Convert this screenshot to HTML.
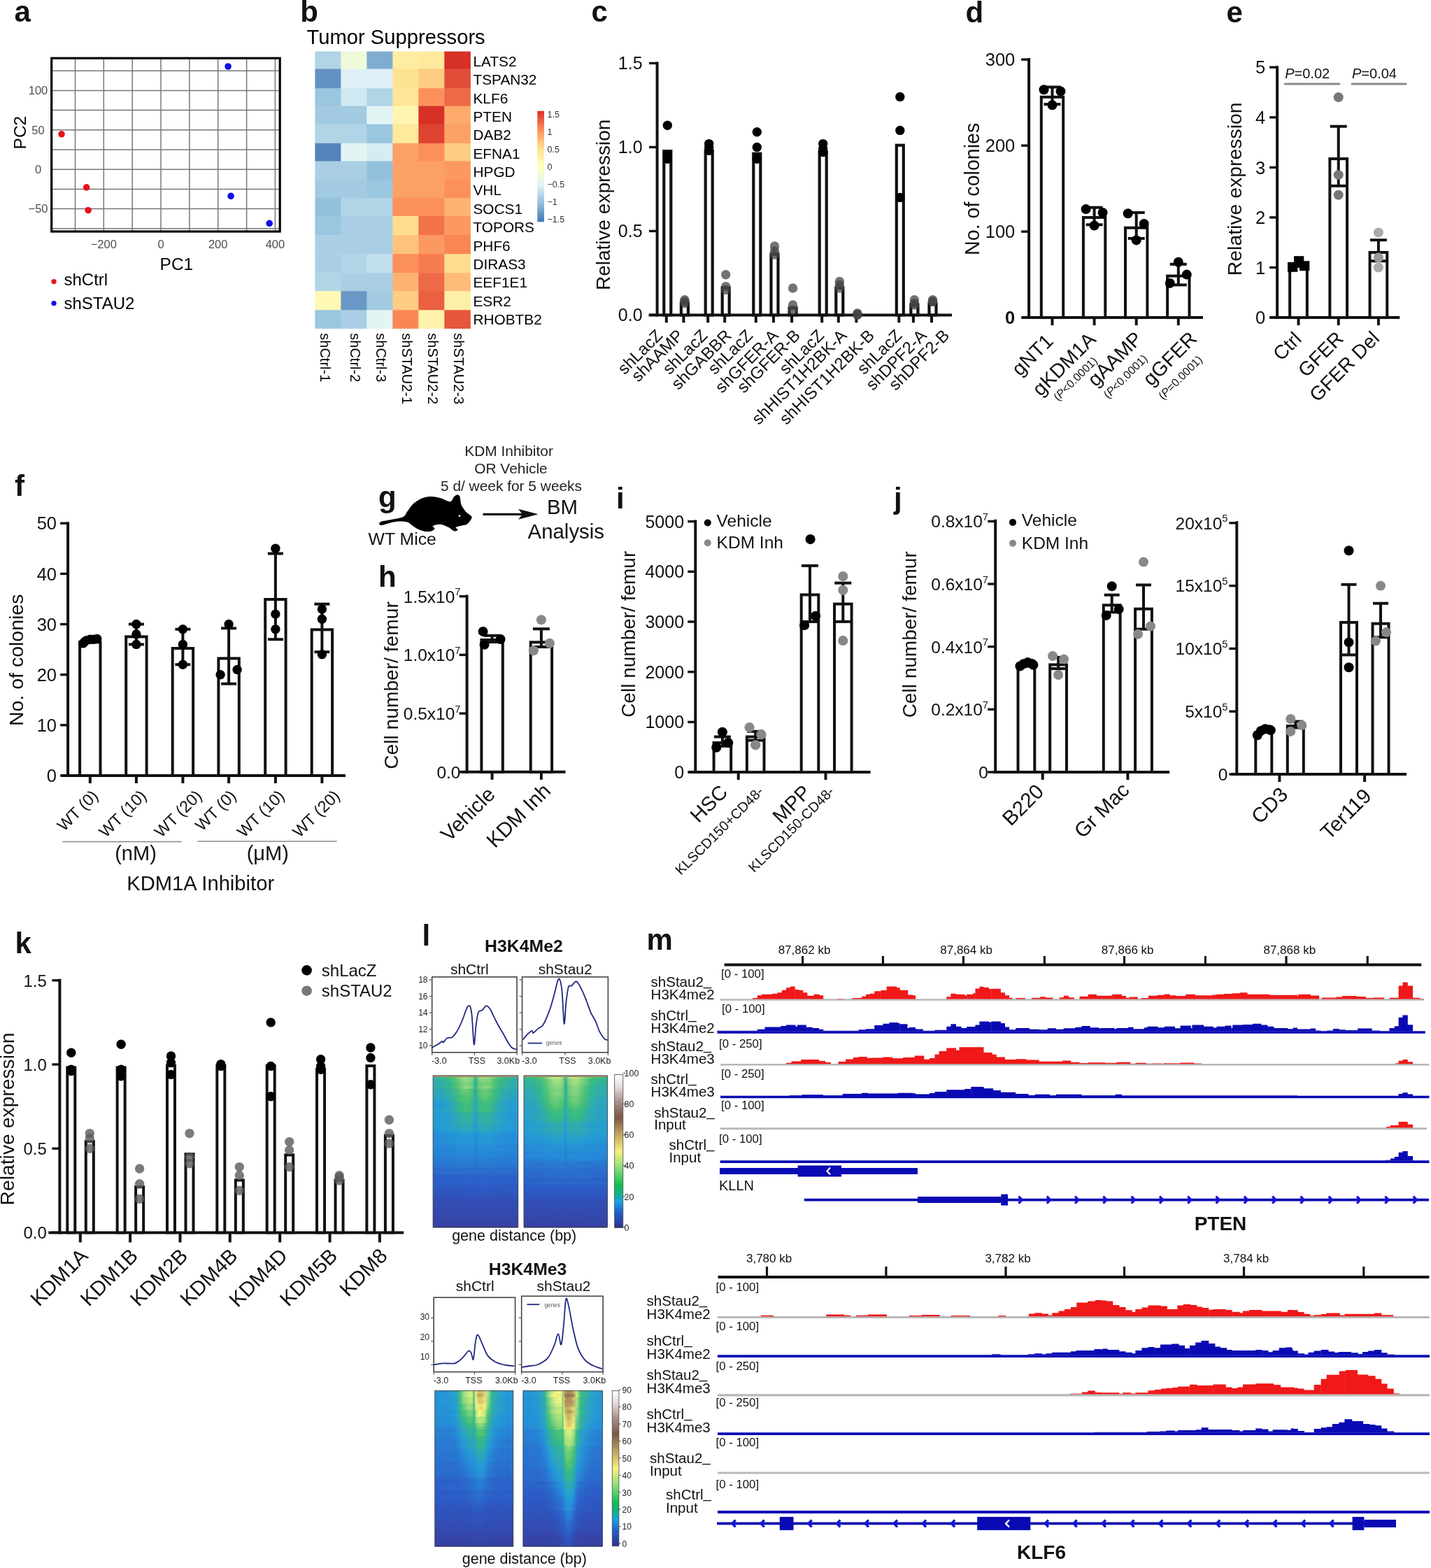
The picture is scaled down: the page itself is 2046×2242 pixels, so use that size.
<!DOCTYPE html>
<html><head><meta charset="utf-8"><title>Figure</title>
<style>html,body{margin:0;padding:0;background:#fff;}svg{display:block;}</style></head>
<body><svg width="2046" height="2242" viewBox="0 0 2046 2242" font-family='"Liberation Sans", Arial, Helvetica, sans-serif' fill="#111">
<rect width="2046" height="2242" fill="#fff"/>
<text x="20.5" y="30.8" font-size="42" font-weight="bold">a</text>
<line x1="107.5" y1="83.5" x2="107.5" y2="330.0" stroke="#777" stroke-width="1.5" stroke-linecap="butt"/>
<line x1="148.3" y1="83.5" x2="148.3" y2="330.0" stroke="#777" stroke-width="1.5" stroke-linecap="butt"/>
<line x1="189.2" y1="83.5" x2="189.2" y2="330.0" stroke="#777" stroke-width="1.5" stroke-linecap="butt"/>
<line x1="230.0" y1="83.5" x2="230.0" y2="330.0" stroke="#777" stroke-width="1.5" stroke-linecap="butt"/>
<line x1="270.9" y1="83.5" x2="270.9" y2="330.0" stroke="#777" stroke-width="1.5" stroke-linecap="butt"/>
<line x1="311.7" y1="83.5" x2="311.7" y2="330.0" stroke="#777" stroke-width="1.5" stroke-linecap="butt"/>
<line x1="352.6" y1="83.5" x2="352.6" y2="330.0" stroke="#777" stroke-width="1.5" stroke-linecap="butt"/>
<line x1="393.4" y1="83.5" x2="393.4" y2="330.0" stroke="#777" stroke-width="1.5" stroke-linecap="butt"/>
<line x1="74.0" y1="101.2" x2="399.5" y2="101.2" stroke="#777" stroke-width="1.5" stroke-linecap="butt"/>
<line x1="74.0" y1="129.4" x2="399.5" y2="129.4" stroke="#777" stroke-width="1.5" stroke-linecap="butt"/>
<line x1="74.0" y1="157.6" x2="399.5" y2="157.6" stroke="#777" stroke-width="1.5" stroke-linecap="butt"/>
<line x1="74.0" y1="185.8" x2="399.5" y2="185.8" stroke="#777" stroke-width="1.5" stroke-linecap="butt"/>
<line x1="74.0" y1="214.0" x2="399.5" y2="214.0" stroke="#777" stroke-width="1.5" stroke-linecap="butt"/>
<line x1="74.0" y1="242.2" x2="399.5" y2="242.2" stroke="#777" stroke-width="1.5" stroke-linecap="butt"/>
<line x1="74.0" y1="270.4" x2="399.5" y2="270.4" stroke="#777" stroke-width="1.5" stroke-linecap="butt"/>
<line x1="74.0" y1="298.6" x2="399.5" y2="298.6" stroke="#777" stroke-width="1.5" stroke-linecap="butt"/>
<line x1="74.0" y1="326.8" x2="399.5" y2="326.8" stroke="#777" stroke-width="1.5" stroke-linecap="butt"/>
<rect x="73.70" y="83.20" width="326.50" height="247.80" fill="none" stroke="#000" stroke-width="3.2"/>
<text x="54.5" y="135.2" font-size="16.5" text-anchor="middle" fill="#4d4d4d">100</text>
<text x="54.5" y="191.6" font-size="16.5" text-anchor="middle" fill="#4d4d4d">50</text>
<text x="54.5" y="248.0" font-size="16.5" text-anchor="middle" fill="#4d4d4d">0</text>
<text x="54.5" y="304.4" font-size="16.5" text-anchor="middle" fill="#4d4d4d">−50</text>
<text x="148.3" y="354.5" font-size="16.5" text-anchor="middle" fill="#4d4d4d">−200</text>
<text x="230.0" y="354.5" font-size="16.5" text-anchor="middle" fill="#4d4d4d">0</text>
<text x="311.7" y="354.5" font-size="16.5" text-anchor="middle" fill="#4d4d4d">200</text>
<text x="393.4" y="354.5" font-size="16.5" text-anchor="middle" fill="#4d4d4d">400</text>
<text x="252.4" y="385.5" font-size="24.5" text-anchor="middle" fill="#000">PC1</text>
<text x="37.5" y="189.6" font-size="24.5" text-anchor="middle" fill="#000" transform="rotate(-90 37.5 189.6)">PC2</text>
<circle cx="88.0" cy="191.8" r="4.8" fill="#e8121a"/>
<circle cx="123.7" cy="267.9" r="4.8" fill="#e8121a"/>
<circle cx="126.1" cy="300.7" r="4.8" fill="#e8121a"/>
<circle cx="326.1" cy="95.0" r="4.8" fill="#1010e6"/>
<circle cx="330.1" cy="280.4" r="4.8" fill="#1010e6"/>
<circle cx="385.2" cy="319.4" r="4.8" fill="#1010e6"/>
<circle cx="77.0" cy="402.6" r="3.6" fill="#e8121a"/>
<text x="91.5" y="407.5" font-size="24" fill="#000">shCtrl</text>
<circle cx="77.0" cy="433.7" r="3.6" fill="#1010e6"/>
<text x="91.5" y="442.0" font-size="24" fill="#000">shSTAU2</text>
<text x="429.3" y="31.0" font-size="42" font-weight="bold">b</text>
<text x="438.5" y="63.2" font-size="29.2" fill="#000">Tumor Suppressors</text>
<rect x="450.40" y="73.54" width="37.58" height="25.60" fill="#b1d4e7"/>
<rect x="487.38" y="73.54" width="37.58" height="25.60" fill="#f0f9da"/>
<rect x="524.37" y="73.54" width="37.58" height="25.60" fill="#7eadd1"/>
<rect x="561.35" y="73.54" width="37.58" height="25.60" fill="#feeca2"/>
<rect x="598.33" y="73.54" width="37.58" height="25.60" fill="#fee99d"/>
<rect x="635.32" y="73.54" width="37.58" height="25.60" fill="#d73027"/>
<text x="676.5" y="94.8" font-size="20.8" fill="#000">LATS2</text>
<rect x="450.40" y="98.54" width="37.58" height="28.31" fill="#6291c3"/>
<rect x="487.38" y="98.54" width="37.58" height="28.31" fill="#def1f7"/>
<rect x="524.37" y="98.54" width="37.58" height="28.31" fill="#def1f7"/>
<rect x="561.35" y="98.54" width="37.58" height="28.31" fill="#fee293"/>
<rect x="598.33" y="98.54" width="37.58" height="28.31" fill="#fecc83"/>
<rect x="635.32" y="98.54" width="37.58" height="28.31" fill="#e24d37"/>
<text x="676.5" y="121.2" font-size="20.8" fill="#000">TSPAN32</text>
<rect x="450.40" y="126.25" width="37.58" height="26.02" fill="#9bc6df"/>
<rect x="487.38" y="126.25" width="37.58" height="26.02" fill="#cfe8f2"/>
<rect x="524.37" y="126.25" width="37.58" height="26.02" fill="#b1d4e7"/>
<rect x="561.35" y="126.25" width="37.58" height="26.02" fill="#fee598"/>
<rect x="598.33" y="126.25" width="37.58" height="26.02" fill="#fc905b"/>
<rect x="635.32" y="126.25" width="37.58" height="26.02" fill="#ee6a46"/>
<text x="676.5" y="147.6" font-size="20.8" fill="#000">KLF6</text>
<rect x="450.40" y="151.67" width="37.58" height="26.64" fill="#a2cae1"/>
<rect x="487.38" y="151.67" width="37.58" height="26.64" fill="#a2cae1"/>
<rect x="524.37" y="151.67" width="37.58" height="26.64" fill="#e2f4f4"/>
<rect x="561.35" y="151.67" width="37.58" height="26.64" fill="#fff5b0"/>
<rect x="598.33" y="151.67" width="37.58" height="26.64" fill="#d73027"/>
<rect x="635.32" y="151.67" width="37.58" height="26.64" fill="#fdaa6c"/>
<text x="676.5" y="173.9" font-size="20.8" fill="#000">PTEN</text>
<rect x="450.40" y="177.71" width="37.58" height="27.68" fill="#b1d4e7"/>
<rect x="487.38" y="177.71" width="37.58" height="27.68" fill="#b1d4e7"/>
<rect x="524.37" y="177.71" width="37.58" height="27.68" fill="#9bc6df"/>
<rect x="561.35" y="177.71" width="37.58" height="27.68" fill="#fee99d"/>
<rect x="598.33" y="177.71" width="37.58" height="27.68" fill="#df4331"/>
<rect x="635.32" y="177.71" width="37.58" height="27.68" fill="#fca166"/>
<text x="676.5" y="200.3" font-size="20.8" fill="#000">DAB2</text>
<rect x="450.40" y="204.79" width="37.58" height="26.23" fill="#5383bb"/>
<rect x="487.38" y="204.79" width="37.58" height="26.23" fill="#e2f4f4"/>
<rect x="524.37" y="204.79" width="37.58" height="26.23" fill="#d6ecf4"/>
<rect x="561.35" y="204.79" width="37.58" height="26.23" fill="#fca166"/>
<rect x="598.33" y="204.79" width="37.58" height="26.23" fill="#fc905b"/>
<rect x="635.32" y="204.79" width="37.58" height="26.23" fill="#fecc83"/>
<text x="676.5" y="226.7" font-size="20.8" fill="#000">EFNA1</text>
<rect x="450.40" y="230.42" width="37.58" height="27.06" fill="#aacfe4"/>
<rect x="487.38" y="230.42" width="37.58" height="27.06" fill="#aacfe4"/>
<rect x="524.37" y="230.42" width="37.58" height="27.06" fill="#93c1dc"/>
<rect x="561.35" y="230.42" width="37.58" height="27.06" fill="#fca166"/>
<rect x="598.33" y="230.42" width="37.58" height="27.06" fill="#fca166"/>
<rect x="635.32" y="230.42" width="37.58" height="27.06" fill="#fc9861"/>
<text x="676.5" y="253.1" font-size="20.8" fill="#000">HPGD</text>
<rect x="450.40" y="256.88" width="37.58" height="26.64" fill="#a2cae1"/>
<rect x="487.38" y="256.88" width="37.58" height="26.64" fill="#a2cae1"/>
<rect x="524.37" y="256.88" width="37.58" height="26.64" fill="#9bc6df"/>
<rect x="561.35" y="256.88" width="37.58" height="26.64" fill="#fca166"/>
<rect x="598.33" y="256.88" width="37.58" height="26.64" fill="#fca166"/>
<rect x="635.32" y="256.88" width="37.58" height="26.64" fill="#fc905b"/>
<text x="676.5" y="279.4" font-size="20.8" fill="#000">VHL</text>
<rect x="450.40" y="282.92" width="37.58" height="26.64" fill="#93c1dc"/>
<rect x="487.38" y="282.92" width="37.58" height="26.64" fill="#b1d4e7"/>
<rect x="524.37" y="282.92" width="37.58" height="26.64" fill="#b1d4e7"/>
<rect x="561.35" y="282.92" width="37.58" height="26.64" fill="#fc905b"/>
<rect x="598.33" y="282.92" width="37.58" height="26.64" fill="#fc905b"/>
<rect x="635.32" y="282.92" width="37.58" height="26.64" fill="#fdb272"/>
<text x="676.5" y="305.8" font-size="20.8" fill="#000">SOCS1</text>
<rect x="450.40" y="308.96" width="37.58" height="27.68" fill="#9bc6df"/>
<rect x="487.38" y="308.96" width="37.58" height="27.68" fill="#aacfe4"/>
<rect x="524.37" y="308.96" width="37.58" height="27.68" fill="#aacfe4"/>
<rect x="561.35" y="308.96" width="37.58" height="27.68" fill="#fedd8e"/>
<rect x="598.33" y="308.96" width="37.58" height="27.68" fill="#f2734b"/>
<rect x="635.32" y="308.96" width="37.58" height="27.68" fill="#fc9861"/>
<text x="676.5" y="332.2" font-size="20.8" fill="#000">TOPORS</text>
<rect x="450.40" y="336.04" width="37.58" height="27.68" fill="#aacfe4"/>
<rect x="487.38" y="336.04" width="37.58" height="27.68" fill="#aacfe4"/>
<rect x="524.37" y="336.04" width="37.58" height="27.68" fill="#aacfe4"/>
<rect x="561.35" y="336.04" width="37.58" height="27.68" fill="#fdc37d"/>
<rect x="598.33" y="336.04" width="37.58" height="27.68" fill="#fc9861"/>
<rect x="635.32" y="336.04" width="37.58" height="27.68" fill="#f98756"/>
<text x="676.5" y="358.6" font-size="20.8" fill="#000">PHF6</text>
<rect x="450.40" y="363.12" width="37.58" height="27.68" fill="#aacfe4"/>
<rect x="487.38" y="363.12" width="37.58" height="27.68" fill="#b1d4e7"/>
<rect x="524.37" y="363.12" width="37.58" height="27.68" fill="#c0deec"/>
<rect x="561.35" y="363.12" width="37.58" height="27.68" fill="#fc905b"/>
<rect x="598.33" y="363.12" width="37.58" height="27.68" fill="#f67d50"/>
<rect x="635.32" y="363.12" width="37.58" height="27.68" fill="#fedd8e"/>
<text x="676.5" y="385.0" font-size="20.8" fill="#000">DIRAS3</text>
<rect x="450.40" y="390.21" width="37.58" height="26.64" fill="#b1d4e7"/>
<rect x="487.38" y="390.21" width="37.58" height="26.64" fill="#aacfe4"/>
<rect x="524.37" y="390.21" width="37.58" height="26.64" fill="#aacfe4"/>
<rect x="561.35" y="390.21" width="37.58" height="26.64" fill="#fdb272"/>
<rect x="598.33" y="390.21" width="37.58" height="26.64" fill="#ee6a46"/>
<rect x="635.32" y="390.21" width="37.58" height="26.64" fill="#fdbb77"/>
<text x="676.5" y="411.4" font-size="20.8" fill="#000">EEF1E1</text>
<rect x="450.40" y="416.25" width="37.58" height="27.68" fill="#fff9b5"/>
<rect x="487.38" y="416.25" width="37.58" height="27.68" fill="#6998c6"/>
<rect x="524.37" y="416.25" width="37.58" height="27.68" fill="#a2cae1"/>
<rect x="561.35" y="416.25" width="37.58" height="27.68" fill="#fecc83"/>
<rect x="598.33" y="416.25" width="37.58" height="27.68" fill="#ea6041"/>
<rect x="635.32" y="416.25" width="37.58" height="27.68" fill="#feefa7"/>
<text x="676.5" y="437.7" font-size="20.8" fill="#000">ESR2</text>
<rect x="450.40" y="443.33" width="37.58" height="26.64" fill="#9bc6df"/>
<rect x="487.38" y="443.33" width="37.58" height="26.64" fill="#aacfe4"/>
<rect x="524.37" y="443.33" width="37.58" height="26.64" fill="#e2f4f4"/>
<rect x="561.35" y="443.33" width="37.58" height="26.64" fill="#f98756"/>
<rect x="598.33" y="443.33" width="37.58" height="26.64" fill="#fff2ac"/>
<rect x="635.32" y="443.33" width="37.58" height="26.64" fill="#e6563c"/>
<text x="676.5" y="464.1" font-size="20.8" fill="#000">RHOBTB2</text>
<text x="457.9" y="476.3" font-size="20" fill="#000" transform="rotate(90 457.9 476.3)">shCtrl-1</text>
<text x="500.7" y="476.3" font-size="20" fill="#000" transform="rotate(90 500.7 476.3)">shCtrl-2</text>
<text x="537.7" y="476.3" font-size="20" fill="#000" transform="rotate(90 537.7 476.3)">shCtrl-3</text>
<text x="574.6" y="476.3" font-size="20" fill="#000" transform="rotate(90 574.6 476.3)">shSTAU2-1</text>
<text x="611.6" y="476.3" font-size="20" fill="#000" transform="rotate(90 611.6 476.3)">shSTAU2-2</text>
<text x="648.6" y="476.3" font-size="20" fill="#000" transform="rotate(90 648.6 476.3)">shSTAU2-3</text>
<defs><linearGradient id="hmcb" x1="0" y1="1" x2="0" y2="0"><stop offset="0.000" stop-color="#4575b4"/><stop offset="0.167" stop-color="#91bfdb"/><stop offset="0.333" stop-color="#e0f3f8"/><stop offset="0.500" stop-color="#ffffbf"/><stop offset="0.667" stop-color="#fee090"/><stop offset="0.833" stop-color="#fc8d59"/><stop offset="1.000" stop-color="#d73027"/></linearGradient></defs>
<rect x="768.30" y="158.70" width="9.70" height="158.60" fill="url(#hmcb)"/>
<text x="782.5" y="168.1" font-size="12.5" fill="#333">1.5</text>
<text x="782.5" y="193.1" font-size="12.5" fill="#333">1</text>
<text x="782.5" y="218.1" font-size="12.5" fill="#333">0.5</text>
<text x="782.5" y="243.1" font-size="12.5" fill="#333">0</text>
<text x="782.5" y="268.1" font-size="12.5" fill="#333">−0.5</text>
<text x="782.5" y="293.1" font-size="12.5" fill="#333">−1</text>
<text x="782.5" y="318.1" font-size="12.5" fill="#333">−1.5</text>
<text x="845.5" y="30.7" font-size="42" font-weight="bold">c</text>
<line x1="939.6" y1="88.4" x2="939.6" y2="452.4" stroke="#111" stroke-width="4" stroke-linecap="butt"/>
<line x1="927.6" y1="450.4" x2="1361.0" y2="450.4" stroke="#111" stroke-width="4" stroke-linecap="butt"/>
<line x1="928.0" y1="450.4" x2="939.6" y2="450.4" stroke="#111" stroke-width="3.4" stroke-linecap="butt"/>
<text x="918.6" y="459.4" font-size="25" text-anchor="end">0.0</text>
<line x1="928.0" y1="330.4" x2="939.6" y2="330.4" stroke="#111" stroke-width="3.4" stroke-linecap="butt"/>
<text x="918.6" y="339.4" font-size="25" text-anchor="end">0.5</text>
<line x1="928.0" y1="210.4" x2="939.6" y2="210.4" stroke="#111" stroke-width="3.4" stroke-linecap="butt"/>
<text x="918.6" y="219.4" font-size="25" text-anchor="end">1.0</text>
<line x1="928.0" y1="90.4" x2="939.6" y2="90.4" stroke="#111" stroke-width="3.4" stroke-linecap="butt"/>
<text x="918.6" y="99.4" font-size="25" text-anchor="end">1.5</text>
<line x1="952.8" y1="450.4" x2="952.8" y2="461.4" stroke="#111" stroke-width="4" stroke-linecap="butt"/>
<line x1="977.4" y1="450.4" x2="977.4" y2="461.4" stroke="#111" stroke-width="4" stroke-linecap="butt"/>
<line x1="1012.2" y1="450.4" x2="1012.2" y2="461.4" stroke="#111" stroke-width="4" stroke-linecap="butt"/>
<line x1="1036.2" y1="450.4" x2="1036.2" y2="461.4" stroke="#111" stroke-width="4" stroke-linecap="butt"/>
<line x1="1080.8" y1="450.4" x2="1080.8" y2="461.4" stroke="#111" stroke-width="4" stroke-linecap="butt"/>
<line x1="1106.0" y1="450.4" x2="1106.0" y2="461.4" stroke="#111" stroke-width="4" stroke-linecap="butt"/>
<line x1="1132.1" y1="450.4" x2="1132.1" y2="461.4" stroke="#111" stroke-width="4" stroke-linecap="butt"/>
<line x1="1175.2" y1="450.4" x2="1175.2" y2="461.4" stroke="#111" stroke-width="4" stroke-linecap="butt"/>
<line x1="1198.8" y1="450.4" x2="1198.8" y2="461.4" stroke="#111" stroke-width="4" stroke-linecap="butt"/>
<line x1="1224.4" y1="450.4" x2="1224.4" y2="461.4" stroke="#111" stroke-width="4" stroke-linecap="butt"/>
<line x1="1285.3" y1="450.4" x2="1285.3" y2="461.4" stroke="#111" stroke-width="4" stroke-linecap="butt"/>
<line x1="1305.9" y1="450.4" x2="1305.9" y2="461.4" stroke="#111" stroke-width="4" stroke-linecap="butt"/>
<line x1="1332.0" y1="450.4" x2="1332.0" y2="461.4" stroke="#111" stroke-width="4" stroke-linecap="butt"/>
<rect x="949.30" y="216.10" width="10.00" height="234.30" fill="#fff" stroke="#111" stroke-width="4.2"/>
<circle cx="954.3" cy="179.2" r="6.7" fill="#000"/>
<circle cx="954.3" cy="222.4" r="6.7" fill="#000"/>
<circle cx="954.3" cy="227.2" r="6.7" fill="#000"/>
<rect x="973.90" y="433.30" width="10.00" height="17.10" fill="#fff" stroke="#111" stroke-width="4.2"/>
<circle cx="978.9" cy="428.8" r="6.7" fill="#444" fill-opacity="0.75"/>
<circle cx="978.9" cy="431.2" r="6.7" fill="#444" fill-opacity="0.75"/>
<circle cx="978.9" cy="433.6" r="6.7" fill="#444" fill-opacity="0.75"/>
<rect x="1008.70" y="216.10" width="10.00" height="234.30" fill="#fff" stroke="#111" stroke-width="4.2"/>
<circle cx="1013.7" cy="205.6" r="6.7" fill="#000"/>
<circle cx="1013.7" cy="210.4" r="6.7" fill="#000"/>
<circle cx="1013.7" cy="215.2" r="6.7" fill="#000"/>
<rect x="1032.70" y="411.70" width="10.00" height="38.70" fill="#fff" stroke="#111" stroke-width="4.2"/>
<circle cx="1037.7" cy="392.8" r="6.7" fill="#444" fill-opacity="0.75"/>
<circle cx="1037.7" cy="409.6" r="6.7" fill="#444" fill-opacity="0.75"/>
<circle cx="1037.7" cy="414.4" r="6.7" fill="#444" fill-opacity="0.75"/>
<rect x="1077.30" y="219.70" width="10.00" height="230.70" fill="#fff" stroke="#111" stroke-width="4.2"/>
<circle cx="1082.3" cy="188.8" r="6.7" fill="#000"/>
<circle cx="1082.3" cy="210.4" r="6.7" fill="#000"/>
<circle cx="1082.3" cy="227.2" r="6.7" fill="#000"/>
<rect x="1102.50" y="363.70" width="10.00" height="86.70" fill="#fff" stroke="#111" stroke-width="4.2"/>
<circle cx="1107.5" cy="352.0" r="6.7" fill="#444" fill-opacity="0.75"/>
<circle cx="1107.5" cy="359.2" r="6.7" fill="#444" fill-opacity="0.75"/>
<circle cx="1107.5" cy="364.0" r="6.7" fill="#444" fill-opacity="0.75"/>
<rect x="1128.60" y="440.50" width="10.00" height="9.90" fill="#fff" stroke="#111" stroke-width="4.2"/>
<circle cx="1133.6" cy="412.0" r="6.7" fill="#444" fill-opacity="0.75"/>
<circle cx="1133.6" cy="436.0" r="6.7" fill="#444" fill-opacity="0.75"/>
<circle cx="1133.6" cy="443.2" r="6.7" fill="#444" fill-opacity="0.75"/>
<rect x="1171.70" y="217.30" width="10.00" height="233.10" fill="#fff" stroke="#111" stroke-width="4.2"/>
<circle cx="1176.7" cy="205.6" r="6.7" fill="#000"/>
<circle cx="1176.7" cy="212.8" r="6.7" fill="#000"/>
<circle cx="1176.7" cy="217.6" r="6.7" fill="#000"/>
<rect x="1195.30" y="411.70" width="10.00" height="38.70" fill="#fff" stroke="#111" stroke-width="4.2"/>
<circle cx="1200.3" cy="402.4" r="6.7" fill="#444" fill-opacity="0.75"/>
<circle cx="1200.3" cy="407.2" r="6.7" fill="#444" fill-opacity="0.75"/>
<circle cx="1200.3" cy="412.0" r="6.7" fill="#444" fill-opacity="0.75"/>
<rect x="1220.90" y="452.50" width="10.00" height="-2.10" fill="#fff" stroke="#111" stroke-width="4.2"/>
<circle cx="1225.9" cy="448.0" r="6.7" fill="#444" fill-opacity="0.75"/>
<circle cx="1225.9" cy="449.2" r="6.7" fill="#444" fill-opacity="0.75"/>
<circle cx="1225.9" cy="450.4" r="6.7" fill="#444" fill-opacity="0.75"/>
<rect x="1281.80" y="207.70" width="10.00" height="242.70" fill="#fff" stroke="#111" stroke-width="4.2"/>
<circle cx="1286.8" cy="138.4" r="6.7" fill="#000"/>
<circle cx="1286.8" cy="186.4" r="6.7" fill="#000"/>
<circle cx="1286.8" cy="282.4" r="6.7" fill="#000"/>
<rect x="1302.40" y="435.70" width="10.00" height="14.70" fill="#fff" stroke="#111" stroke-width="4.2"/>
<circle cx="1307.4" cy="428.8" r="6.7" fill="#444" fill-opacity="0.75"/>
<circle cx="1307.4" cy="433.6" r="6.7" fill="#444" fill-opacity="0.75"/>
<circle cx="1307.4" cy="436.0" r="6.7" fill="#444" fill-opacity="0.75"/>
<rect x="1328.50" y="434.50" width="10.00" height="15.90" fill="#fff" stroke="#111" stroke-width="4.2"/>
<circle cx="1333.5" cy="428.8" r="6.7" fill="#444" fill-opacity="0.75"/>
<circle cx="1333.5" cy="431.2" r="6.7" fill="#444" fill-opacity="0.75"/>
<circle cx="1333.5" cy="431.2" r="6.7" fill="#444" fill-opacity="0.75"/>
<text x="863.5" y="292.9" font-size="28" text-anchor="middle" transform="rotate(-90 863.5 292.9)" dy="9">Relative expression</text>
<text x="948.6" y="481.2" font-size="24" text-anchor="end" transform="rotate(-45 948.6 481.2)">shLacZ</text>
<text x="978.5" y="481.2" font-size="24" text-anchor="end" transform="rotate(-45 978.5 481.2)">shAAMP</text>
<text x="1013.0" y="481.2" font-size="24" text-anchor="end" transform="rotate(-45 1013.0 481.2)">shLacZ</text>
<text x="1047.2" y="481.2" font-size="24" text-anchor="end" transform="rotate(-45 1047.2 481.2)">shGABBR</text>
<text x="1077.7" y="481.2" font-size="24" text-anchor="end" transform="rotate(-45 1077.7 481.2)">shLacZ</text>
<text x="1114.3" y="481.2" font-size="24" text-anchor="end" transform="rotate(-45 1114.3 481.2)">shGFER-A</text>
<text x="1145.6" y="481.2" font-size="24" text-anchor="end" transform="rotate(-45 1145.6 481.2)">shGFER-B</text>
<text x="1179.6" y="481.2" font-size="24" text-anchor="end" transform="rotate(-45 1179.6 481.2)">shLacZ</text>
<text x="1212.2" y="481.2" font-size="24" text-anchor="end" transform="rotate(-45 1212.2 481.2)">shHIST1H2BK-A</text>
<text x="1251.6" y="481.2" font-size="24" text-anchor="end" transform="rotate(-45 1251.6 481.2)">shHIST1H2BK-B</text>
<text x="1291.0" y="481.2" font-size="24" text-anchor="end" transform="rotate(-45 1291.0 481.2)">shLacZ</text>
<text x="1326.3" y="481.2" font-size="24" text-anchor="end" transform="rotate(-45 1326.3 481.2)">shDPF2-A</text>
<text x="1358.9" y="481.2" font-size="24" text-anchor="end" transform="rotate(-45 1358.9 481.2)">shDPF2-B</text>
<text x="1380.5" y="31.5" font-size="42" font-weight="bold">d</text>
<line x1="1471.1" y1="83.0" x2="1471.1" y2="456.1" stroke="#111" stroke-width="4" stroke-linecap="butt"/>
<line x1="1461.4" y1="454.1" x2="1720.0" y2="454.1" stroke="#111" stroke-width="4" stroke-linecap="butt"/>
<line x1="1460.1" y1="454.1" x2="1471.1" y2="454.1" stroke="#111" stroke-width="3.4" stroke-linecap="butt"/>
<line x1="1460.1" y1="331.1" x2="1471.1" y2="331.1" stroke="#111" stroke-width="3.4" stroke-linecap="butt"/>
<text x="1451.3" y="340.3" font-size="25.5" text-anchor="end">100</text>
<line x1="1460.1" y1="208.1" x2="1471.1" y2="208.1" stroke="#111" stroke-width="3.4" stroke-linecap="butt"/>
<text x="1451.3" y="217.3" font-size="25.5" text-anchor="end">200</text>
<line x1="1460.1" y1="85.1" x2="1471.1" y2="85.1" stroke="#111" stroke-width="3.4" stroke-linecap="butt"/>
<text x="1451.3" y="94.3" font-size="25.5" text-anchor="end">300</text>
<text x="1451.3" y="463.3" font-size="25.5" text-anchor="end" font-weight="bold">0</text>
<line x1="1504.5" y1="454.1" x2="1504.5" y2="465.1" stroke="#111" stroke-width="4" stroke-linecap="butt"/>
<line x1="1564.6" y1="454.1" x2="1564.6" y2="465.1" stroke="#111" stroke-width="4" stroke-linecap="butt"/>
<line x1="1624.7" y1="454.1" x2="1624.7" y2="465.1" stroke="#111" stroke-width="4" stroke-linecap="butt"/>
<line x1="1684.8" y1="454.1" x2="1684.8" y2="465.1" stroke="#111" stroke-width="4" stroke-linecap="butt"/>
<rect x="1488.80" y="138.76" width="31.40" height="315.34" fill="#fff" stroke="#111" stroke-width="4"/>
<line x1="1504.5" y1="124.5" x2="1504.5" y2="149.1" stroke="#111" stroke-width="4" stroke-linecap="butt"/>
<line x1="1492.5" y1="124.5" x2="1516.5" y2="124.5" stroke="#111" stroke-width="4" stroke-linecap="butt"/>
<line x1="1492.5" y1="149.1" x2="1516.5" y2="149.1" stroke="#111" stroke-width="4" stroke-linecap="butt"/>
<circle cx="1492.5" cy="128.2" r="7" fill="#000"/>
<circle cx="1516.5" cy="130.6" r="7" fill="#000"/>
<circle cx="1504.5" cy="150.3" r="7" fill="#000"/>
<rect x="1548.90" y="310.96" width="31.40" height="143.14" fill="#fff" stroke="#111" stroke-width="4"/>
<line x1="1564.6" y1="296.7" x2="1564.6" y2="321.3" stroke="#111" stroke-width="4" stroke-linecap="butt"/>
<line x1="1552.6" y1="296.7" x2="1576.6" y2="296.7" stroke="#111" stroke-width="4" stroke-linecap="butt"/>
<line x1="1552.6" y1="321.3" x2="1576.6" y2="321.3" stroke="#111" stroke-width="4" stroke-linecap="butt"/>
<circle cx="1552.6" cy="299.1" r="7" fill="#000"/>
<circle cx="1576.6" cy="304.0" r="7" fill="#000"/>
<circle cx="1564.6" cy="322.5" r="7" fill="#000"/>
<rect x="1609.00" y="325.72" width="31.40" height="128.38" fill="#fff" stroke="#111" stroke-width="4"/>
<line x1="1624.7" y1="304.0" x2="1624.7" y2="340.9" stroke="#111" stroke-width="4" stroke-linecap="butt"/>
<line x1="1612.7" y1="304.0" x2="1636.7" y2="304.0" stroke="#111" stroke-width="4" stroke-linecap="butt"/>
<line x1="1612.7" y1="340.9" x2="1636.7" y2="340.9" stroke="#111" stroke-width="4" stroke-linecap="butt"/>
<circle cx="1612.7" cy="305.3" r="7" fill="#000"/>
<circle cx="1635.7" cy="320.0" r="7" fill="#000"/>
<circle cx="1624.7" cy="343.4" r="7" fill="#000"/>
<rect x="1669.10" y="394.60" width="31.40" height="59.50" fill="#fff" stroke="#111" stroke-width="4"/>
<line x1="1684.8" y1="377.8" x2="1684.8" y2="407.4" stroke="#111" stroke-width="4" stroke-linecap="butt"/>
<line x1="1672.8" y1="377.8" x2="1696.8" y2="377.8" stroke="#111" stroke-width="4" stroke-linecap="butt"/>
<line x1="1672.8" y1="407.4" x2="1696.8" y2="407.4" stroke="#111" stroke-width="4" stroke-linecap="butt"/>
<circle cx="1684.8" cy="374.8" r="7" fill="#000"/>
<circle cx="1696.8" cy="392.6" r="7" fill="#000"/>
<circle cx="1672.8" cy="404.9" r="7" fill="#000"/>
<text x="1390.7" y="270.3" font-size="28.6" text-anchor="middle" transform="rotate(-90 1390.7 270.3)" dy="9">No. of colonies</text>
<text x="1507.5" y="489.6" font-size="28.5" text-anchor="end" transform="rotate(-45 1507.5 489.6)">gNT1</text>
<text x="1568.5" y="487.0" font-size="28.5" text-anchor="end" transform="rotate(-45 1568.5 487.0)">gKDM1A</text>
<text x="1635.0" y="486.0" font-size="28.5" text-anchor="end" transform="rotate(-45 1635.0 486.0)">gAAMP</text>
<text x="1713.0" y="486.0" font-size="28.5" text-anchor="end" transform="rotate(-45 1713.0 486.0)">gGFER</text>
<text x="1570.0" y="517.0" font-size="16.2" text-anchor="end" transform="rotate(-45 1570.0 517.0)">(<tspan font-style="italic">P</tspan>&lt;0.0001)</text>
<text x="1641.6" y="513.7" font-size="16.2" text-anchor="end" transform="rotate(-45 1641.6 513.7)">(<tspan font-style="italic">P</tspan>&lt;0.0001)</text>
<text x="1720.0" y="515.3" font-size="16.2" text-anchor="end" transform="rotate(-45 1720.0 515.3)">(<tspan font-style="italic">P</tspan>=0.0001)</text>
<text x="1753.5" y="31.5" font-size="42" font-weight="bold">e</text>
<line x1="1826.1" y1="94.2" x2="1826.1" y2="456.1" stroke="#111" stroke-width="4" stroke-linecap="butt"/>
<line x1="1815.6" y1="454.1" x2="2001.3" y2="454.1" stroke="#111" stroke-width="4" stroke-linecap="butt"/>
<line x1="1815.1" y1="454.1" x2="1826.1" y2="454.1" stroke="#111" stroke-width="3.4" stroke-linecap="butt"/>
<text x="1809.3" y="463.3" font-size="25.5" text-anchor="end">0</text>
<line x1="1815.1" y1="382.5" x2="1826.1" y2="382.5" stroke="#111" stroke-width="3.4" stroke-linecap="butt"/>
<text x="1809.3" y="391.7" font-size="25.5" text-anchor="end">1</text>
<line x1="1815.1" y1="310.9" x2="1826.1" y2="310.9" stroke="#111" stroke-width="3.4" stroke-linecap="butt"/>
<text x="1809.3" y="320.1" font-size="25.5" text-anchor="end">2</text>
<line x1="1815.1" y1="239.4" x2="1826.1" y2="239.4" stroke="#111" stroke-width="3.4" stroke-linecap="butt"/>
<text x="1809.3" y="248.6" font-size="25.5" text-anchor="end">3</text>
<line x1="1815.1" y1="167.8" x2="1826.1" y2="167.8" stroke="#111" stroke-width="3.4" stroke-linecap="butt"/>
<text x="1809.3" y="177.0" font-size="25.5" text-anchor="end">4</text>
<line x1="1815.1" y1="96.2" x2="1826.1" y2="96.2" stroke="#111" stroke-width="3.4" stroke-linecap="butt"/>
<text x="1809.3" y="105.4" font-size="25.5" text-anchor="end">5</text>
<line x1="1856.5" y1="454.1" x2="1856.5" y2="465.1" stroke="#111" stroke-width="4" stroke-linecap="butt"/>
<line x1="1913.7" y1="454.1" x2="1913.7" y2="465.1" stroke="#111" stroke-width="4" stroke-linecap="butt"/>
<line x1="1970.9" y1="454.1" x2="1970.9" y2="465.1" stroke="#111" stroke-width="4" stroke-linecap="butt"/>
<rect x="1844.15" y="380.94" width="24.70" height="73.16" fill="#fff" stroke="#111" stroke-width="4"/>
<rect x="1901.35" y="227.04" width="24.70" height="227.06" fill="#fff" stroke="#111" stroke-width="4"/>
<rect x="1958.55" y="360.90" width="24.70" height="93.20" fill="#fff" stroke="#111" stroke-width="4"/>
<line x1="1913.7" y1="180.7" x2="1913.7" y2="265.8" stroke="#111" stroke-width="4" stroke-linecap="butt"/>
<line x1="1901.7" y1="180.7" x2="1925.7" y2="180.7" stroke="#111" stroke-width="4" stroke-linecap="butt"/>
<line x1="1901.7" y1="265.8" x2="1925.7" y2="265.8" stroke="#111" stroke-width="4" stroke-linecap="butt"/>
<line x1="1970.9" y1="343.2" x2="1970.9" y2="373.2" stroke="#111" stroke-width="4" stroke-linecap="butt"/>
<line x1="1958.9" y1="343.2" x2="1982.9" y2="343.2" stroke="#111" stroke-width="4" stroke-linecap="butt"/>
<line x1="1958.9" y1="373.2" x2="1982.9" y2="373.2" stroke="#111" stroke-width="4" stroke-linecap="butt"/>
<rect x="1841.00" y="374.80" width="14.30" height="14.00" fill="#000"/>
<rect x="1858.00" y="373.20" width="14.30" height="14.00" fill="#000"/>
<rect x="1850.00" y="366.20" width="14.30" height="14.00" fill="#000"/>
<circle cx="1913.7" cy="139.1" r="7" fill="#777"/>
<circle cx="1913.7" cy="250.1" r="7" fill="#777"/>
<circle cx="1913.7" cy="278.7" r="7" fill="#777"/>
<circle cx="1970.9" cy="332.4" r="7" fill="#aaa"/>
<circle cx="1970.9" cy="368.2" r="7" fill="#999"/>
<circle cx="1970.9" cy="382.5" r="7" fill="#aaa"/>
<line x1="1837.3" y1="120.0" x2="1914.8" y2="120.0" stroke="#8a8a8a" stroke-width="3.2" stroke-linecap="round"/>
<line x1="1933.0" y1="120.0" x2="2010.0" y2="120.0" stroke="#8a8a8a" stroke-width="3.2" stroke-linecap="round"/>
<text x="1837.2" y="111.9" font-size="20"><tspan font-style="italic">P</tspan>=0.02</text>
<text x="1933.0" y="111.9" font-size="20"><tspan font-style="italic">P</tspan>=0.04</text>
<text x="1766.5" y="270.3" font-size="28.4" text-anchor="middle" transform="rotate(-90 1766.5 270.3)" dy="9">Relative expression</text>
<text x="1862.5" y="486.4" font-size="28" text-anchor="end" transform="rotate(-45 1862.5 486.4)">Ctrl</text>
<text x="1922.5" y="485.7" font-size="28" text-anchor="end" transform="rotate(-45 1922.5 485.7)">GFER</text>
<text x="1974.0" y="485.7" font-size="28" text-anchor="end" transform="rotate(-45 1974.0 485.7)">GFER Del</text>
<text x="21.0" y="709.4" font-size="42" font-weight="bold">f</text>
<line x1="97.1" y1="746.2" x2="97.1" y2="1111.0" stroke="#111" stroke-width="4" stroke-linecap="butt"/>
<line x1="87.7" y1="1109.0" x2="494.0" y2="1109.0" stroke="#111" stroke-width="4" stroke-linecap="butt"/>
<line x1="86.1" y1="1109.0" x2="97.1" y2="1109.0" stroke="#111" stroke-width="3.4" stroke-linecap="butt"/>
<text x="81.0" y="1118.2" font-size="25.5" text-anchor="end">0</text>
<line x1="86.1" y1="1036.8" x2="97.1" y2="1036.8" stroke="#111" stroke-width="3.4" stroke-linecap="butt"/>
<text x="81.0" y="1046.0" font-size="25.5" text-anchor="end">10</text>
<line x1="86.1" y1="964.7" x2="97.1" y2="964.7" stroke="#111" stroke-width="3.4" stroke-linecap="butt"/>
<text x="81.0" y="973.9" font-size="25.5" text-anchor="end">20</text>
<line x1="86.1" y1="892.5" x2="97.1" y2="892.5" stroke="#111" stroke-width="3.4" stroke-linecap="butt"/>
<text x="81.0" y="901.7" font-size="25.5" text-anchor="end">30</text>
<line x1="86.1" y1="820.4" x2="97.1" y2="820.4" stroke="#111" stroke-width="3.4" stroke-linecap="butt"/>
<text x="81.0" y="829.6" font-size="25.5" text-anchor="end">40</text>
<line x1="86.1" y1="748.2" x2="97.1" y2="748.2" stroke="#111" stroke-width="3.4" stroke-linecap="butt"/>
<text x="81.0" y="757.4" font-size="25.5" text-anchor="end">50</text>
<line x1="128.8" y1="1109.0" x2="128.8" y2="1120.0" stroke="#111" stroke-width="4" stroke-linecap="butt"/>
<line x1="194.9" y1="1109.0" x2="194.9" y2="1120.0" stroke="#111" stroke-width="4" stroke-linecap="butt"/>
<line x1="261.4" y1="1109.0" x2="261.4" y2="1120.0" stroke="#111" stroke-width="4" stroke-linecap="butt"/>
<line x1="327.1" y1="1109.0" x2="327.1" y2="1120.0" stroke="#111" stroke-width="4" stroke-linecap="butt"/>
<line x1="393.9" y1="1109.0" x2="393.9" y2="1120.0" stroke="#111" stroke-width="4" stroke-linecap="butt"/>
<line x1="460.4" y1="1109.0" x2="460.4" y2="1120.0" stroke="#111" stroke-width="4" stroke-linecap="butt"/>
<rect x="114.10" y="918.33" width="29.40" height="190.67" fill="#fff" stroke="#111" stroke-width="4"/>
<circle cx="118.8" cy="919.9" r="6.7" fill="#000"/>
<circle cx="123.8" cy="915.6" r="6.7" fill="#000"/>
<circle cx="128.8" cy="914.2" r="6.7" fill="#000"/>
<circle cx="133.8" cy="914.2" r="6.7" fill="#000"/>
<circle cx="138.8" cy="913.4" r="6.7" fill="#000"/>
<circle cx="120.8" cy="917.8" r="6.7" fill="#000"/>
<rect x="180.20" y="910.40" width="29.40" height="198.60" fill="#fff" stroke="#111" stroke-width="4"/>
<line x1="194.9" y1="892.5" x2="194.9" y2="921.4" stroke="#111" stroke-width="4" stroke-linecap="butt"/>
<line x1="183.9" y1="892.5" x2="205.9" y2="892.5" stroke="#111" stroke-width="4" stroke-linecap="butt"/>
<line x1="183.9" y1="921.4" x2="205.9" y2="921.4" stroke="#111" stroke-width="4" stroke-linecap="butt"/>
<circle cx="194.9" cy="892.5" r="6.7" fill="#000"/>
<circle cx="194.9" cy="907.0" r="6.7" fill="#000"/>
<circle cx="194.9" cy="921.4" r="6.7" fill="#000"/>
<rect x="246.70" y="926.99" width="29.40" height="182.01" fill="#fff" stroke="#111" stroke-width="4"/>
<line x1="261.4" y1="899.7" x2="261.4" y2="950.2" stroke="#111" stroke-width="4" stroke-linecap="butt"/>
<line x1="250.4" y1="899.7" x2="272.4" y2="899.7" stroke="#111" stroke-width="4" stroke-linecap="butt"/>
<line x1="250.4" y1="950.2" x2="272.4" y2="950.2" stroke="#111" stroke-width="4" stroke-linecap="butt"/>
<circle cx="261.4" cy="899.7" r="6.7" fill="#000"/>
<circle cx="261.4" cy="921.4" r="6.7" fill="#000"/>
<circle cx="261.4" cy="950.2" r="6.7" fill="#000"/>
<rect x="312.40" y="941.42" width="29.40" height="167.58" fill="#fff" stroke="#111" stroke-width="4"/>
<line x1="327.1" y1="898.3" x2="327.1" y2="977.7" stroke="#111" stroke-width="4" stroke-linecap="butt"/>
<line x1="316.1" y1="898.3" x2="338.1" y2="898.3" stroke="#111" stroke-width="4" stroke-linecap="butt"/>
<line x1="316.1" y1="977.7" x2="338.1" y2="977.7" stroke="#111" stroke-width="4" stroke-linecap="butt"/>
<circle cx="327.1" cy="892.5" r="6.7" fill="#000"/>
<circle cx="315.1" cy="964.7" r="6.7" fill="#000"/>
<circle cx="339.1" cy="957.5" r="6.7" fill="#000"/>
<rect x="379.20" y="857.00" width="29.40" height="252.00" fill="#fff" stroke="#111" stroke-width="4"/>
<line x1="393.9" y1="791.5" x2="393.9" y2="914.2" stroke="#111" stroke-width="4" stroke-linecap="butt"/>
<line x1="382.9" y1="791.5" x2="404.9" y2="791.5" stroke="#111" stroke-width="4" stroke-linecap="butt"/>
<line x1="382.9" y1="914.2" x2="404.9" y2="914.2" stroke="#111" stroke-width="4" stroke-linecap="butt"/>
<circle cx="393.9" cy="784.3" r="6.7" fill="#000"/>
<circle cx="393.9" cy="878.1" r="6.7" fill="#000"/>
<circle cx="393.9" cy="899.7" r="6.7" fill="#000"/>
<rect x="445.70" y="900.29" width="29.40" height="208.71" fill="#fff" stroke="#111" stroke-width="4"/>
<line x1="460.4" y1="863.7" x2="460.4" y2="932.2" stroke="#111" stroke-width="4" stroke-linecap="butt"/>
<line x1="449.4" y1="863.7" x2="471.4" y2="863.7" stroke="#111" stroke-width="4" stroke-linecap="butt"/>
<line x1="449.4" y1="932.2" x2="471.4" y2="932.2" stroke="#111" stroke-width="4" stroke-linecap="butt"/>
<circle cx="460.4" cy="870.9" r="6.7" fill="#000"/>
<circle cx="460.4" cy="885.3" r="6.7" fill="#000"/>
<circle cx="460.4" cy="935.8" r="6.7" fill="#000"/>
<text x="141.7" y="1139.4" font-size="23.4" text-anchor="end" transform="rotate(-45 141.7 1139.4)">WT (0)</text>
<text x="210.8" y="1139.4" font-size="23.4" text-anchor="end" transform="rotate(-45 210.8 1139.4)">WT (10)</text>
<text x="290.0" y="1139.4" font-size="23.4" text-anchor="end" transform="rotate(-45 290.0 1139.4)">WT (20)</text>
<text x="339.0" y="1139.4" font-size="23.4" text-anchor="end" transform="rotate(-45 339.0 1139.4)">WT (0)</text>
<text x="408.1" y="1139.4" font-size="23.4" text-anchor="end" transform="rotate(-45 408.1 1139.4)">WT (10)</text>
<text x="487.4" y="1139.4" font-size="23.4" text-anchor="end" transform="rotate(-45 487.4 1139.4)">WT (20)</text>
<line x1="89.4" y1="1203.5" x2="259.7" y2="1203.5" stroke="#888" stroke-width="1.5" stroke-linecap="butt"/>
<line x1="282.6" y1="1203.0" x2="481.6" y2="1203.0" stroke="#888" stroke-width="1.5" stroke-linecap="butt"/>
<text x="194.0" y="1229.5" font-size="29" text-anchor="middle">(nM)</text>
<text x="382.8" y="1229.5" font-size="29" text-anchor="middle">(μM)</text>
<text x="286.7" y="1273.4" font-size="29.2" text-anchor="middle">KDM1A Inhibitor</text>
<text x="24.5" y="943.8" font-size="28.5" text-anchor="middle" transform="rotate(-90 24.5 943.8)" dy="9">No. of colonies</text>
<text x="541.0" y="724.5" font-size="42" font-weight="bold">g</text>
<path d="M542.2,748.2 C542.4,747.3 543.7,746.4 546.0,745.6 C548.3,744.8 551.0,744.6 556.0,743.5 C561.0,742.4 571.6,741.2 576.0,739.2 C580.4,737.2 579.7,734.7 582.2,731.5 C584.7,728.3 587.3,723.4 590.9,720.2 C594.5,717.0 599.5,713.9 603.9,712.2 C608.2,710.5 612.6,710.0 617.0,710.0 C621.4,710.0 626.0,711.1 630.0,712.2 C634.0,713.3 638.4,716.1 641.0,716.8 C643.6,717.5 644.2,717.3 645.5,716.3 C646.8,715.2 647.7,712.0 649.0,710.5 C650.3,709.0 652.1,707.8 653.5,707.6 C654.9,707.4 656.4,707.8 657.2,709.3 C658.0,710.8 658.0,714.5 658.5,716.7 C659.0,719.0 658.8,720.4 660.0,722.8 C661.2,725.2 663.9,729.2 665.7,731.3 C667.5,733.4 669.4,734.3 670.9,735.6 C672.4,736.9 674.3,737.9 674.6,739.3 C674.9,740.6 674.0,742.0 672.8,743.7 C671.6,745.5 669.5,748.5 667.4,749.8 C665.3,751.1 663.0,750.8 660.4,751.5 C657.8,752.2 652.7,753.1 651.7,754.1 C650.7,755.1 654.9,756.5 654.6,757.4 C654.3,758.3 651.5,759.6 650.0,759.5 C648.5,759.4 647.0,757.9 645.5,757.0 C644.0,756.1 643.9,755.3 641.3,754.1 C638.7,752.9 633.7,750.1 630.0,749.8 C626.3,749.4 620.4,751.0 619.0,752.0 C617.6,753.0 621.8,754.5 621.5,755.7 C621.2,757.0 619.2,758.8 617.0,759.5 C614.8,760.2 611.2,760.3 608.3,760.0 C605.4,759.7 602.5,758.9 599.6,757.6 C596.7,756.3 593.8,754.2 590.9,752.4 C588.0,750.6 585.8,747.7 582.2,746.6 C578.6,745.5 573.5,745.3 569.1,745.6 C564.7,745.9 560.0,747.3 556.0,748.2 C552.0,749.1 547.3,751.0 545.0,751.0 C542.7,751.0 542.0,749.1 542.2,748.2 Z" fill="#000"/>
<circle cx="657.0" cy="737.6" r="1.4" fill="#fff"/>
<text x="526.5" y="778.5" font-size="24.8">WT Mice</text>
<text x="727.6" y="652.0" font-size="20.9" text-anchor="middle" fill="#222">KDM Inhibitor</text>
<text x="730.5" y="676.6" font-size="20.9" text-anchor="middle" fill="#222">OR Vehicle</text>
<text x="731.0" y="701.6" font-size="20.9" text-anchor="middle" fill="#222">5 d/ week for 5 weeks</text>
<line x1="690.5" y1="735.3" x2="750.0" y2="735.3" stroke="#111" stroke-width="3.2" stroke-linecap="butt"/>
<path d="M769.7,735.3 L741,727.8 L747,735.3 L741,742.8 Z" fill="#111"/>
<text x="804.0" y="735.3" font-size="29.4" text-anchor="middle">BM</text>
<text x="809.3" y="770.0" font-size="29.4" text-anchor="middle">Analysis</text>
<text x="541.0" y="839.0" font-size="42" font-weight="bold">h</text>
<line x1="667.6" y1="850.6" x2="667.6" y2="1105.8" stroke="#111" stroke-width="4" stroke-linecap="butt"/>
<line x1="660.1" y1="1103.8" x2="808.5" y2="1103.8" stroke="#111" stroke-width="4" stroke-linecap="butt"/>
<line x1="656.6" y1="1103.8" x2="667.6" y2="1103.8" stroke="#111" stroke-width="3.4" stroke-linecap="butt"/>
<text x="658.5" y="1112.6" font-size="24.5" text-anchor="end">0.0</text>
<line x1="656.6" y1="1020.1" x2="667.6" y2="1020.1" stroke="#111" stroke-width="3.4" stroke-linecap="butt"/>
<text x="658.5" y="1028.9" font-size="24.5" text-anchor="end">0.5x10<tspan font-size="14.7" dy="-10.3">7</tspan></text>
<line x1="656.6" y1="936.4" x2="667.6" y2="936.4" stroke="#111" stroke-width="3.4" stroke-linecap="butt"/>
<text x="658.5" y="945.2" font-size="24.5" text-anchor="end">1.0x10<tspan font-size="14.7" dy="-10.3">7</tspan></text>
<line x1="656.6" y1="852.7" x2="667.6" y2="852.7" stroke="#111" stroke-width="3.4" stroke-linecap="butt"/>
<text x="658.5" y="861.5" font-size="24.5" text-anchor="end">1.5x10<tspan font-size="14.7" dy="-10.3">7</tspan></text>
<line x1="703.6" y1="1103.8" x2="703.6" y2="1114.8" stroke="#111" stroke-width="4" stroke-linecap="butt"/>
<line x1="773.9" y1="1103.8" x2="773.9" y2="1114.8" stroke="#111" stroke-width="4" stroke-linecap="butt"/>
<rect x="688.40" y="914.96" width="30.40" height="188.84" fill="#fff" stroke="#111" stroke-width="4"/>
<rect x="758.70" y="918.31" width="30.40" height="185.49" fill="#fff" stroke="#111" stroke-width="4"/>
<line x1="703.6" y1="908.8" x2="703.6" y2="918.0" stroke="#111" stroke-width="4" stroke-linecap="butt"/>
<line x1="691.6" y1="908.8" x2="715.6" y2="908.8" stroke="#111" stroke-width="4" stroke-linecap="butt"/>
<line x1="691.6" y1="918.0" x2="715.6" y2="918.0" stroke="#111" stroke-width="4" stroke-linecap="butt"/>
<line x1="773.9" y1="899.2" x2="773.9" y2="925.0" stroke="#111" stroke-width="4" stroke-linecap="butt"/>
<line x1="761.9" y1="899.2" x2="785.9" y2="899.2" stroke="#111" stroke-width="4" stroke-linecap="butt"/>
<line x1="761.9" y1="925.0" x2="785.9" y2="925.0" stroke="#111" stroke-width="4" stroke-linecap="butt"/>
<circle cx="690.6" cy="902.9" r="7" fill="#000"/>
<circle cx="715.6" cy="914.0" r="7" fill="#000"/>
<circle cx="692.6" cy="921.8" r="7" fill="#000"/>
<circle cx="773.9" cy="886.2" r="7" fill="#888"/>
<circle cx="785.9" cy="919.7" r="7" fill="#888"/>
<circle cx="762.9" cy="930.2" r="7" fill="#888"/>
<text x="559.0" y="980.0" font-size="28.2" text-anchor="middle" transform="rotate(-90 559.0 980.0)" dy="9.5">Cell number/ femur</text>
<text x="709.5" y="1137.6" font-size="29.5" text-anchor="end" transform="rotate(-45 709.5 1137.6)">Vehicle</text>
<text x="789.0" y="1132.6" font-size="29.5" text-anchor="end" transform="rotate(-45 789.0 1132.6)">KDM Inh</text>
<text x="881.0" y="727.3" font-size="42" font-weight="bold">i</text>
<line x1="994.3" y1="743.5" x2="994.3" y2="1106.1" stroke="#111" stroke-width="4" stroke-linecap="butt"/>
<line x1="984.2" y1="1104.1" x2="1244.6" y2="1104.1" stroke="#111" stroke-width="4" stroke-linecap="butt"/>
<line x1="983.3" y1="1104.1" x2="994.3" y2="1104.1" stroke="#111" stroke-width="3.4" stroke-linecap="butt"/>
<text x="978.1" y="1113.1" font-size="25" text-anchor="end">0</text>
<line x1="983.3" y1="1032.4" x2="994.3" y2="1032.4" stroke="#111" stroke-width="3.4" stroke-linecap="butt"/>
<text x="978.1" y="1041.4" font-size="25" text-anchor="end">1000</text>
<line x1="983.3" y1="960.7" x2="994.3" y2="960.7" stroke="#111" stroke-width="3.4" stroke-linecap="butt"/>
<text x="978.1" y="969.7" font-size="25" text-anchor="end">2000</text>
<line x1="983.3" y1="889.0" x2="994.3" y2="889.0" stroke="#111" stroke-width="3.4" stroke-linecap="butt"/>
<text x="978.1" y="898.0" font-size="25" text-anchor="end">3000</text>
<line x1="983.3" y1="817.3" x2="994.3" y2="817.3" stroke="#111" stroke-width="3.4" stroke-linecap="butt"/>
<text x="978.1" y="826.3" font-size="25" text-anchor="end">4000</text>
<line x1="983.3" y1="745.6" x2="994.3" y2="745.6" stroke="#111" stroke-width="3.4" stroke-linecap="butt"/>
<text x="978.1" y="754.6" font-size="25" text-anchor="end">5000</text>
<line x1="1055.7" y1="1104.1" x2="1055.7" y2="1115.1" stroke="#111" stroke-width="4" stroke-linecap="butt"/>
<line x1="1180.5" y1="1104.1" x2="1180.5" y2="1115.1" stroke="#111" stroke-width="4" stroke-linecap="butt"/>
<rect x="1020.60" y="1062.00" width="24.60" height="42.10" fill="#fff" stroke="#111" stroke-width="4"/>
<rect x="1067.90" y="1053.47" width="24.60" height="50.63" fill="#fff" stroke="#111" stroke-width="4"/>
<rect x="1145.70" y="850.42" width="24.60" height="253.68" fill="#fff" stroke="#111" stroke-width="4"/>
<rect x="1193.00" y="863.61" width="24.60" height="240.49" fill="#fff" stroke="#111" stroke-width="4"/>
<line x1="1032.9" y1="1053.5" x2="1032.9" y2="1066.8" stroke="#111" stroke-width="4" stroke-linecap="butt"/>
<line x1="1020.9" y1="1053.5" x2="1044.9" y2="1053.5" stroke="#111" stroke-width="4" stroke-linecap="butt"/>
<line x1="1020.9" y1="1066.8" x2="1044.9" y2="1066.8" stroke="#111" stroke-width="4" stroke-linecap="butt"/>
<line x1="1080.2" y1="1045.8" x2="1080.2" y2="1058.6" stroke="#111" stroke-width="4" stroke-linecap="butt"/>
<line x1="1068.2" y1="1045.8" x2="1092.2" y2="1045.8" stroke="#111" stroke-width="4" stroke-linecap="butt"/>
<line x1="1068.2" y1="1058.6" x2="1092.2" y2="1058.6" stroke="#111" stroke-width="4" stroke-linecap="butt"/>
<line x1="1158.0" y1="808.9" x2="1158.0" y2="889.0" stroke="#111" stroke-width="4" stroke-linecap="butt"/>
<line x1="1146.0" y1="808.9" x2="1170.0" y2="808.9" stroke="#111" stroke-width="4" stroke-linecap="butt"/>
<line x1="1146.0" y1="889.0" x2="1170.0" y2="889.0" stroke="#111" stroke-width="4" stroke-linecap="butt"/>
<line x1="1205.3" y1="833.6" x2="1205.3" y2="888.9" stroke="#111" stroke-width="4" stroke-linecap="butt"/>
<line x1="1193.3" y1="833.6" x2="1217.3" y2="833.6" stroke="#111" stroke-width="4" stroke-linecap="butt"/>
<line x1="1193.3" y1="888.9" x2="1217.3" y2="888.9" stroke="#111" stroke-width="4" stroke-linecap="butt"/>
<circle cx="1032.9" cy="1046.8" r="7.1" fill="#000"/>
<circle cx="1041.2" cy="1062.0" r="7.1" fill="#000"/>
<circle cx="1024.3" cy="1068.7" r="7.1" fill="#000"/>
<circle cx="1071.5" cy="1040.0" r="7.1" fill="#888"/>
<circle cx="1088.4" cy="1050.2" r="7.1" fill="#888"/>
<circle cx="1080.2" cy="1065.3" r="7.1" fill="#888"/>
<circle cx="1158.6" cy="771.1" r="7.1" fill="#000"/>
<circle cx="1166.0" cy="880.8" r="7.1" fill="#000"/>
<circle cx="1150.1" cy="894.0" r="7.1" fill="#000"/>
<circle cx="1205.3" cy="824.1" r="7.1" fill="#888"/>
<circle cx="1205.3" cy="843.8" r="7.1" fill="#888"/>
<circle cx="1205.3" cy="915.9" r="7.1" fill="#888"/>
<circle cx="1011.8" cy="747.5" r="5" fill="#000"/>
<text x="1024.6" y="752.6" font-size="24.5">Vehicle</text>
<circle cx="1011.8" cy="776.2" r="5" fill="#888"/>
<text x="1024.6" y="784.3" font-size="24.5">KDM Inh</text>
<text x="898.8" y="906.8" font-size="28" text-anchor="middle" transform="rotate(-90 898.8 906.8)" dy="9.5">Cell number/ femur</text>
<text x="1042.0" y="1134.5" font-size="29" text-anchor="end" transform="rotate(-45 1042.0 1134.5)">HSC</text>
<text x="1092.8" y="1132.8" font-size="19.9" text-anchor="end" transform="rotate(-45 1092.8 1132.8)">KLSCD150+CD48-</text>
<text x="1161.0" y="1134.5" font-size="29" text-anchor="end" transform="rotate(-45 1161.0 1134.5)">MPP</text>
<text x="1194.0" y="1132.8" font-size="19.9" text-anchor="end" transform="rotate(-45 1194.0 1132.8)">KLSCD150-CD48-</text>
<text x="1278.0" y="726.5" font-size="42" font-weight="bold">j</text>
<line x1="1423.2" y1="742.7" x2="1423.2" y2="1106.0" stroke="#111" stroke-width="4" stroke-linecap="butt"/>
<line x1="1420.5" y1="1104.0" x2="1672.2" y2="1104.0" stroke="#111" stroke-width="4" stroke-linecap="butt"/>
<line x1="1412.2" y1="1104.0" x2="1423.2" y2="1104.0" stroke="#111" stroke-width="3.4" stroke-linecap="butt"/>
<text x="1413.0" y="1112.8" font-size="24.5" text-anchor="end">0</text>
<line x1="1412.2" y1="1014.3" x2="1423.2" y2="1014.3" stroke="#111" stroke-width="3.4" stroke-linecap="butt"/>
<text x="1413.0" y="1023.1" font-size="24.5" text-anchor="end">0.2x10<tspan font-size="14.7" dy="-10.3">7</tspan></text>
<line x1="1412.2" y1="924.7" x2="1423.2" y2="924.7" stroke="#111" stroke-width="3.4" stroke-linecap="butt"/>
<text x="1413.0" y="933.5" font-size="24.5" text-anchor="end">0.4x10<tspan font-size="14.7" dy="-10.3">7</tspan></text>
<line x1="1412.2" y1="835.0" x2="1423.2" y2="835.0" stroke="#111" stroke-width="3.4" stroke-linecap="butt"/>
<text x="1413.0" y="843.8" font-size="24.5" text-anchor="end">0.6x10<tspan font-size="14.7" dy="-10.3">7</tspan></text>
<line x1="1412.2" y1="745.4" x2="1423.2" y2="745.4" stroke="#111" stroke-width="3.4" stroke-linecap="butt"/>
<text x="1413.0" y="754.2" font-size="24.5" text-anchor="end">0.8x10<tspan font-size="14.7" dy="-10.3">7</tspan></text>
<line x1="1490.7" y1="1104.0" x2="1490.7" y2="1115.0" stroke="#111" stroke-width="4" stroke-linecap="butt"/>
<line x1="1612.4" y1="1104.0" x2="1612.4" y2="1115.0" stroke="#111" stroke-width="4" stroke-linecap="butt"/>
<rect x="1455.50" y="952.68" width="23.80" height="151.32" fill="#fff" stroke="#111" stroke-width="4"/>
<rect x="1501.20" y="950.44" width="23.80" height="153.56" fill="#fff" stroke="#111" stroke-width="4"/>
<rect x="1577.80" y="865.26" width="23.80" height="238.74" fill="#fff" stroke="#111" stroke-width="4"/>
<rect x="1623.10" y="870.64" width="23.80" height="233.36" fill="#fff" stroke="#111" stroke-width="4"/>
<line x1="1513.1" y1="939.9" x2="1513.1" y2="956.1" stroke="#111" stroke-width="4" stroke-linecap="butt"/>
<line x1="1502.1" y1="939.9" x2="1524.1" y2="939.9" stroke="#111" stroke-width="4" stroke-linecap="butt"/>
<line x1="1502.1" y1="956.1" x2="1524.1" y2="956.1" stroke="#111" stroke-width="4" stroke-linecap="butt"/>
<line x1="1589.7" y1="850.7" x2="1589.7" y2="875.4" stroke="#111" stroke-width="4" stroke-linecap="butt"/>
<line x1="1578.7" y1="850.7" x2="1600.7" y2="850.7" stroke="#111" stroke-width="4" stroke-linecap="butt"/>
<line x1="1578.7" y1="875.4" x2="1600.7" y2="875.4" stroke="#111" stroke-width="4" stroke-linecap="butt"/>
<line x1="1635.0" y1="836.4" x2="1635.0" y2="899.6" stroke="#111" stroke-width="4" stroke-linecap="butt"/>
<line x1="1624.0" y1="836.4" x2="1646.0" y2="836.4" stroke="#111" stroke-width="4" stroke-linecap="butt"/>
<line x1="1624.0" y1="899.6" x2="1646.0" y2="899.6" stroke="#111" stroke-width="4" stroke-linecap="butt"/>
<circle cx="1458.4" cy="952.5" r="7" fill="#000"/>
<circle cx="1463.4" cy="949.3" r="7" fill="#000"/>
<circle cx="1469.4" cy="947.1" r="7" fill="#000"/>
<circle cx="1475.4" cy="948.9" r="7" fill="#000"/>
<circle cx="1477.4" cy="950.7" r="7" fill="#000"/>
<circle cx="1505.1" cy="938.1" r="7" fill="#888"/>
<circle cx="1521.1" cy="942.6" r="7" fill="#888"/>
<circle cx="1513.1" cy="965.0" r="7" fill="#888"/>
<circle cx="1589.7" cy="838.2" r="7" fill="#000"/>
<circle cx="1599.7" cy="870.9" r="7" fill="#000"/>
<circle cx="1581.7" cy="879.9" r="7" fill="#000"/>
<circle cx="1635.0" cy="803.6" r="7" fill="#888"/>
<circle cx="1645.0" cy="895.5" r="7" fill="#888"/>
<circle cx="1627.0" cy="906.7" r="7" fill="#888"/>
<circle cx="1448.0" cy="746.9" r="5" fill="#000"/>
<text x="1460.8" y="752.1" font-size="24.5">Vehicle</text>
<circle cx="1448.0" cy="776.8" r="5" fill="#888"/>
<text x="1460.8" y="784.5" font-size="24.5">KDM Inh</text>
<text x="1300.6" y="907.3" font-size="28" text-anchor="middle" transform="rotate(-90 1300.6 907.3)" dy="9.5">Cell number/ femur</text>
<text x="1494.0" y="1133.6" font-size="29.5" text-anchor="end" transform="rotate(-45 1494.0 1133.6)">B220</text>
<text x="1616.5" y="1131.5" font-size="29.5" text-anchor="end" transform="rotate(-45 1616.5 1131.5)">Gr Mac</text>
<line x1="1768.3" y1="745.3" x2="1768.3" y2="1109.0" stroke="#111" stroke-width="4" stroke-linecap="butt"/>
<line x1="1760.0" y1="1107.0" x2="2011.0" y2="1107.0" stroke="#111" stroke-width="4" stroke-linecap="butt"/>
<line x1="1757.3" y1="1107.0" x2="1768.3" y2="1107.0" stroke="#111" stroke-width="3.4" stroke-linecap="butt"/>
<text x="1755.5" y="1115.8" font-size="24.5" text-anchor="end">0</text>
<line x1="1757.3" y1="1017.2" x2="1768.3" y2="1017.2" stroke="#111" stroke-width="3.4" stroke-linecap="butt"/>
<text x="1755.5" y="1026.0" font-size="24.5" text-anchor="end">5x10<tspan font-size="14.7" dy="-10.3">5</tspan></text>
<line x1="1757.3" y1="927.4" x2="1768.3" y2="927.4" stroke="#111" stroke-width="3.4" stroke-linecap="butt"/>
<text x="1755.5" y="936.2" font-size="24.5" text-anchor="end">10x10<tspan font-size="14.7" dy="-10.3">5</tspan></text>
<line x1="1757.3" y1="837.6" x2="1768.3" y2="837.6" stroke="#111" stroke-width="3.4" stroke-linecap="butt"/>
<text x="1755.5" y="846.4" font-size="24.5" text-anchor="end">15x10<tspan font-size="14.7" dy="-10.3">5</tspan></text>
<line x1="1757.3" y1="747.8" x2="1768.3" y2="747.8" stroke="#111" stroke-width="3.4" stroke-linecap="butt"/>
<text x="1755.5" y="756.6" font-size="24.5" text-anchor="end">20x10<tspan font-size="14.7" dy="-10.3">5</tspan></text>
<line x1="1829.4" y1="1107.0" x2="1829.4" y2="1118.0" stroke="#111" stroke-width="4" stroke-linecap="butt"/>
<line x1="1951.1" y1="1107.0" x2="1951.1" y2="1118.0" stroke="#111" stroke-width="4" stroke-linecap="butt"/>
<rect x="1795.30" y="1047.04" width="23.00" height="59.96" fill="#fff" stroke="#111" stroke-width="4"/>
<rect x="1840.80" y="1038.06" width="23.00" height="68.94" fill="#fff" stroke="#111" stroke-width="4"/>
<rect x="1917.00" y="889.89" width="23.00" height="217.11" fill="#fff" stroke="#111" stroke-width="4"/>
<rect x="1962.50" y="891.68" width="23.00" height="215.32" fill="#fff" stroke="#111" stroke-width="4"/>
<line x1="1852.3" y1="1031.6" x2="1852.3" y2="1040.5" stroke="#111" stroke-width="4" stroke-linecap="butt"/>
<line x1="1841.3" y1="1031.6" x2="1863.3" y2="1031.6" stroke="#111" stroke-width="4" stroke-linecap="butt"/>
<line x1="1841.3" y1="1040.5" x2="1863.3" y2="1040.5" stroke="#111" stroke-width="4" stroke-linecap="butt"/>
<line x1="1928.5" y1="835.8" x2="1928.5" y2="936.4" stroke="#111" stroke-width="4" stroke-linecap="butt"/>
<line x1="1917.5" y1="835.8" x2="1939.5" y2="835.8" stroke="#111" stroke-width="4" stroke-linecap="butt"/>
<line x1="1917.5" y1="936.4" x2="1939.5" y2="936.4" stroke="#111" stroke-width="4" stroke-linecap="butt"/>
<line x1="1974.0" y1="862.7" x2="1974.0" y2="911.2" stroke="#111" stroke-width="4" stroke-linecap="butt"/>
<line x1="1963.0" y1="862.7" x2="1985.0" y2="862.7" stroke="#111" stroke-width="4" stroke-linecap="butt"/>
<line x1="1963.0" y1="911.2" x2="1985.0" y2="911.2" stroke="#111" stroke-width="4" stroke-linecap="butt"/>
<circle cx="1797.8" cy="1051.3" r="7" fill="#000"/>
<circle cx="1802.8" cy="1045.0" r="7" fill="#000"/>
<circle cx="1808.8" cy="1042.3" r="7" fill="#000"/>
<circle cx="1814.8" cy="1043.2" r="7" fill="#000"/>
<circle cx="1816.8" cy="1044.1" r="7" fill="#000"/>
<circle cx="1845.3" cy="1028.0" r="7" fill="#888"/>
<circle cx="1861.3" cy="1037.0" r="7" fill="#888"/>
<circle cx="1845.3" cy="1045.9" r="7" fill="#888"/>
<circle cx="1928.5" cy="787.3" r="7" fill="#000"/>
<circle cx="1928.5" cy="918.4" r="7" fill="#000"/>
<circle cx="1928.5" cy="954.3" r="7" fill="#000"/>
<circle cx="1974.0" cy="837.6" r="7" fill="#888"/>
<circle cx="1982.0" cy="904.1" r="7" fill="#888"/>
<circle cx="1967.0" cy="916.6" r="7" fill="#888"/>
<text x="1843.0" y="1137.8" font-size="29.5" text-anchor="end" transform="rotate(-45 1843.0 1137.8)">CD3</text>
<text x="1962.5" y="1139.8" font-size="29.5" text-anchor="end" transform="rotate(-45 1962.5 1139.8)">Ter119</text>
<text x="21.5" y="1363.0" font-size="42" font-weight="bold">k</text>
<line x1="85.4" y1="1399.7" x2="85.4" y2="1764.4" stroke="#111" stroke-width="4" stroke-linecap="butt"/>
<line x1="69.3" y1="1762.4" x2="577.2" y2="1762.4" stroke="#111" stroke-width="4" stroke-linecap="butt"/>
<line x1="74.4" y1="1762.4" x2="85.4" y2="1762.4" stroke="#111" stroke-width="3.4" stroke-linecap="butt"/>
<text x="66.8" y="1771.2" font-size="24" text-anchor="end">0.0</text>
<line x1="74.4" y1="1642.2" x2="85.4" y2="1642.2" stroke="#111" stroke-width="3.4" stroke-linecap="butt"/>
<text x="66.8" y="1651.0" font-size="24" text-anchor="end">0.5</text>
<line x1="74.4" y1="1522.0" x2="85.4" y2="1522.0" stroke="#111" stroke-width="3.4" stroke-linecap="butt"/>
<text x="66.8" y="1530.8" font-size="24" text-anchor="end">1.0</text>
<line x1="74.4" y1="1401.8" x2="85.4" y2="1401.8" stroke="#111" stroke-width="3.4" stroke-linecap="butt"/>
<text x="66.8" y="1410.6" font-size="24" text-anchor="end">1.5</text>
<line x1="114.8" y1="1762.4" x2="114.8" y2="1776.4" stroke="#111" stroke-width="4" stroke-linecap="butt"/>
<line x1="186.1" y1="1762.4" x2="186.1" y2="1776.4" stroke="#111" stroke-width="4" stroke-linecap="butt"/>
<line x1="257.5" y1="1762.4" x2="257.5" y2="1776.4" stroke="#111" stroke-width="4" stroke-linecap="butt"/>
<line x1="328.8" y1="1762.4" x2="328.8" y2="1776.4" stroke="#111" stroke-width="4" stroke-linecap="butt"/>
<line x1="400.2" y1="1762.4" x2="400.2" y2="1776.4" stroke="#111" stroke-width="4" stroke-linecap="butt"/>
<line x1="471.6" y1="1762.4" x2="471.6" y2="1776.4" stroke="#111" stroke-width="4" stroke-linecap="butt"/>
<line x1="542.9" y1="1762.4" x2="542.9" y2="1776.4" stroke="#111" stroke-width="4" stroke-linecap="butt"/>
<rect x="96.30" y="1526.40" width="11.00" height="236.00" fill="#fff" stroke="#111" stroke-width="4"/>
<rect x="122.80" y="1632.18" width="11.00" height="130.22" fill="#fff" stroke="#111" stroke-width="4"/>
<circle cx="101.8" cy="1505.2" r="6.7" fill="#000"/>
<circle cx="101.8" cy="1529.2" r="6.7" fill="#000"/>
<circle cx="101.8" cy="1531.6" r="6.7" fill="#000"/>
<circle cx="128.3" cy="1620.6" r="6.7" fill="#5a5a5a" fill-opacity="0.8"/>
<circle cx="128.3" cy="1627.8" r="6.7" fill="#5a5a5a" fill-opacity="0.8"/>
<circle cx="128.3" cy="1642.2" r="6.7" fill="#5a5a5a" fill-opacity="0.8"/>
<rect x="167.65" y="1526.40" width="11.00" height="236.00" fill="#fff" stroke="#111" stroke-width="4"/>
<rect x="194.15" y="1697.09" width="11.00" height="65.31" fill="#fff" stroke="#111" stroke-width="4"/>
<circle cx="173.1" cy="1493.2" r="6.7" fill="#000"/>
<circle cx="173.1" cy="1529.2" r="6.7" fill="#000"/>
<circle cx="173.1" cy="1538.8" r="6.7" fill="#000"/>
<circle cx="199.6" cy="1671.0" r="6.7" fill="#5a5a5a" fill-opacity="0.8"/>
<circle cx="199.6" cy="1692.7" r="6.7" fill="#5a5a5a" fill-opacity="0.8"/>
<circle cx="199.6" cy="1714.3" r="6.7" fill="#5a5a5a" fill-opacity="0.8"/>
<rect x="239.00" y="1524.00" width="11.00" height="238.40" fill="#fff" stroke="#111" stroke-width="4"/>
<rect x="265.50" y="1650.21" width="11.00" height="112.19" fill="#fff" stroke="#111" stroke-width="4"/>
<circle cx="244.5" cy="1510.0" r="6.7" fill="#000"/>
<circle cx="244.5" cy="1519.6" r="6.7" fill="#000"/>
<circle cx="244.5" cy="1536.4" r="6.7" fill="#000"/>
<circle cx="271.0" cy="1620.6" r="6.7" fill="#5a5a5a" fill-opacity="0.8"/>
<circle cx="271.0" cy="1654.2" r="6.7" fill="#5a5a5a" fill-opacity="0.8"/>
<circle cx="271.0" cy="1663.8" r="6.7" fill="#5a5a5a" fill-opacity="0.8"/>
<rect x="310.35" y="1524.00" width="11.00" height="238.40" fill="#fff" stroke="#111" stroke-width="4"/>
<rect x="336.85" y="1687.47" width="11.00" height="74.93" fill="#fff" stroke="#111" stroke-width="4"/>
<circle cx="315.8" cy="1522.0" r="6.7" fill="#000"/>
<circle cx="315.8" cy="1524.4" r="6.7" fill="#000"/>
<circle cx="315.8" cy="1522.0" r="6.7" fill="#000"/>
<circle cx="342.3" cy="1668.6" r="6.7" fill="#5a5a5a" fill-opacity="0.8"/>
<circle cx="342.3" cy="1680.7" r="6.7" fill="#5a5a5a" fill-opacity="0.8"/>
<circle cx="342.3" cy="1702.3" r="6.7" fill="#5a5a5a" fill-opacity="0.8"/>
<rect x="381.70" y="1524.00" width="11.00" height="238.40" fill="#fff" stroke="#111" stroke-width="4"/>
<rect x="408.20" y="1651.41" width="11.00" height="110.99" fill="#fff" stroke="#111" stroke-width="4"/>
<circle cx="387.2" cy="1461.9" r="6.7" fill="#000"/>
<circle cx="387.2" cy="1524.4" r="6.7" fill="#000"/>
<circle cx="387.2" cy="1567.7" r="6.7" fill="#000"/>
<circle cx="413.7" cy="1632.6" r="6.7" fill="#5a5a5a" fill-opacity="0.8"/>
<circle cx="413.7" cy="1644.6" r="6.7" fill="#5a5a5a" fill-opacity="0.8"/>
<circle cx="413.7" cy="1668.6" r="6.7" fill="#5a5a5a" fill-opacity="0.8"/>
<rect x="453.05" y="1528.81" width="11.00" height="233.59" fill="#fff" stroke="#111" stroke-width="4"/>
<rect x="479.55" y="1687.47" width="11.00" height="74.93" fill="#fff" stroke="#111" stroke-width="4"/>
<circle cx="458.6" cy="1514.8" r="6.7" fill="#000"/>
<circle cx="458.6" cy="1524.4" r="6.7" fill="#000"/>
<circle cx="458.6" cy="1529.2" r="6.7" fill="#000"/>
<circle cx="485.1" cy="1680.7" r="6.7" fill="#5a5a5a" fill-opacity="0.8"/>
<circle cx="485.1" cy="1683.1" r="6.7" fill="#5a5a5a" fill-opacity="0.8"/>
<circle cx="485.1" cy="1687.9" r="6.7" fill="#5a5a5a" fill-opacity="0.8"/>
<rect x="524.40" y="1524.00" width="11.00" height="238.40" fill="#fff" stroke="#111" stroke-width="4"/>
<rect x="550.90" y="1623.77" width="11.00" height="138.63" fill="#fff" stroke="#111" stroke-width="4"/>
<circle cx="529.9" cy="1498.0" r="6.7" fill="#000"/>
<circle cx="529.9" cy="1512.4" r="6.7" fill="#000"/>
<circle cx="529.9" cy="1550.8" r="6.7" fill="#000"/>
<circle cx="556.4" cy="1601.3" r="6.7" fill="#5a5a5a" fill-opacity="0.8"/>
<circle cx="556.4" cy="1620.6" r="6.7" fill="#5a5a5a" fill-opacity="0.8"/>
<circle cx="556.4" cy="1635.0" r="6.7" fill="#5a5a5a" fill-opacity="0.8"/>
<circle cx="438.6" cy="1387.4" r="7.3" fill="#000"/>
<text x="459.8" y="1395.5" font-size="24">shLacZ</text>
<circle cx="438.6" cy="1416.7" r="7.3" fill="#777"/>
<text x="459.8" y="1424.8" font-size="24">shSTAU2</text>
<text x="11.4" y="1600.0" font-size="28.3" text-anchor="middle" transform="rotate(-90 11.4 1600.0)" dy="9">Relative expression</text>
<text x="127.5" y="1797.5" font-size="29.5" text-anchor="end" transform="rotate(-45 127.5 1797.5)">KDM1A</text>
<text x="198.8" y="1797.5" font-size="29.5" text-anchor="end" transform="rotate(-45 198.8 1797.5)">KDM1B</text>
<text x="270.2" y="1797.5" font-size="29.5" text-anchor="end" transform="rotate(-45 270.2 1797.5)">KDM2B</text>
<text x="341.5" y="1797.5" font-size="29.5" text-anchor="end" transform="rotate(-45 341.5 1797.5)">KDM4B</text>
<text x="412.9" y="1797.5" font-size="29.5" text-anchor="end" transform="rotate(-45 412.9 1797.5)">KDM4D</text>
<text x="484.2" y="1797.5" font-size="29.5" text-anchor="end" transform="rotate(-45 484.2 1797.5)">KDM5B</text>
<text x="555.6" y="1797.5" font-size="29.5" text-anchor="end" transform="rotate(-45 555.6 1797.5)">KDM8</text>
<text x="603.5" y="1352.0" font-size="42" font-weight="bold">l</text>
<text x="748.9" y="1361.1" font-size="24.8" text-anchor="middle" font-weight="bold">H3K4Me2</text>
<text x="671.3" y="1392.6" font-size="21" text-anchor="middle">shCtrl</text>
<text x="808.2" y="1392.6" font-size="21" text-anchor="middle">shStau2</text>
<rect x="617.70" y="1396.90" width="121.40" height="107.90" fill="none" stroke="#444" stroke-width="1.6"/>
<line x1="617.7" y1="1504.8" x2="617.7" y2="1508.8" stroke="#555" stroke-width="1.2" stroke-linecap="butt"/>
<line x1="678.4" y1="1504.8" x2="678.4" y2="1508.8" stroke="#555" stroke-width="1.2" stroke-linecap="butt"/>
<line x1="739.1" y1="1504.8" x2="739.1" y2="1508.8" stroke="#555" stroke-width="1.2" stroke-linecap="butt"/>
<text x="617.2" y="1520.8" font-size="12.5" fill="#222">-3.0</text>
<text x="681.9" y="1520.8" font-size="12.5" text-anchor="middle" fill="#222">TSS</text>
<text x="743.1" y="1520.8" font-size="12.5" text-anchor="end" fill="#222">3.0Kb</text>
<line x1="613.7" y1="1401.0" x2="617.7" y2="1401.0" stroke="#555" stroke-width="1.2" stroke-linecap="butt"/>
<line x1="613.7" y1="1424.5" x2="617.7" y2="1424.5" stroke="#555" stroke-width="1.2" stroke-linecap="butt"/>
<line x1="613.7" y1="1448.0" x2="617.7" y2="1448.0" stroke="#555" stroke-width="1.2" stroke-linecap="butt"/>
<line x1="613.7" y1="1471.8" x2="617.7" y2="1471.8" stroke="#555" stroke-width="1.2" stroke-linecap="butt"/>
<line x1="613.7" y1="1495.0" x2="617.7" y2="1495.0" stroke="#555" stroke-width="1.2" stroke-linecap="butt"/>
<rect x="746.60" y="1396.90" width="122.80" height="107.90" fill="none" stroke="#444" stroke-width="1.6"/>
<line x1="746.6" y1="1504.8" x2="746.6" y2="1508.8" stroke="#555" stroke-width="1.2" stroke-linecap="butt"/>
<line x1="808.0" y1="1504.8" x2="808.0" y2="1508.8" stroke="#555" stroke-width="1.2" stroke-linecap="butt"/>
<line x1="869.4" y1="1504.8" x2="869.4" y2="1508.8" stroke="#555" stroke-width="1.2" stroke-linecap="butt"/>
<text x="746.1" y="1520.8" font-size="12.5" fill="#222">-3.0</text>
<text x="811.5" y="1520.8" font-size="12.5" text-anchor="middle" fill="#222">TSS</text>
<text x="873.4" y="1520.8" font-size="12.5" text-anchor="end" fill="#222">3.0Kb</text>
<line x1="742.6" y1="1401.0" x2="746.6" y2="1401.0" stroke="#555" stroke-width="1.2" stroke-linecap="butt"/>
<line x1="742.6" y1="1424.5" x2="746.6" y2="1424.5" stroke="#555" stroke-width="1.2" stroke-linecap="butt"/>
<line x1="742.6" y1="1448.0" x2="746.6" y2="1448.0" stroke="#555" stroke-width="1.2" stroke-linecap="butt"/>
<line x1="742.6" y1="1471.8" x2="746.6" y2="1471.8" stroke="#555" stroke-width="1.2" stroke-linecap="butt"/>
<line x1="742.6" y1="1495.0" x2="746.6" y2="1495.0" stroke="#555" stroke-width="1.2" stroke-linecap="butt"/>
<text x="611.5" y="1405.3" font-size="12" text-anchor="end" fill="#222">18</text>
<text x="611.5" y="1428.8" font-size="12" text-anchor="end" fill="#222">16</text>
<text x="611.5" y="1452.3" font-size="12" text-anchor="end" fill="#222">14</text>
<text x="611.5" y="1476.1" font-size="12" text-anchor="end" fill="#222">12</text>
<text x="611.5" y="1499.3" font-size="12" text-anchor="end" fill="#222">10</text>
<path d="M617.7,1498.0 C619.0,1497.2 623.1,1494.9 625.6,1493.4 C628.1,1491.9 631.1,1489.4 632.5,1488.9 C633.9,1488.4 632.9,1491.3 634.0,1490.5 C635.1,1489.7 637.3,1485.5 639.3,1484.3 C641.3,1483.1 643.9,1484.7 646.2,1483.2 C648.5,1481.7 650.7,1478.8 653.0,1475.2 C655.3,1471.6 657.6,1466.8 659.9,1461.5 C662.2,1456.2 665.1,1447.1 666.7,1443.2 C668.3,1439.3 668.5,1438.8 669.5,1438.2 C670.5,1437.6 671.5,1437.4 672.4,1439.8 C673.3,1442.2 673.8,1443.5 674.7,1452.4 C675.6,1461.3 676.8,1490.8 677.7,1493.4 C678.7,1496.1 679.4,1475.9 680.4,1468.3 C681.4,1460.7 682.3,1451.8 683.8,1447.8 C685.3,1443.8 687.6,1446.0 689.5,1444.4 C691.4,1442.8 693.3,1438.4 695.2,1438.2 C697.1,1438.0 699.3,1440.8 701.0,1443.2 C702.7,1445.6 703.6,1448.6 705.5,1452.4 C707.4,1456.2 710.1,1461.8 712.4,1466.0 C714.7,1470.2 716.9,1473.5 719.2,1477.5 C721.5,1481.5 723.9,1486.6 726.0,1490.0 C728.1,1493.4 729.7,1496.2 731.8,1498.0 C733.9,1499.8 737.5,1500.2 738.6,1500.7" fill="none" stroke="#20287f" stroke-width="1.8" stroke-linejoin="round"/>
<path d="M747.7,1486.6 C748.7,1485.4 751.3,1481.8 753.4,1479.7 C755.5,1477.6 758.8,1474.5 760.3,1474.0 C761.8,1473.5 761.1,1477.6 762.6,1477.0 C764.1,1476.4 767.3,1472.2 769.4,1470.6 C771.5,1469.0 773.2,1469.5 775.1,1467.2 C777.0,1464.9 778.7,1461.7 780.8,1456.9 C782.9,1452.2 785.6,1445.2 787.7,1438.7 C789.8,1432.2 791.7,1424.4 793.4,1418.1 C795.1,1411.8 796.6,1403.7 797.9,1401.0 C799.1,1398.3 799.9,1399.4 800.9,1402.2 C801.9,1405.0 802.6,1407.8 803.6,1418.1 C804.6,1428.4 805.7,1461.1 806.6,1463.8 C807.5,1466.5 808.3,1442.8 809.3,1434.1 C810.3,1425.3 811.5,1415.4 812.8,1411.3 C814.1,1407.2 815.4,1410.8 817.3,1409.5 C819.2,1408.2 821.9,1402.6 824.2,1403.3 C826.5,1404.0 828.7,1409.2 831.0,1413.6 C833.3,1418.0 835.6,1423.8 837.9,1429.5 C840.2,1435.2 842.4,1442.7 844.7,1447.8 C847.0,1452.9 849.5,1455.7 851.6,1460.3 C853.7,1464.9 855.2,1471.0 857.3,1475.2 C859.4,1479.4 862.2,1483.4 864.1,1485.4 C866.0,1487.4 867.9,1486.7 868.7,1487.0" fill="none" stroke="#20287f" stroke-width="1.8" stroke-linejoin="round"/>
<line x1="754.6" y1="1491.6" x2="775.1" y2="1491.6" stroke="#20287f" stroke-width="1.8" stroke-linecap="butt"/>
<text x="780.8" y="1494.2" font-size="8.3" fill="#555">genes</text>
<defs>
<linearGradient id="cb100" x1="0" y1="1" x2="0" y2="0">
<stop offset="0" stop-color="#2c2f8e"/><stop offset="0.1" stop-color="#2160c8"/><stop offset="0.17" stop-color="#1aa0e6"/><stop offset="0.22" stop-color="#12b08a"/><stop offset="0.28" stop-color="#10c050"/><stop offset="0.4" stop-color="#96e07a"/><stop offset="0.5" stop-color="#f5f17e"/><stop offset="0.6" stop-color="#c8aa62"/><stop offset="0.72" stop-color="#7c5646"/><stop offset="0.82" stop-color="#a88e88"/><stop offset="0.92" stop-color="#e6dcdc"/><stop offset="1" stop-color="#ffffff"/>
</linearGradient>
<linearGradient id="hmv2" x1="0" y1="0" x2="0" y2="1">
<stop offset="0" stop-color="#a89a5a"/><stop offset="0.02" stop-color="#7ccf73"/><stop offset="0.12" stop-color="#48b896"/><stop offset="0.3" stop-color="#2f8fc8"/><stop offset="0.55" stop-color="#2a66c4"/><stop offset="0.8" stop-color="#2f44a8"/><stop offset="1" stop-color="#33359c"/>
</linearGradient>
<linearGradient id="hmv3" x1="0" y1="0" x2="0" y2="1">
<stop offset="0" stop-color="#4aa8a8"/><stop offset="0.1" stop-color="#2e98c8"/><stop offset="0.3" stop-color="#2e84d0"/><stop offset="0.55" stop-color="#2c62c2"/><stop offset="0.8" stop-color="#2f44a8"/><stop offset="1" stop-color="#33359c"/>
</linearGradient>
<linearGradient id="grn" x1="0" y1="0" x2="0" y2="1">
<stop offset="0" stop-color="#9ade72" stop-opacity="0.9"/><stop offset="0.5" stop-color="#60cc80" stop-opacity="0.6"/><stop offset="1" stop-color="#40b0a0" stop-opacity="0"/>
</linearGradient>
<linearGradient id="brn" x1="0" y1="0" x2="0" y2="1">
<stop offset="0" stop-color="#b89a70"/><stop offset="0.5" stop-color="#c0b070"/><stop offset="1" stop-color="#c8d070" stop-opacity="0.4"/>
</linearGradient>
<linearGradient id="grn3" x1="0" y1="0" x2="0" y2="1">
<stop offset="0" stop-color="#a8dc70"/><stop offset="0.6" stop-color="#70d070" stop-opacity="0.8"/><stop offset="1" stop-color="#40c0a0" stop-opacity="0"/>
</linearGradient>
<filter id="bl3" x="-20%" y="-20%" width="140%" height="140%"><feGaussianBlur stdDeviation="3"/></filter>
<filter id="bl5" x="-20%" y="-20%" width="140%" height="140%"><feGaussianBlur stdDeviation="5"/></filter>
<clipPath id="hc1"><rect x="619.1" y="1537.9" width="121.7" height="216.7"/></clipPath>
<clipPath id="hc2"><rect x="749" y="1537.9" width="119.5" height="216.7"/></clipPath>
<clipPath id="hc3"><rect x="621.8" y="1988.4" width="112" height="222.3"/></clipPath>
<clipPath id="hc4"><rect x="747.9" y="1988.4" width="113.5" height="222.3"/></clipPath>
</defs>
<defs><linearGradient id="g1"><stop offset="0.000" stop-color="#32b19d"/><stop offset="0.100" stop-color="#33b590"/><stop offset="0.200" stop-color="#40bd7e"/><stop offset="0.275" stop-color="#65c979"/><stop offset="0.335" stop-color="#93d880"/><stop offset="0.380" stop-color="#99da80"/><stop offset="0.420" stop-color="#95d980"/><stop offset="0.450" stop-color="#89d580"/><stop offset="0.470" stop-color="#81d27f"/><stop offset="0.485" stop-color="#47c078"/><stop offset="0.500" stop-color="#30aab0"/><stop offset="0.515" stop-color="#46bf79"/><stop offset="0.530" stop-color="#78cf7d"/><stop offset="0.550" stop-color="#86d380"/><stop offset="0.580" stop-color="#9fdc80"/><stop offset="0.620" stop-color="#9cdb80"/><stop offset="0.665" stop-color="#8fd780"/><stop offset="0.725" stop-color="#63c979"/><stop offset="0.800" stop-color="#3ebc80"/><stop offset="0.900" stop-color="#33b396"/><stop offset="1.000" stop-color="#32b19d"/></linearGradient><linearGradient id="g2"><stop offset="0.000" stop-color="#31aea5"/><stop offset="0.100" stop-color="#31afa3"/><stop offset="0.200" stop-color="#39ba84"/><stop offset="0.275" stop-color="#5ac677"/><stop offset="0.335" stop-color="#84d37f"/><stop offset="0.380" stop-color="#96d980"/><stop offset="0.420" stop-color="#8ad580"/><stop offset="0.450" stop-color="#7cd07e"/><stop offset="0.470" stop-color="#6ecc7b"/><stop offset="0.485" stop-color="#43be7c"/><stop offset="0.500" stop-color="#2ea8b6"/><stop offset="0.515" stop-color="#40bd7e"/><stop offset="0.530" stop-color="#6fcc7b"/><stop offset="0.550" stop-color="#7fd17e"/><stop offset="0.580" stop-color="#89d480"/><stop offset="0.620" stop-color="#87d480"/><stop offset="0.665" stop-color="#85d37f"/><stop offset="0.725" stop-color="#50c375"/><stop offset="0.800" stop-color="#37b985"/><stop offset="0.900" stop-color="#31afa2"/><stop offset="1.000" stop-color="#31ada8"/></linearGradient><linearGradient id="g3"><stop offset="0.000" stop-color="#2fa9b3"/><stop offset="0.100" stop-color="#30abae"/><stop offset="0.200" stop-color="#33b68f"/><stop offset="0.275" stop-color="#4bc275"/><stop offset="0.335" stop-color="#6ccc7a"/><stop offset="0.380" stop-color="#7fd17e"/><stop offset="0.420" stop-color="#78cf7d"/><stop offset="0.450" stop-color="#6bcb7a"/><stop offset="0.470" stop-color="#63c979"/><stop offset="0.485" stop-color="#3abb83"/><stop offset="0.500" stop-color="#2da6ba"/><stop offset="0.515" stop-color="#3dbc80"/><stop offset="0.530" stop-color="#60c878"/><stop offset="0.550" stop-color="#63c979"/><stop offset="0.580" stop-color="#71cd7b"/><stop offset="0.620" stop-color="#74ce7c"/><stop offset="0.665" stop-color="#6bcb7a"/><stop offset="0.725" stop-color="#4dc274"/><stop offset="0.800" stop-color="#34b68d"/><stop offset="0.900" stop-color="#31ada8"/><stop offset="1.000" stop-color="#2fa9b2"/></linearGradient><linearGradient id="g4"><stop offset="0.000" stop-color="#31ada8"/><stop offset="0.100" stop-color="#31afa3"/><stop offset="0.200" stop-color="#35b888"/><stop offset="0.275" stop-color="#4cc274"/><stop offset="0.335" stop-color="#74ce7c"/><stop offset="0.380" stop-color="#8ed680"/><stop offset="0.420" stop-color="#89d480"/><stop offset="0.450" stop-color="#7ed17e"/><stop offset="0.470" stop-color="#67ca79"/><stop offset="0.485" stop-color="#44bf7a"/><stop offset="0.500" stop-color="#2ea7b7"/><stop offset="0.515" stop-color="#45bf7a"/><stop offset="0.530" stop-color="#6ecc7b"/><stop offset="0.550" stop-color="#74ce7c"/><stop offset="0.580" stop-color="#7dd17e"/><stop offset="0.620" stop-color="#8ad580"/><stop offset="0.665" stop-color="#7dd17e"/><stop offset="0.725" stop-color="#4ec374"/><stop offset="0.800" stop-color="#33b58f"/><stop offset="0.900" stop-color="#31ada8"/><stop offset="1.000" stop-color="#31ada7"/></linearGradient><linearGradient id="g5"><stop offset="0.000" stop-color="#2da7b8"/><stop offset="0.100" stop-color="#2da6b9"/><stop offset="0.200" stop-color="#31afa3"/><stop offset="0.275" stop-color="#3cbb81"/><stop offset="0.335" stop-color="#61c878"/><stop offset="0.380" stop-color="#6dcc7b"/><stop offset="0.420" stop-color="#60c878"/><stop offset="0.450" stop-color="#51c375"/><stop offset="0.470" stop-color="#4cc274"/><stop offset="0.485" stop-color="#37b986"/><stop offset="0.500" stop-color="#29a2c4"/><stop offset="0.515" stop-color="#35b887"/><stop offset="0.530" stop-color="#4fc375"/><stop offset="0.550" stop-color="#56c576"/><stop offset="0.580" stop-color="#64c979"/><stop offset="0.620" stop-color="#6ccc7a"/><stop offset="0.665" stop-color="#55c576"/><stop offset="0.725" stop-color="#3dbc80"/><stop offset="0.800" stop-color="#32b09e"/><stop offset="0.900" stop-color="#2ea7b7"/><stop offset="1.000" stop-color="#2ca6bb"/></linearGradient><linearGradient id="g6"><stop offset="0.000" stop-color="#2ca6bb"/><stop offset="0.100" stop-color="#2ca6bb"/><stop offset="0.200" stop-color="#32afa1"/><stop offset="0.275" stop-color="#40bd7e"/><stop offset="0.335" stop-color="#55c576"/><stop offset="0.380" stop-color="#5dc777"/><stop offset="0.420" stop-color="#5cc777"/><stop offset="0.450" stop-color="#4ec374"/><stop offset="0.470" stop-color="#46c079"/><stop offset="0.485" stop-color="#33b68d"/><stop offset="0.500" stop-color="#2ba4c0"/><stop offset="0.515" stop-color="#34b78b"/><stop offset="0.530" stop-color="#49c177"/><stop offset="0.550" stop-color="#57c576"/><stop offset="0.580" stop-color="#63c979"/><stop offset="0.620" stop-color="#67ca79"/><stop offset="0.665" stop-color="#55c576"/><stop offset="0.725" stop-color="#3ebc7f"/><stop offset="0.800" stop-color="#31afa2"/><stop offset="0.900" stop-color="#2ca5bd"/><stop offset="1.000" stop-color="#2ca5bd"/></linearGradient><linearGradient id="g7"><stop offset="0.000" stop-color="#2aa2c3"/><stop offset="0.100" stop-color="#2ba4bf"/><stop offset="0.200" stop-color="#30abae"/><stop offset="0.275" stop-color="#36b986"/><stop offset="0.335" stop-color="#4ac175"/><stop offset="0.380" stop-color="#54c476"/><stop offset="0.420" stop-color="#4cc274"/><stop offset="0.450" stop-color="#46bf79"/><stop offset="0.470" stop-color="#46c079"/><stop offset="0.485" stop-color="#33b68f"/><stop offset="0.500" stop-color="#2aa2c3"/><stop offset="0.515" stop-color="#33b590"/><stop offset="0.530" stop-color="#41bd7d"/><stop offset="0.550" stop-color="#4bc275"/><stop offset="0.580" stop-color="#5ac677"/><stop offset="0.620" stop-color="#5bc777"/><stop offset="0.665" stop-color="#4bc175"/><stop offset="0.725" stop-color="#3abb83"/><stop offset="0.800" stop-color="#31ada8"/><stop offset="0.900" stop-color="#29a2c4"/><stop offset="1.000" stop-color="#29a2c5"/></linearGradient><linearGradient id="g8"><stop offset="0.000" stop-color="#27a0cb"/><stop offset="0.100" stop-color="#29a2c5"/><stop offset="0.200" stop-color="#2fa9b4"/><stop offset="0.275" stop-color="#35b888"/><stop offset="0.335" stop-color="#49c176"/><stop offset="0.380" stop-color="#4ac176"/><stop offset="0.420" stop-color="#4ec374"/><stop offset="0.450" stop-color="#43be7b"/><stop offset="0.470" stop-color="#3fbd7f"/><stop offset="0.485" stop-color="#33b495"/><stop offset="0.500" stop-color="#2aa3c1"/><stop offset="0.515" stop-color="#33b494"/><stop offset="0.530" stop-color="#3dbc80"/><stop offset="0.550" stop-color="#47c078"/><stop offset="0.580" stop-color="#49c177"/><stop offset="0.620" stop-color="#52c475"/><stop offset="0.665" stop-color="#46bf79"/><stop offset="0.725" stop-color="#34b68c"/><stop offset="0.800" stop-color="#2fa9b3"/><stop offset="0.900" stop-color="#28a1c8"/><stop offset="1.000" stop-color="#28a1c7"/></linearGradient><linearGradient id="g9"><stop offset="0.000" stop-color="#249ad4"/><stop offset="0.100" stop-color="#249cd3"/><stop offset="0.200" stop-color="#2aa3c1"/><stop offset="0.275" stop-color="#32b29a"/><stop offset="0.335" stop-color="#3aba83"/><stop offset="0.380" stop-color="#41bd7d"/><stop offset="0.420" stop-color="#41bd7d"/><stop offset="0.450" stop-color="#38ba85"/><stop offset="0.470" stop-color="#33b590"/><stop offset="0.485" stop-color="#31acaa"/><stop offset="0.500" stop-color="#269fce"/><stop offset="0.515" stop-color="#31aea5"/><stop offset="0.530" stop-color="#35b887"/><stop offset="0.550" stop-color="#38ba84"/><stop offset="0.580" stop-color="#3cbb81"/><stop offset="0.620" stop-color="#41bd7d"/><stop offset="0.665" stop-color="#3cbc81"/><stop offset="0.725" stop-color="#32b09e"/><stop offset="0.800" stop-color="#2ca5bc"/><stop offset="0.900" stop-color="#269ecf"/><stop offset="1.000" stop-color="#249cd4"/></linearGradient><linearGradient id="g10"><stop offset="0.000" stop-color="#249bd4"/><stop offset="0.100" stop-color="#249cd3"/><stop offset="0.200" stop-color="#2aa3c1"/><stop offset="0.275" stop-color="#32b19b"/><stop offset="0.335" stop-color="#3bbb82"/><stop offset="0.380" stop-color="#43be7b"/><stop offset="0.420" stop-color="#3fbc7f"/><stop offset="0.450" stop-color="#3bbb82"/><stop offset="0.470" stop-color="#34b68c"/><stop offset="0.485" stop-color="#31acaa"/><stop offset="0.500" stop-color="#269ece"/><stop offset="0.515" stop-color="#31ada8"/><stop offset="0.530" stop-color="#34b78b"/><stop offset="0.550" stop-color="#3bbb82"/><stop offset="0.580" stop-color="#3cbb81"/><stop offset="0.620" stop-color="#3ebc80"/><stop offset="0.665" stop-color="#3bbb82"/><stop offset="0.725" stop-color="#32b09e"/><stop offset="0.800" stop-color="#2ba5be"/><stop offset="0.900" stop-color="#249dd3"/><stop offset="1.000" stop-color="#259dd2"/></linearGradient><linearGradient id="g11"><stop offset="0.000" stop-color="#279fcc"/><stop offset="0.100" stop-color="#28a1c8"/><stop offset="0.200" stop-color="#2da6ba"/><stop offset="0.275" stop-color="#32b09e"/><stop offset="0.335" stop-color="#38ba85"/><stop offset="0.380" stop-color="#42be7c"/><stop offset="0.420" stop-color="#3ebc80"/><stop offset="0.450" stop-color="#36b986"/><stop offset="0.470" stop-color="#33b68e"/><stop offset="0.485" stop-color="#31ada7"/><stop offset="0.500" stop-color="#28a1c8"/><stop offset="0.515" stop-color="#32b0a0"/><stop offset="0.530" stop-color="#35b987"/><stop offset="0.550" stop-color="#3abb83"/><stop offset="0.580" stop-color="#40bd7e"/><stop offset="0.620" stop-color="#3dbc80"/><stop offset="0.665" stop-color="#3bbb82"/><stop offset="0.725" stop-color="#32b19c"/><stop offset="0.800" stop-color="#2da7b9"/><stop offset="0.900" stop-color="#269fcd"/><stop offset="1.000" stop-color="#27a0cb"/></linearGradient><linearGradient id="g12"><stop offset="0.000" stop-color="#2499d5"/><stop offset="0.100" stop-color="#249bd4"/><stop offset="0.200" stop-color="#28a1c7"/><stop offset="0.275" stop-color="#30aab0"/><stop offset="0.335" stop-color="#32b09f"/><stop offset="0.380" stop-color="#33b493"/><stop offset="0.420" stop-color="#33b493"/><stop offset="0.450" stop-color="#32b09e"/><stop offset="0.470" stop-color="#31afa1"/><stop offset="0.485" stop-color="#2ea7b7"/><stop offset="0.500" stop-color="#2499d5"/><stop offset="0.515" stop-color="#2da7b8"/><stop offset="0.530" stop-color="#31acaa"/><stop offset="0.550" stop-color="#32b19d"/><stop offset="0.580" stop-color="#32b299"/><stop offset="0.620" stop-color="#33b492"/><stop offset="0.665" stop-color="#31afa2"/><stop offset="0.725" stop-color="#30abae"/><stop offset="0.800" stop-color="#279fcb"/><stop offset="0.900" stop-color="#2499d5"/><stop offset="1.000" stop-color="#2597d5"/></linearGradient><linearGradient id="g13"><stop offset="0.000" stop-color="#249ad4"/><stop offset="0.100" stop-color="#249bd4"/><stop offset="0.200" stop-color="#28a0c9"/><stop offset="0.275" stop-color="#2ca6bb"/><stop offset="0.335" stop-color="#31ada6"/><stop offset="0.380" stop-color="#32b09e"/><stop offset="0.420" stop-color="#32afa1"/><stop offset="0.450" stop-color="#31acab"/><stop offset="0.470" stop-color="#31acab"/><stop offset="0.485" stop-color="#2ba5be"/><stop offset="0.500" stop-color="#2499d5"/><stop offset="0.515" stop-color="#2aa3c1"/><stop offset="0.530" stop-color="#30aab0"/><stop offset="0.550" stop-color="#31ada7"/><stop offset="0.580" stop-color="#31afa3"/><stop offset="0.620" stop-color="#31afa1"/><stop offset="0.665" stop-color="#31aea4"/><stop offset="0.725" stop-color="#2da6b9"/><stop offset="0.800" stop-color="#28a0c9"/><stop offset="0.900" stop-color="#2498d5"/><stop offset="1.000" stop-color="#2498d5"/></linearGradient><linearGradient id="g14"><stop offset="0.000" stop-color="#249bd4"/><stop offset="0.100" stop-color="#259ed0"/><stop offset="0.200" stop-color="#28a1c8"/><stop offset="0.275" stop-color="#2fa8b4"/><stop offset="0.335" stop-color="#31aea5"/><stop offset="0.380" stop-color="#31aea3"/><stop offset="0.420" stop-color="#32b19d"/><stop offset="0.450" stop-color="#31aca9"/><stop offset="0.470" stop-color="#30aab0"/><stop offset="0.485" stop-color="#2ca5bd"/><stop offset="0.500" stop-color="#2499d5"/><stop offset="0.515" stop-color="#2ba4bf"/><stop offset="0.530" stop-color="#31acaa"/><stop offset="0.550" stop-color="#31acab"/><stop offset="0.580" stop-color="#31afa1"/><stop offset="0.620" stop-color="#32b19c"/><stop offset="0.665" stop-color="#31ada6"/><stop offset="0.725" stop-color="#2fa9b3"/><stop offset="0.800" stop-color="#29a2c5"/><stop offset="0.900" stop-color="#249cd3"/><stop offset="1.000" stop-color="#249bd4"/></linearGradient><linearGradient id="g15"><stop offset="0.000" stop-color="#259dd1"/><stop offset="0.100" stop-color="#259ed0"/><stop offset="0.200" stop-color="#28a1c8"/><stop offset="0.275" stop-color="#2da6ba"/><stop offset="0.335" stop-color="#31acaa"/><stop offset="0.380" stop-color="#31ada7"/><stop offset="0.420" stop-color="#31ada8"/><stop offset="0.450" stop-color="#30acab"/><stop offset="0.470" stop-color="#2ea7b7"/><stop offset="0.485" stop-color="#2ba4c0"/><stop offset="0.500" stop-color="#249ad4"/><stop offset="0.515" stop-color="#29a2c5"/><stop offset="0.530" stop-color="#2ea8b5"/><stop offset="0.550" stop-color="#30abad"/><stop offset="0.580" stop-color="#31acaa"/><stop offset="0.620" stop-color="#31ada9"/><stop offset="0.665" stop-color="#30aab0"/><stop offset="0.725" stop-color="#2da6ba"/><stop offset="0.800" stop-color="#28a1c7"/><stop offset="0.900" stop-color="#269ecf"/><stop offset="1.000" stop-color="#249cd3"/></linearGradient><linearGradient id="g16"><stop offset="0.000" stop-color="#2499d5"/><stop offset="0.100" stop-color="#249ad4"/><stop offset="0.200" stop-color="#269fcd"/><stop offset="0.275" stop-color="#2ba4bf"/><stop offset="0.335" stop-color="#2da6ba"/><stop offset="0.380" stop-color="#2ea8b6"/><stop offset="0.420" stop-color="#2ea8b5"/><stop offset="0.450" stop-color="#2da6b9"/><stop offset="0.470" stop-color="#2ba5be"/><stop offset="0.485" stop-color="#27a0ca"/><stop offset="0.500" stop-color="#2596d5"/><stop offset="0.515" stop-color="#29a2c6"/><stop offset="0.530" stop-color="#2ba5be"/><stop offset="0.550" stop-color="#2ea8b6"/><stop offset="0.580" stop-color="#2da7b8"/><stop offset="0.620" stop-color="#2ea8b5"/><stop offset="0.665" stop-color="#2ea8b6"/><stop offset="0.725" stop-color="#29a2c5"/><stop offset="0.800" stop-color="#269ece"/><stop offset="0.900" stop-color="#249ad4"/><stop offset="1.000" stop-color="#2499d5"/></linearGradient><linearGradient id="g17"><stop offset="0.000" stop-color="#2498d5"/><stop offset="0.100" stop-color="#249cd4"/><stop offset="0.200" stop-color="#269fcd"/><stop offset="0.275" stop-color="#28a1c7"/><stop offset="0.335" stop-color="#2ca6bb"/><stop offset="0.380" stop-color="#2ca6bb"/><stop offset="0.420" stop-color="#2da7b9"/><stop offset="0.450" stop-color="#2ca5bd"/><stop offset="0.470" stop-color="#2aa3c2"/><stop offset="0.485" stop-color="#28a0c9"/><stop offset="0.500" stop-color="#2596d5"/><stop offset="0.515" stop-color="#269fcd"/><stop offset="0.530" stop-color="#2ba4c0"/><stop offset="0.550" stop-color="#2ba4bf"/><stop offset="0.580" stop-color="#2ca5bc"/><stop offset="0.620" stop-color="#2ea7b7"/><stop offset="0.665" stop-color="#2da6ba"/><stop offset="0.725" stop-color="#28a1c8"/><stop offset="0.800" stop-color="#269fcd"/><stop offset="0.900" stop-color="#249cd4"/><stop offset="1.000" stop-color="#2498d5"/></linearGradient><linearGradient id="g18"><stop offset="0.000" stop-color="#258fd7"/><stop offset="0.100" stop-color="#2591d6"/><stop offset="0.200" stop-color="#2595d6"/><stop offset="0.275" stop-color="#2498d5"/><stop offset="0.335" stop-color="#259dd1"/><stop offset="0.380" stop-color="#279fcc"/><stop offset="0.420" stop-color="#259dd1"/><stop offset="0.450" stop-color="#249cd3"/><stop offset="0.470" stop-color="#249cd4"/><stop offset="0.485" stop-color="#2596d5"/><stop offset="0.500" stop-color="#268cd8"/><stop offset="0.515" stop-color="#2597d5"/><stop offset="0.530" stop-color="#249ad4"/><stop offset="0.550" stop-color="#249cd3"/><stop offset="0.580" stop-color="#259dd1"/><stop offset="0.620" stop-color="#269ece"/><stop offset="0.665" stop-color="#259dd1"/><stop offset="0.725" stop-color="#249bd4"/><stop offset="0.800" stop-color="#2594d6"/><stop offset="0.900" stop-color="#2590d7"/><stop offset="1.000" stop-color="#2590d7"/></linearGradient><linearGradient id="g19"><stop offset="0.000" stop-color="#268ed7"/><stop offset="0.100" stop-color="#268ed7"/><stop offset="0.200" stop-color="#2591d6"/><stop offset="0.275" stop-color="#2596d5"/><stop offset="0.335" stop-color="#2498d5"/><stop offset="0.380" stop-color="#2499d5"/><stop offset="0.420" stop-color="#249ad4"/><stop offset="0.450" stop-color="#249ad4"/><stop offset="0.470" stop-color="#2596d5"/><stop offset="0.485" stop-color="#2593d6"/><stop offset="0.500" stop-color="#2689d8"/><stop offset="0.515" stop-color="#2593d6"/><stop offset="0.530" stop-color="#2498d5"/><stop offset="0.550" stop-color="#2498d5"/><stop offset="0.580" stop-color="#249cd4"/><stop offset="0.620" stop-color="#249ad5"/><stop offset="0.665" stop-color="#249ad5"/><stop offset="0.725" stop-color="#2596d5"/><stop offset="0.800" stop-color="#2591d7"/><stop offset="0.900" stop-color="#268cd8"/><stop offset="1.000" stop-color="#268ed7"/></linearGradient><linearGradient id="g20"><stop offset="0.000" stop-color="#268bd8"/><stop offset="0.100" stop-color="#268cd8"/><stop offset="0.200" stop-color="#2590d7"/><stop offset="0.275" stop-color="#2591d6"/><stop offset="0.335" stop-color="#2597d5"/><stop offset="0.380" stop-color="#2498d5"/><stop offset="0.420" stop-color="#2499d5"/><stop offset="0.450" stop-color="#2596d5"/><stop offset="0.470" stop-color="#2595d5"/><stop offset="0.485" stop-color="#2592d6"/><stop offset="0.500" stop-color="#2783d5"/><stop offset="0.515" stop-color="#2591d6"/><stop offset="0.530" stop-color="#2595d6"/><stop offset="0.550" stop-color="#2596d5"/><stop offset="0.580" stop-color="#2597d5"/><stop offset="0.620" stop-color="#2597d5"/><stop offset="0.665" stop-color="#2498d5"/><stop offset="0.725" stop-color="#2592d6"/><stop offset="0.800" stop-color="#2591d7"/><stop offset="0.900" stop-color="#268cd7"/><stop offset="1.000" stop-color="#268bd8"/></linearGradient><linearGradient id="g21"><stop offset="0.000" stop-color="#268ed7"/><stop offset="0.100" stop-color="#2590d7"/><stop offset="0.200" stop-color="#258fd7"/><stop offset="0.275" stop-color="#2595d6"/><stop offset="0.335" stop-color="#2595d6"/><stop offset="0.380" stop-color="#2597d5"/><stop offset="0.420" stop-color="#2498d5"/><stop offset="0.450" stop-color="#2596d5"/><stop offset="0.470" stop-color="#2595d6"/><stop offset="0.485" stop-color="#2591d6"/><stop offset="0.500" stop-color="#2689d8"/><stop offset="0.515" stop-color="#2591d7"/><stop offset="0.530" stop-color="#2596d5"/><stop offset="0.550" stop-color="#2498d5"/><stop offset="0.580" stop-color="#2597d5"/><stop offset="0.620" stop-color="#249ad4"/><stop offset="0.665" stop-color="#2595d6"/><stop offset="0.725" stop-color="#2593d6"/><stop offset="0.800" stop-color="#2592d6"/><stop offset="0.900" stop-color="#268dd7"/><stop offset="1.000" stop-color="#268dd7"/></linearGradient><linearGradient id="g22"><stop offset="0.000" stop-color="#2687d7"/><stop offset="0.100" stop-color="#2687d7"/><stop offset="0.200" stop-color="#2785d6"/><stop offset="0.275" stop-color="#268bd8"/><stop offset="0.335" stop-color="#268cd8"/><stop offset="0.380" stop-color="#268cd8"/><stop offset="0.420" stop-color="#268cd7"/><stop offset="0.450" stop-color="#268ed7"/><stop offset="0.470" stop-color="#268cd8"/><stop offset="0.485" stop-color="#2786d6"/><stop offset="0.500" stop-color="#287ed3"/><stop offset="0.515" stop-color="#2785d6"/><stop offset="0.530" stop-color="#268bd8"/><stop offset="0.550" stop-color="#268bd8"/><stop offset="0.580" stop-color="#258fd7"/><stop offset="0.620" stop-color="#268dd7"/><stop offset="0.665" stop-color="#268ed7"/><stop offset="0.725" stop-color="#268ad8"/><stop offset="0.800" stop-color="#2687d7"/><stop offset="0.900" stop-color="#2785d6"/><stop offset="1.000" stop-color="#2783d5"/></linearGradient><linearGradient id="g23"><stop offset="0.000" stop-color="#2687d7"/><stop offset="0.100" stop-color="#2783d5"/><stop offset="0.200" stop-color="#2786d6"/><stop offset="0.275" stop-color="#2688d7"/><stop offset="0.335" stop-color="#268cd8"/><stop offset="0.380" stop-color="#268bd8"/><stop offset="0.420" stop-color="#268dd7"/><stop offset="0.450" stop-color="#268bd8"/><stop offset="0.470" stop-color="#268bd8"/><stop offset="0.485" stop-color="#2786d6"/><stop offset="0.500" stop-color="#277fd4"/><stop offset="0.515" stop-color="#2688d7"/><stop offset="0.530" stop-color="#268dd7"/><stop offset="0.550" stop-color="#268cd8"/><stop offset="0.580" stop-color="#268ed7"/><stop offset="0.620" stop-color="#268ed7"/><stop offset="0.665" stop-color="#268bd8"/><stop offset="0.725" stop-color="#268cd8"/><stop offset="0.800" stop-color="#268ad8"/><stop offset="0.900" stop-color="#2784d6"/><stop offset="1.000" stop-color="#2687d7"/></linearGradient><linearGradient id="g24"><stop offset="0.000" stop-color="#2783d5"/><stop offset="0.100" stop-color="#2784d6"/><stop offset="0.200" stop-color="#2783d5"/><stop offset="0.275" stop-color="#2689d8"/><stop offset="0.335" stop-color="#268ad8"/><stop offset="0.380" stop-color="#2688d7"/><stop offset="0.420" stop-color="#268cd8"/><stop offset="0.450" stop-color="#268ad8"/><stop offset="0.470" stop-color="#2786d6"/><stop offset="0.485" stop-color="#2781d5"/><stop offset="0.500" stop-color="#287bd2"/><stop offset="0.515" stop-color="#2785d6"/><stop offset="0.530" stop-color="#2689d8"/><stop offset="0.550" stop-color="#268bd8"/><stop offset="0.580" stop-color="#268bd8"/><stop offset="0.620" stop-color="#2688d7"/><stop offset="0.665" stop-color="#2687d7"/><stop offset="0.725" stop-color="#2785d6"/><stop offset="0.800" stop-color="#2784d6"/><stop offset="0.900" stop-color="#2783d5"/><stop offset="1.000" stop-color="#2782d5"/></linearGradient><linearGradient id="g25"><stop offset="0.000" stop-color="#2781d4"/><stop offset="0.100" stop-color="#2782d5"/><stop offset="0.200" stop-color="#2783d6"/><stop offset="0.275" stop-color="#2785d6"/><stop offset="0.335" stop-color="#2786d6"/><stop offset="0.380" stop-color="#2686d7"/><stop offset="0.420" stop-color="#2687d7"/><stop offset="0.450" stop-color="#2786d6"/><stop offset="0.470" stop-color="#2786d6"/><stop offset="0.485" stop-color="#2783d5"/><stop offset="0.500" stop-color="#287cd2"/><stop offset="0.515" stop-color="#2780d4"/><stop offset="0.530" stop-color="#2785d6"/><stop offset="0.550" stop-color="#2786d6"/><stop offset="0.580" stop-color="#2784d6"/><stop offset="0.620" stop-color="#2785d6"/><stop offset="0.665" stop-color="#2786d6"/><stop offset="0.725" stop-color="#2686d7"/><stop offset="0.800" stop-color="#2783d5"/><stop offset="0.900" stop-color="#287ed3"/><stop offset="1.000" stop-color="#2782d5"/></linearGradient><linearGradient id="g26"><stop offset="0.000" stop-color="#287bd2"/><stop offset="0.100" stop-color="#2879d1"/><stop offset="0.200" stop-color="#287bd2"/><stop offset="0.275" stop-color="#287dd3"/><stop offset="0.335" stop-color="#2780d4"/><stop offset="0.380" stop-color="#277fd4"/><stop offset="0.420" stop-color="#2781d5"/><stop offset="0.450" stop-color="#2780d4"/><stop offset="0.470" stop-color="#2780d4"/><stop offset="0.485" stop-color="#287cd3"/><stop offset="0.500" stop-color="#2877d1"/><stop offset="0.515" stop-color="#287ad2"/><stop offset="0.530" stop-color="#2781d4"/><stop offset="0.550" stop-color="#2782d5"/><stop offset="0.580" stop-color="#2782d5"/><stop offset="0.620" stop-color="#2782d5"/><stop offset="0.665" stop-color="#277fd4"/><stop offset="0.725" stop-color="#287dd3"/><stop offset="0.800" stop-color="#287ad2"/><stop offset="0.900" stop-color="#287cd3"/><stop offset="1.000" stop-color="#287cd3"/></linearGradient><linearGradient id="g27"><stop offset="0.000" stop-color="#2879d1"/><stop offset="0.100" stop-color="#287ad2"/><stop offset="0.200" stop-color="#287bd2"/><stop offset="0.275" stop-color="#287ad2"/><stop offset="0.335" stop-color="#287bd2"/><stop offset="0.380" stop-color="#2780d4"/><stop offset="0.420" stop-color="#2780d4"/><stop offset="0.450" stop-color="#277ed4"/><stop offset="0.470" stop-color="#287dd3"/><stop offset="0.485" stop-color="#287ad2"/><stop offset="0.500" stop-color="#2877d1"/><stop offset="0.515" stop-color="#2879d1"/><stop offset="0.530" stop-color="#287bd2"/><stop offset="0.550" stop-color="#277fd4"/><stop offset="0.580" stop-color="#287cd3"/><stop offset="0.620" stop-color="#277fd4"/><stop offset="0.665" stop-color="#287ed3"/><stop offset="0.725" stop-color="#287ad2"/><stop offset="0.800" stop-color="#287ad2"/><stop offset="0.900" stop-color="#2878d1"/><stop offset="1.000" stop-color="#287ad2"/></linearGradient><linearGradient id="g28"><stop offset="0.000" stop-color="#2972cf"/><stop offset="0.100" stop-color="#2971cf"/><stop offset="0.200" stop-color="#2973cf"/><stop offset="0.275" stop-color="#2975d0"/><stop offset="0.335" stop-color="#2877d1"/><stop offset="0.380" stop-color="#2879d2"/><stop offset="0.420" stop-color="#2976d0"/><stop offset="0.450" stop-color="#2975d0"/><stop offset="0.470" stop-color="#2877d1"/><stop offset="0.485" stop-color="#2974d0"/><stop offset="0.500" stop-color="#2972cf"/><stop offset="0.515" stop-color="#2975d0"/><stop offset="0.530" stop-color="#2976d0"/><stop offset="0.550" stop-color="#2878d1"/><stop offset="0.580" stop-color="#2976d0"/><stop offset="0.620" stop-color="#2879d1"/><stop offset="0.665" stop-color="#2975d0"/><stop offset="0.725" stop-color="#2975d0"/><stop offset="0.800" stop-color="#2974d0"/><stop offset="0.900" stop-color="#2973cf"/><stop offset="1.000" stop-color="#2971ce"/></linearGradient><linearGradient id="g29"><stop offset="0.000" stop-color="#2a6acc"/><stop offset="0.100" stop-color="#2a6bcc"/><stop offset="0.200" stop-color="#2a6ccd"/><stop offset="0.275" stop-color="#2a6dcd"/><stop offset="0.335" stop-color="#2a6ecd"/><stop offset="0.380" stop-color="#2970ce"/><stop offset="0.420" stop-color="#2971ce"/><stop offset="0.450" stop-color="#2971ce"/><stop offset="0.470" stop-color="#2a6dcd"/><stop offset="0.485" stop-color="#2a6ccc"/><stop offset="0.500" stop-color="#2a6acc"/><stop offset="0.515" stop-color="#2a6dcd"/><stop offset="0.530" stop-color="#296fce"/><stop offset="0.550" stop-color="#296fce"/><stop offset="0.580" stop-color="#296fce"/><stop offset="0.620" stop-color="#2971cf"/><stop offset="0.665" stop-color="#2971ce"/><stop offset="0.725" stop-color="#296fce"/><stop offset="0.800" stop-color="#2a6bcc"/><stop offset="0.900" stop-color="#2a6ccd"/><stop offset="1.000" stop-color="#2a6acc"/></linearGradient><linearGradient id="g30"><stop offset="0.000" stop-color="#2a6ccc"/><stop offset="0.100" stop-color="#2a6dcd"/><stop offset="0.200" stop-color="#2a6ccc"/><stop offset="0.275" stop-color="#2a6ecd"/><stop offset="0.335" stop-color="#2a6ecd"/><stop offset="0.380" stop-color="#2971ce"/><stop offset="0.420" stop-color="#2a6ecd"/><stop offset="0.450" stop-color="#2a6ccd"/><stop offset="0.470" stop-color="#2a6dcd"/><stop offset="0.485" stop-color="#2a6ecd"/><stop offset="0.500" stop-color="#2a6bcc"/><stop offset="0.515" stop-color="#2a6ecd"/><stop offset="0.530" stop-color="#296fce"/><stop offset="0.550" stop-color="#2970ce"/><stop offset="0.580" stop-color="#2971ce"/><stop offset="0.620" stop-color="#2a6dcd"/><stop offset="0.665" stop-color="#2a6dcd"/><stop offset="0.725" stop-color="#2a6dcd"/><stop offset="0.800" stop-color="#2a6bcc"/><stop offset="0.900" stop-color="#2a6bcc"/><stop offset="1.000" stop-color="#2a6ccc"/></linearGradient><linearGradient id="g31"><stop offset="0.000" stop-color="#2b61c8"/><stop offset="0.100" stop-color="#2b60c8"/><stop offset="0.200" stop-color="#2b60c8"/><stop offset="0.275" stop-color="#2b62c9"/><stop offset="0.335" stop-color="#2b63c9"/><stop offset="0.380" stop-color="#2b65ca"/><stop offset="0.420" stop-color="#2b66ca"/><stop offset="0.450" stop-color="#2b62c9"/><stop offset="0.470" stop-color="#2b63c9"/><stop offset="0.485" stop-color="#2b63c9"/><stop offset="0.500" stop-color="#2b62c9"/><stop offset="0.515" stop-color="#2b62c9"/><stop offset="0.530" stop-color="#2b65ca"/><stop offset="0.550" stop-color="#2b63c9"/><stop offset="0.580" stop-color="#2b64ca"/><stop offset="0.620" stop-color="#2b64c9"/><stop offset="0.665" stop-color="#2b64c9"/><stop offset="0.725" stop-color="#2b64ca"/><stop offset="0.800" stop-color="#2b62c9"/><stop offset="0.900" stop-color="#2b61c8"/><stop offset="1.000" stop-color="#2b63c9"/></linearGradient><linearGradient id="g32"><stop offset="0.000" stop-color="#2b5fc8"/><stop offset="0.100" stop-color="#2c5fc7"/><stop offset="0.200" stop-color="#2c5ec7"/><stop offset="0.275" stop-color="#2b61c8"/><stop offset="0.335" stop-color="#2b61c8"/><stop offset="0.380" stop-color="#2b61c8"/><stop offset="0.420" stop-color="#2b61c8"/><stop offset="0.450" stop-color="#2b5fc8"/><stop offset="0.470" stop-color="#2b5fc8"/><stop offset="0.485" stop-color="#2b60c8"/><stop offset="0.500" stop-color="#2b60c8"/><stop offset="0.515" stop-color="#2b5fc8"/><stop offset="0.530" stop-color="#2b62c8"/><stop offset="0.550" stop-color="#2b60c8"/><stop offset="0.580" stop-color="#2b61c8"/><stop offset="0.620" stop-color="#2b61c8"/><stop offset="0.665" stop-color="#2b5fc8"/><stop offset="0.725" stop-color="#2b61c8"/><stop offset="0.800" stop-color="#2c5fc7"/><stop offset="0.900" stop-color="#2c5dc7"/><stop offset="1.000" stop-color="#2c5dc7"/></linearGradient><linearGradient id="g33"><stop offset="0.000" stop-color="#2b5fc8"/><stop offset="0.100" stop-color="#2b60c8"/><stop offset="0.200" stop-color="#2b61c8"/><stop offset="0.275" stop-color="#2b61c8"/><stop offset="0.335" stop-color="#2b61c8"/><stop offset="0.380" stop-color="#2b62c9"/><stop offset="0.420" stop-color="#2b63c9"/><stop offset="0.450" stop-color="#2b61c8"/><stop offset="0.470" stop-color="#2b61c8"/><stop offset="0.485" stop-color="#2b60c8"/><stop offset="0.500" stop-color="#2b5fc8"/><stop offset="0.515" stop-color="#2b5fc8"/><stop offset="0.530" stop-color="#2b61c8"/><stop offset="0.550" stop-color="#2b62c8"/><stop offset="0.580" stop-color="#2b63c9"/><stop offset="0.620" stop-color="#2b62c9"/><stop offset="0.665" stop-color="#2b63c9"/><stop offset="0.725" stop-color="#2b60c8"/><stop offset="0.800" stop-color="#2b61c8"/><stop offset="0.900" stop-color="#2c5ec7"/><stop offset="1.000" stop-color="#2c5fc7"/></linearGradient><linearGradient id="g34"><stop offset="0.000" stop-color="#2c5bc6"/><stop offset="0.100" stop-color="#2c5ac5"/><stop offset="0.200" stop-color="#2d5ac4"/><stop offset="0.275" stop-color="#2c5bc6"/><stop offset="0.335" stop-color="#2c5cc6"/><stop offset="0.380" stop-color="#2c5cc7"/><stop offset="0.420" stop-color="#2c5bc6"/><stop offset="0.450" stop-color="#2c5bc6"/><stop offset="0.470" stop-color="#2c5bc5"/><stop offset="0.485" stop-color="#2c5bc6"/><stop offset="0.500" stop-color="#2c5bc6"/><stop offset="0.515" stop-color="#2c5bc6"/><stop offset="0.530" stop-color="#2c5bc6"/><stop offset="0.550" stop-color="#2c5cc6"/><stop offset="0.580" stop-color="#2c5cc6"/><stop offset="0.620" stop-color="#2c5dc7"/><stop offset="0.665" stop-color="#2c5bc6"/><stop offset="0.725" stop-color="#2c5cc6"/><stop offset="0.800" stop-color="#2d5ac4"/><stop offset="0.900" stop-color="#2d59c4"/><stop offset="1.000" stop-color="#2d59c4"/></linearGradient><linearGradient id="g35"><stop offset="0.000" stop-color="#2e57c1"/><stop offset="0.100" stop-color="#2e57c1"/><stop offset="0.200" stop-color="#2e57c0"/><stop offset="0.275" stop-color="#2d59c3"/><stop offset="0.335" stop-color="#2d58c2"/><stop offset="0.380" stop-color="#2d59c3"/><stop offset="0.420" stop-color="#2d59c4"/><stop offset="0.450" stop-color="#2d58c2"/><stop offset="0.470" stop-color="#2d59c3"/><stop offset="0.485" stop-color="#2d59c3"/><stop offset="0.500" stop-color="#2d58c2"/><stop offset="0.515" stop-color="#2d59c3"/><stop offset="0.530" stop-color="#2d58c1"/><stop offset="0.550" stop-color="#2d59c3"/><stop offset="0.580" stop-color="#2d59c4"/><stop offset="0.620" stop-color="#2d59c3"/><stop offset="0.665" stop-color="#2d59c3"/><stop offset="0.725" stop-color="#2d59c3"/><stop offset="0.800" stop-color="#2d58c2"/><stop offset="0.900" stop-color="#2e57c1"/><stop offset="1.000" stop-color="#2d58c2"/></linearGradient><linearGradient id="g36"><stop offset="0.000" stop-color="#2e57c0"/><stop offset="0.100" stop-color="#2e56bf"/><stop offset="0.200" stop-color="#2e56c0"/><stop offset="0.275" stop-color="#2e57c1"/><stop offset="0.335" stop-color="#2e57c0"/><stop offset="0.380" stop-color="#2e57c1"/><stop offset="0.420" stop-color="#2d58c2"/><stop offset="0.450" stop-color="#2e57c1"/><stop offset="0.470" stop-color="#2d58c2"/><stop offset="0.485" stop-color="#2d58c2"/><stop offset="0.500" stop-color="#2d58c2"/><stop offset="0.515" stop-color="#2e57c1"/><stop offset="0.530" stop-color="#2e57c0"/><stop offset="0.550" stop-color="#2e57c0"/><stop offset="0.580" stop-color="#2e57c1"/><stop offset="0.620" stop-color="#2d58c1"/><stop offset="0.665" stop-color="#2d58c2"/><stop offset="0.725" stop-color="#2e57c0"/><stop offset="0.800" stop-color="#2e57c0"/><stop offset="0.900" stop-color="#2e56c0"/><stop offset="1.000" stop-color="#2e57c1"/></linearGradient><linearGradient id="g37"><stop offset="0.000" stop-color="#3052bb"/><stop offset="0.100" stop-color="#3052ba"/><stop offset="0.200" stop-color="#2f53bb"/><stop offset="0.275" stop-color="#3052ba"/><stop offset="0.335" stop-color="#3052ba"/><stop offset="0.380" stop-color="#3053bb"/><stop offset="0.420" stop-color="#3052ba"/><stop offset="0.450" stop-color="#2f53bb"/><stop offset="0.470" stop-color="#2f53bc"/><stop offset="0.485" stop-color="#3053bb"/><stop offset="0.500" stop-color="#3052ba"/><stop offset="0.515" stop-color="#3052ba"/><stop offset="0.530" stop-color="#3053bb"/><stop offset="0.550" stop-color="#3053bb"/><stop offset="0.580" stop-color="#3052ba"/><stop offset="0.620" stop-color="#3053bb"/><stop offset="0.665" stop-color="#2f53bb"/><stop offset="0.725" stop-color="#3053bb"/><stop offset="0.800" stop-color="#3052ba"/><stop offset="0.900" stop-color="#3053bb"/><stop offset="1.000" stop-color="#3053bb"/></linearGradient><linearGradient id="g38"><stop offset="0.000" stop-color="#314eb5"/><stop offset="0.100" stop-color="#314fb6"/><stop offset="0.200" stop-color="#314fb6"/><stop offset="0.275" stop-color="#314fb6"/><stop offset="0.335" stop-color="#3150b7"/><stop offset="0.380" stop-color="#3150b7"/><stop offset="0.420" stop-color="#314fb6"/><stop offset="0.450" stop-color="#3150b7"/><stop offset="0.470" stop-color="#314fb6"/><stop offset="0.485" stop-color="#314fb6"/><stop offset="0.500" stop-color="#314fb6"/><stop offset="0.515" stop-color="#314fb7"/><stop offset="0.530" stop-color="#3150b7"/><stop offset="0.550" stop-color="#314fb6"/><stop offset="0.580" stop-color="#314fb6"/><stop offset="0.620" stop-color="#3150b7"/><stop offset="0.665" stop-color="#3150b7"/><stop offset="0.725" stop-color="#314fb6"/><stop offset="0.800" stop-color="#314eb5"/><stop offset="0.900" stop-color="#314eb5"/><stop offset="1.000" stop-color="#314fb5"/></linearGradient><linearGradient id="g39"><stop offset="0.000" stop-color="#324cb2"/><stop offset="0.100" stop-color="#324cb2"/><stop offset="0.200" stop-color="#324cb2"/><stop offset="0.275" stop-color="#324cb2"/><stop offset="0.335" stop-color="#324db3"/><stop offset="0.380" stop-color="#324db4"/><stop offset="0.420" stop-color="#324db3"/><stop offset="0.450" stop-color="#324db3"/><stop offset="0.470" stop-color="#324db3"/><stop offset="0.485" stop-color="#324cb2"/><stop offset="0.500" stop-color="#324db4"/><stop offset="0.515" stop-color="#324cb2"/><stop offset="0.530" stop-color="#324db3"/><stop offset="0.550" stop-color="#324cb2"/><stop offset="0.580" stop-color="#324db3"/><stop offset="0.620" stop-color="#324db3"/><stop offset="0.665" stop-color="#324db3"/><stop offset="0.725" stop-color="#324db3"/><stop offset="0.800" stop-color="#324db3"/><stop offset="0.900" stop-color="#324db3"/><stop offset="1.000" stop-color="#324cb2"/></linearGradient><linearGradient id="g40"><stop offset="0.000" stop-color="#324db3"/><stop offset="0.100" stop-color="#324db3"/><stop offset="0.200" stop-color="#324db3"/><stop offset="0.275" stop-color="#324db4"/><stop offset="0.335" stop-color="#324db3"/><stop offset="0.380" stop-color="#324db3"/><stop offset="0.420" stop-color="#324db4"/><stop offset="0.450" stop-color="#324db4"/><stop offset="0.470" stop-color="#324db3"/><stop offset="0.485" stop-color="#324cb3"/><stop offset="0.500" stop-color="#324db3"/><stop offset="0.515" stop-color="#324db3"/><stop offset="0.530" stop-color="#324db3"/><stop offset="0.550" stop-color="#324db4"/><stop offset="0.580" stop-color="#324db4"/><stop offset="0.620" stop-color="#324db4"/><stop offset="0.665" stop-color="#324db3"/><stop offset="0.725" stop-color="#324db4"/><stop offset="0.800" stop-color="#324cb2"/><stop offset="0.900" stop-color="#324db4"/><stop offset="1.000" stop-color="#324db3"/></linearGradient><linearGradient id="g41"><stop offset="0.000" stop-color="#334bb1"/><stop offset="0.100" stop-color="#334bb1"/><stop offset="0.200" stop-color="#334bb1"/><stop offset="0.275" stop-color="#334bb1"/><stop offset="0.335" stop-color="#334bb0"/><stop offset="0.380" stop-color="#334bb0"/><stop offset="0.420" stop-color="#334bb1"/><stop offset="0.450" stop-color="#334bb0"/><stop offset="0.470" stop-color="#334bb1"/><stop offset="0.485" stop-color="#334bb1"/><stop offset="0.500" stop-color="#334bb1"/><stop offset="0.515" stop-color="#334bb0"/><stop offset="0.530" stop-color="#334bb1"/><stop offset="0.550" stop-color="#334bb1"/><stop offset="0.580" stop-color="#334bb1"/><stop offset="0.620" stop-color="#334bb0"/><stop offset="0.665" stop-color="#334bb0"/><stop offset="0.725" stop-color="#334bb1"/><stop offset="0.800" stop-color="#334bb1"/><stop offset="0.900" stop-color="#334bb0"/><stop offset="1.000" stop-color="#334ab0"/></linearGradient><linearGradient id="g42"><stop offset="0.000" stop-color="#3449ae"/><stop offset="0.100" stop-color="#3449ae"/><stop offset="0.200" stop-color="#3349ae"/><stop offset="0.275" stop-color="#3449ae"/><stop offset="0.335" stop-color="#3349af"/><stop offset="0.380" stop-color="#3449ae"/><stop offset="0.420" stop-color="#3449ae"/><stop offset="0.450" stop-color="#334aaf"/><stop offset="0.470" stop-color="#334aaf"/><stop offset="0.485" stop-color="#3449ae"/><stop offset="0.500" stop-color="#3449ae"/><stop offset="0.515" stop-color="#3449ae"/><stop offset="0.530" stop-color="#3449ae"/><stop offset="0.550" stop-color="#3449ae"/><stop offset="0.580" stop-color="#3449ae"/><stop offset="0.620" stop-color="#334aaf"/><stop offset="0.665" stop-color="#3449ae"/><stop offset="0.725" stop-color="#3449ae"/><stop offset="0.800" stop-color="#3449ae"/><stop offset="0.900" stop-color="#3448ad"/><stop offset="1.000" stop-color="#3449ae"/></linearGradient><linearGradient id="g43"><stop offset="0.000" stop-color="#3547ab"/><stop offset="0.100" stop-color="#3547ab"/><stop offset="0.200" stop-color="#3447ab"/><stop offset="0.275" stop-color="#3447ab"/><stop offset="0.335" stop-color="#3447ac"/><stop offset="0.380" stop-color="#3547ab"/><stop offset="0.420" stop-color="#3447ac"/><stop offset="0.450" stop-color="#3547ab"/><stop offset="0.470" stop-color="#3447ac"/><stop offset="0.485" stop-color="#3547ab"/><stop offset="0.500" stop-color="#3447ab"/><stop offset="0.515" stop-color="#3547ab"/><stop offset="0.530" stop-color="#3447ab"/><stop offset="0.550" stop-color="#3447ac"/><stop offset="0.580" stop-color="#3547ab"/><stop offset="0.620" stop-color="#3447ac"/><stop offset="0.665" stop-color="#3547ab"/><stop offset="0.725" stop-color="#3447ac"/><stop offset="0.800" stop-color="#3547ab"/><stop offset="0.900" stop-color="#3547ab"/><stop offset="1.000" stop-color="#3547ab"/></linearGradient><linearGradient id="g44"><stop offset="0.000" stop-color="#3545a8"/><stop offset="0.100" stop-color="#3645a8"/><stop offset="0.200" stop-color="#3545a8"/><stop offset="0.275" stop-color="#3645a8"/><stop offset="0.335" stop-color="#3545a9"/><stop offset="0.380" stop-color="#3645a8"/><stop offset="0.420" stop-color="#3545a8"/><stop offset="0.450" stop-color="#3545a8"/><stop offset="0.470" stop-color="#3645a8"/><stop offset="0.485" stop-color="#3545a8"/><stop offset="0.500" stop-color="#3545a8"/><stop offset="0.515" stop-color="#3545a8"/><stop offset="0.530" stop-color="#3545a8"/><stop offset="0.550" stop-color="#3645a8"/><stop offset="0.580" stop-color="#3645a8"/><stop offset="0.620" stop-color="#3545a9"/><stop offset="0.665" stop-color="#3545a8"/><stop offset="0.725" stop-color="#3545a8"/><stop offset="0.800" stop-color="#3545a9"/><stop offset="0.900" stop-color="#3545a9"/><stop offset="1.000" stop-color="#3545a8"/></linearGradient><linearGradient id="g45"><stop offset="0.000" stop-color="#3643a6"/><stop offset="0.100" stop-color="#3643a6"/><stop offset="0.200" stop-color="#3643a6"/><stop offset="0.275" stop-color="#3643a6"/><stop offset="0.335" stop-color="#3643a6"/><stop offset="0.380" stop-color="#3643a6"/><stop offset="0.420" stop-color="#3643a5"/><stop offset="0.450" stop-color="#3643a5"/><stop offset="0.470" stop-color="#3643a6"/><stop offset="0.485" stop-color="#3643a5"/><stop offset="0.500" stop-color="#3643a6"/><stop offset="0.515" stop-color="#3643a6"/><stop offset="0.530" stop-color="#3643a6"/><stop offset="0.550" stop-color="#3643a5"/><stop offset="0.580" stop-color="#3643a6"/><stop offset="0.620" stop-color="#3643a6"/><stop offset="0.665" stop-color="#3643a6"/><stop offset="0.725" stop-color="#3643a6"/><stop offset="0.800" stop-color="#3643a5"/><stop offset="0.900" stop-color="#3643a6"/><stop offset="1.000" stop-color="#3643a6"/></linearGradient><linearGradient id="g46"><stop offset="0.000" stop-color="#3742a4"/><stop offset="0.100" stop-color="#3742a4"/><stop offset="0.200" stop-color="#3742a4"/><stop offset="0.275" stop-color="#3742a4"/><stop offset="0.335" stop-color="#3742a4"/><stop offset="0.380" stop-color="#3742a4"/><stop offset="0.420" stop-color="#3742a4"/><stop offset="0.450" stop-color="#3742a4"/><stop offset="0.470" stop-color="#3742a4"/><stop offset="0.485" stop-color="#3742a4"/><stop offset="0.500" stop-color="#3741a4"/><stop offset="0.515" stop-color="#3741a4"/><stop offset="0.530" stop-color="#3742a4"/><stop offset="0.550" stop-color="#3742a4"/><stop offset="0.580" stop-color="#3742a4"/><stop offset="0.620" stop-color="#3741a4"/><stop offset="0.665" stop-color="#3742a4"/><stop offset="0.725" stop-color="#3742a4"/><stop offset="0.800" stop-color="#3742a4"/><stop offset="0.900" stop-color="#3742a4"/><stop offset="1.000" stop-color="#3742a4"/></linearGradient></defs>
<rect x="619.1" y="1537.90" width="121.7" height="5.71" fill="url(#g1)"/><rect x="619.1" y="1542.61" width="121.7" height="5.71" fill="url(#g2)"/><rect x="619.1" y="1547.32" width="121.7" height="5.71" fill="url(#g3)"/><rect x="619.1" y="1552.03" width="121.7" height="5.71" fill="url(#g4)"/><rect x="619.1" y="1556.74" width="121.7" height="5.71" fill="url(#g5)"/><rect x="619.1" y="1561.45" width="121.7" height="5.71" fill="url(#g6)"/><rect x="619.1" y="1566.17" width="121.7" height="5.71" fill="url(#g7)"/><rect x="619.1" y="1570.88" width="121.7" height="5.71" fill="url(#g8)"/><rect x="619.1" y="1575.59" width="121.7" height="5.71" fill="url(#g9)"/><rect x="619.1" y="1580.30" width="121.7" height="5.71" fill="url(#g10)"/><rect x="619.1" y="1585.01" width="121.7" height="5.71" fill="url(#g11)"/><rect x="619.1" y="1589.72" width="121.7" height="5.71" fill="url(#g12)"/><rect x="619.1" y="1594.43" width="121.7" height="5.71" fill="url(#g13)"/><rect x="619.1" y="1599.14" width="121.7" height="5.71" fill="url(#g14)"/><rect x="619.1" y="1603.85" width="121.7" height="5.71" fill="url(#g15)"/><rect x="619.1" y="1608.56" width="121.7" height="5.71" fill="url(#g16)"/><rect x="619.1" y="1613.27" width="121.7" height="5.71" fill="url(#g17)"/><rect x="619.1" y="1617.98" width="121.7" height="5.71" fill="url(#g18)"/><rect x="619.1" y="1622.70" width="121.7" height="5.71" fill="url(#g19)"/><rect x="619.1" y="1627.41" width="121.7" height="5.71" fill="url(#g20)"/><rect x="619.1" y="1632.12" width="121.7" height="5.71" fill="url(#g21)"/><rect x="619.1" y="1636.83" width="121.7" height="5.71" fill="url(#g22)"/><rect x="619.1" y="1641.54" width="121.7" height="5.71" fill="url(#g23)"/><rect x="619.1" y="1646.25" width="121.7" height="5.71" fill="url(#g24)"/><rect x="619.1" y="1650.96" width="121.7" height="5.71" fill="url(#g25)"/><rect x="619.1" y="1655.67" width="121.7" height="5.71" fill="url(#g26)"/><rect x="619.1" y="1660.38" width="121.7" height="5.71" fill="url(#g27)"/><rect x="619.1" y="1665.09" width="121.7" height="5.71" fill="url(#g28)"/><rect x="619.1" y="1669.80" width="121.7" height="5.71" fill="url(#g29)"/><rect x="619.1" y="1674.52" width="121.7" height="5.71" fill="url(#g30)"/><rect x="619.1" y="1679.23" width="121.7" height="5.71" fill="url(#g31)"/><rect x="619.1" y="1683.94" width="121.7" height="5.71" fill="url(#g32)"/><rect x="619.1" y="1688.65" width="121.7" height="5.71" fill="url(#g33)"/><rect x="619.1" y="1693.36" width="121.7" height="5.71" fill="url(#g34)"/><rect x="619.1" y="1698.07" width="121.7" height="5.71" fill="url(#g35)"/><rect x="619.1" y="1702.78" width="121.7" height="5.71" fill="url(#g36)"/><rect x="619.1" y="1707.49" width="121.7" height="5.71" fill="url(#g37)"/><rect x="619.1" y="1712.20" width="121.7" height="5.71" fill="url(#g38)"/><rect x="619.1" y="1716.91" width="121.7" height="5.71" fill="url(#g39)"/><rect x="619.1" y="1721.62" width="121.7" height="5.71" fill="url(#g40)"/><rect x="619.1" y="1726.33" width="121.7" height="5.71" fill="url(#g41)"/><rect x="619.1" y="1731.05" width="121.7" height="5.71" fill="url(#g42)"/><rect x="619.1" y="1735.76" width="121.7" height="5.71" fill="url(#g43)"/><rect x="619.1" y="1740.47" width="121.7" height="5.71" fill="url(#g44)"/><rect x="619.1" y="1745.18" width="121.7" height="5.71" fill="url(#g45)"/><rect x="619.1" y="1749.89" width="121.7" height="5.71" fill="url(#g46)"/>
<defs><linearGradient id="g47"><stop offset="0.000" stop-color="#37b985"/><stop offset="0.100" stop-color="#39ba84"/><stop offset="0.200" stop-color="#4ac176"/><stop offset="0.275" stop-color="#8ad580"/><stop offset="0.335" stop-color="#bee780"/><stop offset="0.380" stop-color="#c4e980"/><stop offset="0.420" stop-color="#c9eb80"/><stop offset="0.450" stop-color="#a9e080"/><stop offset="0.470" stop-color="#a2dd80"/><stop offset="0.485" stop-color="#61c878"/><stop offset="0.500" stop-color="#31afa2"/><stop offset="0.515" stop-color="#67ca79"/><stop offset="0.530" stop-color="#a8df80"/><stop offset="0.550" stop-color="#b2e380"/><stop offset="0.580" stop-color="#c9eb80"/><stop offset="0.620" stop-color="#c2e980"/><stop offset="0.665" stop-color="#ade180"/><stop offset="0.725" stop-color="#87d480"/><stop offset="0.800" stop-color="#50c375"/><stop offset="0.900" stop-color="#3bbb82"/><stop offset="1.000" stop-color="#34b78a"/></linearGradient><linearGradient id="g48"><stop offset="0.000" stop-color="#32b19b"/><stop offset="0.100" stop-color="#33b494"/><stop offset="0.200" stop-color="#41be7d"/><stop offset="0.275" stop-color="#66ca79"/><stop offset="0.335" stop-color="#8dd680"/><stop offset="0.380" stop-color="#ace180"/><stop offset="0.420" stop-color="#a7df80"/><stop offset="0.450" stop-color="#97d980"/><stop offset="0.470" stop-color="#7bd07d"/><stop offset="0.485" stop-color="#4ac175"/><stop offset="0.500" stop-color="#30aab1"/><stop offset="0.515" stop-color="#53c475"/><stop offset="0.530" stop-color="#7cd17e"/><stop offset="0.550" stop-color="#8cd580"/><stop offset="0.580" stop-color="#9bdb80"/><stop offset="0.620" stop-color="#aae080"/><stop offset="0.665" stop-color="#90d780"/><stop offset="0.725" stop-color="#72cd7c"/><stop offset="0.800" stop-color="#3dbc80"/><stop offset="0.900" stop-color="#33b592"/><stop offset="1.000" stop-color="#32b19b"/></linearGradient><linearGradient id="g49"><stop offset="0.000" stop-color="#32b29a"/><stop offset="0.100" stop-color="#33b494"/><stop offset="0.200" stop-color="#39ba84"/><stop offset="0.275" stop-color="#60c878"/><stop offset="0.335" stop-color="#86d380"/><stop offset="0.380" stop-color="#97d980"/><stop offset="0.420" stop-color="#97d980"/><stop offset="0.450" stop-color="#8bd580"/><stop offset="0.470" stop-color="#7dd17e"/><stop offset="0.485" stop-color="#49c177"/><stop offset="0.500" stop-color="#30a9b1"/><stop offset="0.515" stop-color="#4ac176"/><stop offset="0.530" stop-color="#79d07d"/><stop offset="0.550" stop-color="#88d480"/><stop offset="0.580" stop-color="#a1dd80"/><stop offset="0.620" stop-color="#9edc80"/><stop offset="0.665" stop-color="#85d37f"/><stop offset="0.725" stop-color="#6acb7a"/><stop offset="0.800" stop-color="#3ebc7f"/><stop offset="0.900" stop-color="#32b29a"/><stop offset="1.000" stop-color="#32b299"/></linearGradient><linearGradient id="g50"><stop offset="0.000" stop-color="#31aea5"/><stop offset="0.100" stop-color="#31ada7"/><stop offset="0.200" stop-color="#36b986"/><stop offset="0.275" stop-color="#56c576"/><stop offset="0.335" stop-color="#85d37f"/><stop offset="0.380" stop-color="#88d480"/><stop offset="0.420" stop-color="#8ad580"/><stop offset="0.450" stop-color="#81d27f"/><stop offset="0.470" stop-color="#65c979"/><stop offset="0.485" stop-color="#40bd7e"/><stop offset="0.500" stop-color="#2fa9b3"/><stop offset="0.515" stop-color="#40bd7e"/><stop offset="0.530" stop-color="#64c979"/><stop offset="0.550" stop-color="#72cd7c"/><stop offset="0.580" stop-color="#85d37f"/><stop offset="0.620" stop-color="#8ed680"/><stop offset="0.665" stop-color="#7cd07e"/><stop offset="0.725" stop-color="#54c576"/><stop offset="0.800" stop-color="#33b68e"/><stop offset="0.900" stop-color="#31ada8"/><stop offset="1.000" stop-color="#31ada8"/></linearGradient><linearGradient id="g51"><stop offset="0.000" stop-color="#2fa9b2"/><stop offset="0.100" stop-color="#30abad"/><stop offset="0.200" stop-color="#34b68c"/><stop offset="0.275" stop-color="#53c475"/><stop offset="0.335" stop-color="#75ce7c"/><stop offset="0.380" stop-color="#7cd07e"/><stop offset="0.420" stop-color="#7bd07d"/><stop offset="0.450" stop-color="#76cf7c"/><stop offset="0.470" stop-color="#69cb7a"/><stop offset="0.485" stop-color="#3ebc80"/><stop offset="0.500" stop-color="#2fa8b4"/><stop offset="0.515" stop-color="#3dbc81"/><stop offset="0.530" stop-color="#65c979"/><stop offset="0.550" stop-color="#77cf7d"/><stop offset="0.580" stop-color="#80d27e"/><stop offset="0.620" stop-color="#8ad580"/><stop offset="0.665" stop-color="#71cd7b"/><stop offset="0.725" stop-color="#4fc375"/><stop offset="0.800" stop-color="#33b68e"/><stop offset="0.900" stop-color="#31ada8"/><stop offset="1.000" stop-color="#30a9b1"/></linearGradient><linearGradient id="g52"><stop offset="0.000" stop-color="#30aaaf"/><stop offset="0.100" stop-color="#30abae"/><stop offset="0.200" stop-color="#33b58f"/><stop offset="0.275" stop-color="#48c078"/><stop offset="0.335" stop-color="#73ce7c"/><stop offset="0.380" stop-color="#8bd580"/><stop offset="0.420" stop-color="#82d27f"/><stop offset="0.450" stop-color="#72cd7c"/><stop offset="0.470" stop-color="#69cb7a"/><stop offset="0.485" stop-color="#42be7d"/><stop offset="0.500" stop-color="#2fa9b2"/><stop offset="0.515" stop-color="#3fbd7e"/><stop offset="0.530" stop-color="#69cb7a"/><stop offset="0.550" stop-color="#73ce7c"/><stop offset="0.580" stop-color="#7fd17e"/><stop offset="0.620" stop-color="#81d27f"/><stop offset="0.665" stop-color="#6fcc7b"/><stop offset="0.725" stop-color="#49c177"/><stop offset="0.800" stop-color="#33b68f"/><stop offset="0.900" stop-color="#31acab"/><stop offset="1.000" stop-color="#30abad"/></linearGradient><linearGradient id="g53"><stop offset="0.000" stop-color="#2da7b8"/><stop offset="0.100" stop-color="#2fa9b3"/><stop offset="0.200" stop-color="#32b19c"/><stop offset="0.275" stop-color="#48c077"/><stop offset="0.335" stop-color="#69cb7a"/><stop offset="0.380" stop-color="#72cd7c"/><stop offset="0.420" stop-color="#71cd7b"/><stop offset="0.450" stop-color="#69cb7a"/><stop offset="0.470" stop-color="#5dc777"/><stop offset="0.485" stop-color="#3cbb81"/><stop offset="0.500" stop-color="#2fa9b3"/><stop offset="0.515" stop-color="#3dbc81"/><stop offset="0.530" stop-color="#54c476"/><stop offset="0.550" stop-color="#63c979"/><stop offset="0.580" stop-color="#71cd7b"/><stop offset="0.620" stop-color="#6ecc7b"/><stop offset="0.665" stop-color="#68ca7a"/><stop offset="0.725" stop-color="#45bf7a"/><stop offset="0.800" stop-color="#33b397"/><stop offset="0.900" stop-color="#2ea8b5"/><stop offset="1.000" stop-color="#2fa8b4"/></linearGradient><linearGradient id="g54"><stop offset="0.000" stop-color="#2da6ba"/><stop offset="0.100" stop-color="#2da7b8"/><stop offset="0.200" stop-color="#32b298"/><stop offset="0.275" stop-color="#44bf7b"/><stop offset="0.335" stop-color="#65ca79"/><stop offset="0.380" stop-color="#6dcc7b"/><stop offset="0.420" stop-color="#69cb7a"/><stop offset="0.450" stop-color="#5cc777"/><stop offset="0.470" stop-color="#59c677"/><stop offset="0.485" stop-color="#3aba83"/><stop offset="0.500" stop-color="#2fa9b3"/><stop offset="0.515" stop-color="#3bbb82"/><stop offset="0.530" stop-color="#57c576"/><stop offset="0.550" stop-color="#5dc777"/><stop offset="0.580" stop-color="#69cb7a"/><stop offset="0.620" stop-color="#7ad07d"/><stop offset="0.665" stop-color="#5ec778"/><stop offset="0.725" stop-color="#46c079"/><stop offset="0.800" stop-color="#32b09d"/><stop offset="0.900" stop-color="#2da6ba"/><stop offset="1.000" stop-color="#2ca5bc"/></linearGradient><linearGradient id="g55"><stop offset="0.000" stop-color="#2aa3c2"/><stop offset="0.100" stop-color="#2ba4c0"/><stop offset="0.200" stop-color="#31acaa"/><stop offset="0.275" stop-color="#39ba84"/><stop offset="0.335" stop-color="#57c576"/><stop offset="0.380" stop-color="#62c978"/><stop offset="0.420" stop-color="#63c979"/><stop offset="0.450" stop-color="#4ec374"/><stop offset="0.470" stop-color="#47c078"/><stop offset="0.485" stop-color="#35b887"/><stop offset="0.500" stop-color="#2da6ba"/><stop offset="0.515" stop-color="#36b986"/><stop offset="0.530" stop-color="#47c078"/><stop offset="0.550" stop-color="#57c576"/><stop offset="0.580" stop-color="#63c979"/><stop offset="0.620" stop-color="#63c979"/><stop offset="0.665" stop-color="#59c677"/><stop offset="0.725" stop-color="#3bbb82"/><stop offset="0.800" stop-color="#31afa2"/><stop offset="0.900" stop-color="#2ca5bc"/><stop offset="1.000" stop-color="#2aa3c3"/></linearGradient><linearGradient id="g56"><stop offset="0.000" stop-color="#29a2c4"/><stop offset="0.100" stop-color="#2ba4bf"/><stop offset="0.200" stop-color="#31acaa"/><stop offset="0.275" stop-color="#3aba83"/><stop offset="0.335" stop-color="#4cc274"/><stop offset="0.380" stop-color="#56c576"/><stop offset="0.420" stop-color="#58c676"/><stop offset="0.450" stop-color="#4ec374"/><stop offset="0.470" stop-color="#43be7b"/><stop offset="0.485" stop-color="#34b78c"/><stop offset="0.500" stop-color="#2ca6bb"/><stop offset="0.515" stop-color="#33b590"/><stop offset="0.530" stop-color="#41bd7d"/><stop offset="0.550" stop-color="#4bc275"/><stop offset="0.580" stop-color="#4fc375"/><stop offset="0.620" stop-color="#57c576"/><stop offset="0.665" stop-color="#4fc375"/><stop offset="0.725" stop-color="#36b986"/><stop offset="0.800" stop-color="#30abac"/><stop offset="0.900" stop-color="#2ba4be"/><stop offset="1.000" stop-color="#29a2c4"/></linearGradient><linearGradient id="g57"><stop offset="0.000" stop-color="#27a0cb"/><stop offset="0.100" stop-color="#29a2c4"/><stop offset="0.200" stop-color="#2ea8b5"/><stop offset="0.275" stop-color="#33b590"/><stop offset="0.335" stop-color="#42be7c"/><stop offset="0.380" stop-color="#47c078"/><stop offset="0.420" stop-color="#41bd7d"/><stop offset="0.450" stop-color="#41bd7d"/><stop offset="0.470" stop-color="#39ba84"/><stop offset="0.485" stop-color="#32b0a0"/><stop offset="0.500" stop-color="#29a1c6"/><stop offset="0.515" stop-color="#32b09f"/><stop offset="0.530" stop-color="#38ba84"/><stop offset="0.550" stop-color="#3dbc80"/><stop offset="0.580" stop-color="#3fbd7e"/><stop offset="0.620" stop-color="#48c077"/><stop offset="0.665" stop-color="#3cbb82"/><stop offset="0.725" stop-color="#33b68f"/><stop offset="0.800" stop-color="#2fa9b4"/><stop offset="0.900" stop-color="#29a2c4"/><stop offset="1.000" stop-color="#28a1c7"/></linearGradient><linearGradient id="g58"><stop offset="0.000" stop-color="#28a1c7"/><stop offset="0.100" stop-color="#29a2c4"/><stop offset="0.200" stop-color="#2ea8b6"/><stop offset="0.275" stop-color="#32b299"/><stop offset="0.335" stop-color="#37b986"/><stop offset="0.380" stop-color="#3ebc7f"/><stop offset="0.420" stop-color="#41bd7d"/><stop offset="0.450" stop-color="#3bbb83"/><stop offset="0.470" stop-color="#33b68d"/><stop offset="0.485" stop-color="#31afa2"/><stop offset="0.500" stop-color="#29a2c4"/><stop offset="0.515" stop-color="#32afa1"/><stop offset="0.530" stop-color="#34b888"/><stop offset="0.550" stop-color="#3bbb82"/><stop offset="0.580" stop-color="#3cbb82"/><stop offset="0.620" stop-color="#40bd7e"/><stop offset="0.665" stop-color="#3bbb82"/><stop offset="0.725" stop-color="#32b19c"/><stop offset="0.800" stop-color="#2ea7b7"/><stop offset="0.900" stop-color="#29a1c6"/><stop offset="1.000" stop-color="#29a2c6"/></linearGradient><linearGradient id="g59"><stop offset="0.000" stop-color="#2aa3c3"/><stop offset="0.100" stop-color="#2aa3c1"/><stop offset="0.200" stop-color="#2ea8b5"/><stop offset="0.275" stop-color="#32b19b"/><stop offset="0.335" stop-color="#36b986"/><stop offset="0.380" stop-color="#38ba84"/><stop offset="0.420" stop-color="#38ba84"/><stop offset="0.450" stop-color="#34b78c"/><stop offset="0.470" stop-color="#33b591"/><stop offset="0.485" stop-color="#31ada7"/><stop offset="0.500" stop-color="#2aa3c2"/><stop offset="0.515" stop-color="#31ada8"/><stop offset="0.530" stop-color="#33b58f"/><stop offset="0.550" stop-color="#34b68d"/><stop offset="0.580" stop-color="#35b987"/><stop offset="0.620" stop-color="#3aba83"/><stop offset="0.665" stop-color="#36b987"/><stop offset="0.725" stop-color="#32b19c"/><stop offset="0.800" stop-color="#2fa9b2"/><stop offset="0.900" stop-color="#2aa3c3"/><stop offset="1.000" stop-color="#29a2c5"/></linearGradient><linearGradient id="g60"><stop offset="0.000" stop-color="#28a0c9"/><stop offset="0.100" stop-color="#2aa2c3"/><stop offset="0.200" stop-color="#2ca5bc"/><stop offset="0.275" stop-color="#31afa1"/><stop offset="0.335" stop-color="#33b590"/><stop offset="0.380" stop-color="#34b889"/><stop offset="0.420" stop-color="#34b78a"/><stop offset="0.450" stop-color="#32b299"/><stop offset="0.470" stop-color="#32b09e"/><stop offset="0.485" stop-color="#30abae"/><stop offset="0.500" stop-color="#279fcc"/><stop offset="0.515" stop-color="#31acaa"/><stop offset="0.530" stop-color="#32b09e"/><stop offset="0.550" stop-color="#33b397"/><stop offset="0.580" stop-color="#34b78c"/><stop offset="0.620" stop-color="#33b590"/><stop offset="0.665" stop-color="#33b68f"/><stop offset="0.725" stop-color="#31ada6"/><stop offset="0.800" stop-color="#2da6b9"/><stop offset="0.900" stop-color="#2aa3c3"/><stop offset="1.000" stop-color="#27a0ca"/></linearGradient><linearGradient id="g61"><stop offset="0.000" stop-color="#259dd2"/><stop offset="0.100" stop-color="#269ecf"/><stop offset="0.200" stop-color="#28a1c8"/><stop offset="0.275" stop-color="#2da7b9"/><stop offset="0.335" stop-color="#30abae"/><stop offset="0.380" stop-color="#31aea5"/><stop offset="0.420" stop-color="#31ada8"/><stop offset="0.450" stop-color="#31acab"/><stop offset="0.470" stop-color="#2ea8b5"/><stop offset="0.485" stop-color="#2ba4be"/><stop offset="0.500" stop-color="#249dd3"/><stop offset="0.515" stop-color="#2aa4c1"/><stop offset="0.530" stop-color="#2fa9b3"/><stop offset="0.550" stop-color="#31aca9"/><stop offset="0.580" stop-color="#31acab"/><stop offset="0.620" stop-color="#31aea6"/><stop offset="0.665" stop-color="#30abac"/><stop offset="0.725" stop-color="#2da6ba"/><stop offset="0.800" stop-color="#28a1c8"/><stop offset="0.900" stop-color="#269ece"/><stop offset="1.000" stop-color="#259dd1"/></linearGradient><linearGradient id="g62"><stop offset="0.000" stop-color="#249dd3"/><stop offset="0.100" stop-color="#269ecf"/><stop offset="0.200" stop-color="#269fcd"/><stop offset="0.275" stop-color="#2ca5bd"/><stop offset="0.335" stop-color="#2ea7b7"/><stop offset="0.380" stop-color="#2fa9b2"/><stop offset="0.420" stop-color="#2fa8b4"/><stop offset="0.450" stop-color="#2fa8b4"/><stop offset="0.470" stop-color="#2ea7b7"/><stop offset="0.485" stop-color="#2aa3c3"/><stop offset="0.500" stop-color="#2499d5"/><stop offset="0.515" stop-color="#29a2c4"/><stop offset="0.530" stop-color="#2ca6bb"/><stop offset="0.550" stop-color="#2ea8b6"/><stop offset="0.580" stop-color="#2fa8b4"/><stop offset="0.620" stop-color="#30abac"/><stop offset="0.665" stop-color="#2ea7b7"/><stop offset="0.725" stop-color="#2ca5bc"/><stop offset="0.800" stop-color="#279fcb"/><stop offset="0.900" stop-color="#259ed0"/><stop offset="1.000" stop-color="#249cd3"/></linearGradient><linearGradient id="g63"><stop offset="0.000" stop-color="#279fcb"/><stop offset="0.100" stop-color="#27a0ca"/><stop offset="0.200" stop-color="#28a1c8"/><stop offset="0.275" stop-color="#2da7b9"/><stop offset="0.335" stop-color="#2fa8b4"/><stop offset="0.380" stop-color="#30abac"/><stop offset="0.420" stop-color="#30aaaf"/><stop offset="0.450" stop-color="#2fa9b4"/><stop offset="0.470" stop-color="#2ea8b5"/><stop offset="0.485" stop-color="#2aa3c2"/><stop offset="0.500" stop-color="#249cd4"/><stop offset="0.515" stop-color="#2ba4c0"/><stop offset="0.530" stop-color="#2ea7b7"/><stop offset="0.550" stop-color="#30a9b1"/><stop offset="0.580" stop-color="#30abaf"/><stop offset="0.620" stop-color="#31aca9"/><stop offset="0.665" stop-color="#30abad"/><stop offset="0.725" stop-color="#2ca6bb"/><stop offset="0.800" stop-color="#29a1c6"/><stop offset="0.900" stop-color="#279fcc"/><stop offset="1.000" stop-color="#269ece"/></linearGradient><linearGradient id="g64"><stop offset="0.000" stop-color="#269ecf"/><stop offset="0.100" stop-color="#259dd2"/><stop offset="0.200" stop-color="#28a0c9"/><stop offset="0.275" stop-color="#2ba4bf"/><stop offset="0.335" stop-color="#2ea7b7"/><stop offset="0.380" stop-color="#2da7b8"/><stop offset="0.420" stop-color="#2ca6bb"/><stop offset="0.450" stop-color="#2da6b9"/><stop offset="0.470" stop-color="#2ba4bf"/><stop offset="0.485" stop-color="#29a1c6"/><stop offset="0.500" stop-color="#2597d5"/><stop offset="0.515" stop-color="#28a1c7"/><stop offset="0.530" stop-color="#2ba4c0"/><stop offset="0.550" stop-color="#2da6ba"/><stop offset="0.580" stop-color="#2da6ba"/><stop offset="0.620" stop-color="#2da6ba"/><stop offset="0.665" stop-color="#2ea7b7"/><stop offset="0.725" stop-color="#2ba4c0"/><stop offset="0.800" stop-color="#27a0ca"/><stop offset="0.900" stop-color="#259dd1"/><stop offset="1.000" stop-color="#259dd2"/></linearGradient><linearGradient id="g65"><stop offset="0.000" stop-color="#2595d6"/><stop offset="0.100" stop-color="#2498d5"/><stop offset="0.200" stop-color="#2499d5"/><stop offset="0.275" stop-color="#259dd1"/><stop offset="0.335" stop-color="#27a0ca"/><stop offset="0.380" stop-color="#29a1c6"/><stop offset="0.420" stop-color="#29a1c6"/><stop offset="0.450" stop-color="#28a1c8"/><stop offset="0.470" stop-color="#27a0cb"/><stop offset="0.485" stop-color="#249cd4"/><stop offset="0.500" stop-color="#2593d6"/><stop offset="0.515" stop-color="#249cd3"/><stop offset="0.530" stop-color="#279fcb"/><stop offset="0.550" stop-color="#27a0cb"/><stop offset="0.580" stop-color="#29a2c5"/><stop offset="0.620" stop-color="#28a0c9"/><stop offset="0.665" stop-color="#28a1c7"/><stop offset="0.725" stop-color="#269fce"/><stop offset="0.800" stop-color="#249cd3"/><stop offset="0.900" stop-color="#2499d5"/><stop offset="1.000" stop-color="#2596d5"/></linearGradient><linearGradient id="g66"><stop offset="0.000" stop-color="#2595d6"/><stop offset="0.100" stop-color="#2595d6"/><stop offset="0.200" stop-color="#249bd4"/><stop offset="0.275" stop-color="#259dd2"/><stop offset="0.335" stop-color="#279fcb"/><stop offset="0.380" stop-color="#269ece"/><stop offset="0.420" stop-color="#269ece"/><stop offset="0.450" stop-color="#27a0cb"/><stop offset="0.470" stop-color="#269ece"/><stop offset="0.485" stop-color="#249bd4"/><stop offset="0.500" stop-color="#2591d7"/><stop offset="0.515" stop-color="#2499d5"/><stop offset="0.530" stop-color="#269ecf"/><stop offset="0.550" stop-color="#269fcd"/><stop offset="0.580" stop-color="#27a0cb"/><stop offset="0.620" stop-color="#28a1c8"/><stop offset="0.665" stop-color="#269fcd"/><stop offset="0.725" stop-color="#259dd0"/><stop offset="0.800" stop-color="#249ad5"/><stop offset="0.900" stop-color="#2594d6"/><stop offset="1.000" stop-color="#2498d5"/></linearGradient><linearGradient id="g67"><stop offset="0.000" stop-color="#2592d6"/><stop offset="0.100" stop-color="#2593d6"/><stop offset="0.200" stop-color="#2592d6"/><stop offset="0.275" stop-color="#2498d5"/><stop offset="0.335" stop-color="#249bd4"/><stop offset="0.380" stop-color="#249cd3"/><stop offset="0.420" stop-color="#249ad4"/><stop offset="0.450" stop-color="#2499d5"/><stop offset="0.470" stop-color="#2498d5"/><stop offset="0.485" stop-color="#2593d6"/><stop offset="0.500" stop-color="#268dd7"/><stop offset="0.515" stop-color="#2594d6"/><stop offset="0.530" stop-color="#249ad5"/><stop offset="0.550" stop-color="#249cd3"/><stop offset="0.580" stop-color="#249ad5"/><stop offset="0.620" stop-color="#249bd4"/><stop offset="0.665" stop-color="#249cd3"/><stop offset="0.725" stop-color="#2597d5"/><stop offset="0.800" stop-color="#2594d6"/><stop offset="0.900" stop-color="#2592d6"/><stop offset="1.000" stop-color="#2593d6"/></linearGradient><linearGradient id="g68"><stop offset="0.000" stop-color="#268bd8"/><stop offset="0.100" stop-color="#268dd7"/><stop offset="0.200" stop-color="#268dd7"/><stop offset="0.275" stop-color="#258fd7"/><stop offset="0.335" stop-color="#2594d6"/><stop offset="0.380" stop-color="#2592d6"/><stop offset="0.420" stop-color="#2594d6"/><stop offset="0.450" stop-color="#2594d6"/><stop offset="0.470" stop-color="#2593d6"/><stop offset="0.485" stop-color="#268ed7"/><stop offset="0.500" stop-color="#2783d5"/><stop offset="0.515" stop-color="#268ed7"/><stop offset="0.530" stop-color="#2592d6"/><stop offset="0.550" stop-color="#2591d6"/><stop offset="0.580" stop-color="#2594d6"/><stop offset="0.620" stop-color="#2595d6"/><stop offset="0.665" stop-color="#2594d6"/><stop offset="0.725" stop-color="#2590d7"/><stop offset="0.800" stop-color="#268ed7"/><stop offset="0.900" stop-color="#268dd7"/><stop offset="1.000" stop-color="#268bd8"/></linearGradient><linearGradient id="g69"><stop offset="0.000" stop-color="#268bd8"/><stop offset="0.100" stop-color="#268ad8"/><stop offset="0.200" stop-color="#268ed7"/><stop offset="0.275" stop-color="#2591d6"/><stop offset="0.335" stop-color="#2591d6"/><stop offset="0.380" stop-color="#2593d6"/><stop offset="0.420" stop-color="#2593d6"/><stop offset="0.450" stop-color="#258fd7"/><stop offset="0.470" stop-color="#2590d7"/><stop offset="0.485" stop-color="#268dd7"/><stop offset="0.500" stop-color="#2785d6"/><stop offset="0.515" stop-color="#268bd8"/><stop offset="0.530" stop-color="#2590d7"/><stop offset="0.550" stop-color="#2590d7"/><stop offset="0.580" stop-color="#2590d7"/><stop offset="0.620" stop-color="#2593d6"/><stop offset="0.665" stop-color="#2592d6"/><stop offset="0.725" stop-color="#2591d6"/><stop offset="0.800" stop-color="#268ed7"/><stop offset="0.900" stop-color="#268dd7"/><stop offset="1.000" stop-color="#268cd8"/></linearGradient><linearGradient id="g70"><stop offset="0.000" stop-color="#2784d6"/><stop offset="0.100" stop-color="#2784d6"/><stop offset="0.200" stop-color="#2687d7"/><stop offset="0.275" stop-color="#268bd8"/><stop offset="0.335" stop-color="#268bd8"/><stop offset="0.380" stop-color="#268ad8"/><stop offset="0.420" stop-color="#268ad8"/><stop offset="0.450" stop-color="#268cd8"/><stop offset="0.470" stop-color="#268bd8"/><stop offset="0.485" stop-color="#2687d7"/><stop offset="0.500" stop-color="#287dd3"/><stop offset="0.515" stop-color="#2785d6"/><stop offset="0.530" stop-color="#268bd8"/><stop offset="0.550" stop-color="#268ad8"/><stop offset="0.580" stop-color="#268bd8"/><stop offset="0.620" stop-color="#268dd7"/><stop offset="0.665" stop-color="#268ad8"/><stop offset="0.725" stop-color="#268bd8"/><stop offset="0.800" stop-color="#2786d6"/><stop offset="0.900" stop-color="#2687d7"/><stop offset="1.000" stop-color="#2687d7"/></linearGradient><linearGradient id="g71"><stop offset="0.000" stop-color="#268ad8"/><stop offset="0.100" stop-color="#268ad8"/><stop offset="0.200" stop-color="#268bd8"/><stop offset="0.275" stop-color="#268ad8"/><stop offset="0.335" stop-color="#268ed7"/><stop offset="0.380" stop-color="#268bd8"/><stop offset="0.420" stop-color="#268cd8"/><stop offset="0.450" stop-color="#268ed7"/><stop offset="0.470" stop-color="#268bd8"/><stop offset="0.485" stop-color="#268ad8"/><stop offset="0.500" stop-color="#2780d4"/><stop offset="0.515" stop-color="#2687d7"/><stop offset="0.530" stop-color="#268ad8"/><stop offset="0.550" stop-color="#268ed7"/><stop offset="0.580" stop-color="#268ed7"/><stop offset="0.620" stop-color="#258fd7"/><stop offset="0.665" stop-color="#268cd7"/><stop offset="0.725" stop-color="#268cd8"/><stop offset="0.800" stop-color="#2688d7"/><stop offset="0.900" stop-color="#2786d6"/><stop offset="1.000" stop-color="#2786d6"/></linearGradient><linearGradient id="g72"><stop offset="0.000" stop-color="#2781d4"/><stop offset="0.100" stop-color="#277ed4"/><stop offset="0.200" stop-color="#2782d5"/><stop offset="0.275" stop-color="#2784d6"/><stop offset="0.335" stop-color="#2784d6"/><stop offset="0.380" stop-color="#2785d6"/><stop offset="0.420" stop-color="#2786d6"/><stop offset="0.450" stop-color="#2689d8"/><stop offset="0.470" stop-color="#2687d7"/><stop offset="0.485" stop-color="#2781d5"/><stop offset="0.500" stop-color="#287dd3"/><stop offset="0.515" stop-color="#2784d6"/><stop offset="0.530" stop-color="#2785d6"/><stop offset="0.550" stop-color="#2784d6"/><stop offset="0.580" stop-color="#2688d7"/><stop offset="0.620" stop-color="#2688d7"/><stop offset="0.665" stop-color="#2688d7"/><stop offset="0.725" stop-color="#2786d6"/><stop offset="0.800" stop-color="#2784d6"/><stop offset="0.900" stop-color="#2782d5"/><stop offset="1.000" stop-color="#277fd4"/></linearGradient><linearGradient id="g73"><stop offset="0.000" stop-color="#2975d0"/><stop offset="0.100" stop-color="#2976d0"/><stop offset="0.200" stop-color="#2976d0"/><stop offset="0.275" stop-color="#2879d2"/><stop offset="0.335" stop-color="#287ad2"/><stop offset="0.380" stop-color="#287cd3"/><stop offset="0.420" stop-color="#287ad2"/><stop offset="0.450" stop-color="#287bd2"/><stop offset="0.470" stop-color="#2878d1"/><stop offset="0.485" stop-color="#2878d1"/><stop offset="0.500" stop-color="#2975d0"/><stop offset="0.515" stop-color="#2879d1"/><stop offset="0.530" stop-color="#2879d2"/><stop offset="0.550" stop-color="#287cd3"/><stop offset="0.580" stop-color="#287dd3"/><stop offset="0.620" stop-color="#287bd2"/><stop offset="0.665" stop-color="#287dd3"/><stop offset="0.725" stop-color="#2878d1"/><stop offset="0.800" stop-color="#2976d0"/><stop offset="0.900" stop-color="#2878d1"/><stop offset="1.000" stop-color="#2975d0"/></linearGradient><linearGradient id="g74"><stop offset="0.000" stop-color="#2974d0"/><stop offset="0.100" stop-color="#2973cf"/><stop offset="0.200" stop-color="#2973cf"/><stop offset="0.275" stop-color="#2976d0"/><stop offset="0.335" stop-color="#2877d1"/><stop offset="0.380" stop-color="#2879d1"/><stop offset="0.420" stop-color="#2876d1"/><stop offset="0.450" stop-color="#287ad2"/><stop offset="0.470" stop-color="#2877d1"/><stop offset="0.485" stop-color="#2974d0"/><stop offset="0.500" stop-color="#2971cf"/><stop offset="0.515" stop-color="#2877d1"/><stop offset="0.530" stop-color="#2975d0"/><stop offset="0.550" stop-color="#2877d1"/><stop offset="0.580" stop-color="#2877d1"/><stop offset="0.620" stop-color="#2879d1"/><stop offset="0.665" stop-color="#287ad2"/><stop offset="0.725" stop-color="#2976d0"/><stop offset="0.800" stop-color="#2975d0"/><stop offset="0.900" stop-color="#2972cf"/><stop offset="1.000" stop-color="#2974d0"/></linearGradient><linearGradient id="g75"><stop offset="0.000" stop-color="#2a6dcd"/><stop offset="0.100" stop-color="#296fce"/><stop offset="0.200" stop-color="#296fce"/><stop offset="0.275" stop-color="#296fce"/><stop offset="0.335" stop-color="#2971ce"/><stop offset="0.380" stop-color="#2971ce"/><stop offset="0.420" stop-color="#2974d0"/><stop offset="0.450" stop-color="#2974d0"/><stop offset="0.470" stop-color="#2971cf"/><stop offset="0.485" stop-color="#2971ce"/><stop offset="0.500" stop-color="#296fce"/><stop offset="0.515" stop-color="#2972cf"/><stop offset="0.530" stop-color="#296fce"/><stop offset="0.550" stop-color="#2971ce"/><stop offset="0.580" stop-color="#2973cf"/><stop offset="0.620" stop-color="#2974d0"/><stop offset="0.665" stop-color="#2971ce"/><stop offset="0.725" stop-color="#296fce"/><stop offset="0.800" stop-color="#2a6fcd"/><stop offset="0.900" stop-color="#2a6fcd"/><stop offset="1.000" stop-color="#2970ce"/></linearGradient><linearGradient id="g76"><stop offset="0.000" stop-color="#2a69cb"/><stop offset="0.100" stop-color="#2a68cb"/><stop offset="0.200" stop-color="#2a69cb"/><stop offset="0.275" stop-color="#2a6bcc"/><stop offset="0.335" stop-color="#2a6ecd"/><stop offset="0.380" stop-color="#2a6ccd"/><stop offset="0.420" stop-color="#2a6bcc"/><stop offset="0.450" stop-color="#2a6ecd"/><stop offset="0.470" stop-color="#2a6acc"/><stop offset="0.485" stop-color="#2a6acc"/><stop offset="0.500" stop-color="#2a6bcc"/><stop offset="0.515" stop-color="#2a6bcc"/><stop offset="0.530" stop-color="#2a6bcc"/><stop offset="0.550" stop-color="#2a6dcd"/><stop offset="0.580" stop-color="#2a6ccd"/><stop offset="0.620" stop-color="#2a6dcd"/><stop offset="0.665" stop-color="#2a6ccc"/><stop offset="0.725" stop-color="#2a6bcc"/><stop offset="0.800" stop-color="#2a6bcc"/><stop offset="0.900" stop-color="#2a6acc"/><stop offset="1.000" stop-color="#2a6acc"/></linearGradient><linearGradient id="g77"><stop offset="0.000" stop-color="#2a6acc"/><stop offset="0.100" stop-color="#2a6acc"/><stop offset="0.200" stop-color="#2a6acc"/><stop offset="0.275" stop-color="#2a6ccd"/><stop offset="0.335" stop-color="#2a6fcd"/><stop offset="0.380" stop-color="#2a6dcd"/><stop offset="0.420" stop-color="#2a6dcd"/><stop offset="0.450" stop-color="#2a6ecd"/><stop offset="0.470" stop-color="#2a6dcd"/><stop offset="0.485" stop-color="#2a6dcd"/><stop offset="0.500" stop-color="#2a6dcd"/><stop offset="0.515" stop-color="#2a6ccc"/><stop offset="0.530" stop-color="#296fce"/><stop offset="0.550" stop-color="#2a6ecd"/><stop offset="0.580" stop-color="#2a6ecd"/><stop offset="0.620" stop-color="#2971ce"/><stop offset="0.665" stop-color="#2a6ecd"/><stop offset="0.725" stop-color="#2a6dcd"/><stop offset="0.800" stop-color="#2a6dcd"/><stop offset="0.900" stop-color="#2a6acc"/><stop offset="1.000" stop-color="#2a6ccc"/></linearGradient><linearGradient id="g78"><stop offset="0.000" stop-color="#2b61c8"/><stop offset="0.100" stop-color="#2b62c9"/><stop offset="0.200" stop-color="#2b62c9"/><stop offset="0.275" stop-color="#2b62c9"/><stop offset="0.335" stop-color="#2b66ca"/><stop offset="0.380" stop-color="#2b63c9"/><stop offset="0.420" stop-color="#2b65ca"/><stop offset="0.450" stop-color="#2b63c9"/><stop offset="0.470" stop-color="#2b65ca"/><stop offset="0.485" stop-color="#2b64c9"/><stop offset="0.500" stop-color="#2b62c9"/><stop offset="0.515" stop-color="#2b63c9"/><stop offset="0.530" stop-color="#2b64c9"/><stop offset="0.550" stop-color="#2b63c9"/><stop offset="0.580" stop-color="#2b64ca"/><stop offset="0.620" stop-color="#2b64c9"/><stop offset="0.665" stop-color="#2b64c9"/><stop offset="0.725" stop-color="#2b65ca"/><stop offset="0.800" stop-color="#2b61c8"/><stop offset="0.900" stop-color="#2b61c8"/><stop offset="1.000" stop-color="#2b60c8"/></linearGradient><linearGradient id="g79"><stop offset="0.000" stop-color="#2b64c9"/><stop offset="0.100" stop-color="#2b64c9"/><stop offset="0.200" stop-color="#2b66ca"/><stop offset="0.275" stop-color="#2a67cb"/><stop offset="0.335" stop-color="#2a68cb"/><stop offset="0.380" stop-color="#2a68cb"/><stop offset="0.420" stop-color="#2b66ca"/><stop offset="0.450" stop-color="#2b67ca"/><stop offset="0.470" stop-color="#2b66ca"/><stop offset="0.485" stop-color="#2a67cb"/><stop offset="0.500" stop-color="#2b65ca"/><stop offset="0.515" stop-color="#2b65ca"/><stop offset="0.530" stop-color="#2b66ca"/><stop offset="0.550" stop-color="#2a68cb"/><stop offset="0.580" stop-color="#2a69cb"/><stop offset="0.620" stop-color="#2a68cb"/><stop offset="0.665" stop-color="#2b65ca"/><stop offset="0.725" stop-color="#2b66ca"/><stop offset="0.800" stop-color="#2b65ca"/><stop offset="0.900" stop-color="#2b65ca"/><stop offset="1.000" stop-color="#2b66ca"/></linearGradient><linearGradient id="g80"><stop offset="0.000" stop-color="#2b5fc8"/><stop offset="0.100" stop-color="#2b5fc8"/><stop offset="0.200" stop-color="#2b60c8"/><stop offset="0.275" stop-color="#2b61c8"/><stop offset="0.335" stop-color="#2b60c8"/><stop offset="0.380" stop-color="#2b60c8"/><stop offset="0.420" stop-color="#2b62c9"/><stop offset="0.450" stop-color="#2b62c9"/><stop offset="0.470" stop-color="#2b5fc8"/><stop offset="0.485" stop-color="#2b61c8"/><stop offset="0.500" stop-color="#2b60c8"/><stop offset="0.515" stop-color="#2c5fc7"/><stop offset="0.530" stop-color="#2b61c8"/><stop offset="0.550" stop-color="#2b61c8"/><stop offset="0.580" stop-color="#2b61c8"/><stop offset="0.620" stop-color="#2b61c8"/><stop offset="0.665" stop-color="#2b60c8"/><stop offset="0.725" stop-color="#2c5fc7"/><stop offset="0.800" stop-color="#2c5ec7"/><stop offset="0.900" stop-color="#2c5ec7"/><stop offset="1.000" stop-color="#2c5ec7"/></linearGradient><linearGradient id="g81"><stop offset="0.000" stop-color="#2d59c4"/><stop offset="0.100" stop-color="#2d5ac4"/><stop offset="0.200" stop-color="#2d5ac4"/><stop offset="0.275" stop-color="#2c5ac4"/><stop offset="0.335" stop-color="#2d59c4"/><stop offset="0.380" stop-color="#2d59c4"/><stop offset="0.420" stop-color="#2d5ac4"/><stop offset="0.450" stop-color="#2c5bc6"/><stop offset="0.470" stop-color="#2c5bc6"/><stop offset="0.485" stop-color="#2c5ac4"/><stop offset="0.500" stop-color="#2c5bc5"/><stop offset="0.515" stop-color="#2c5bc5"/><stop offset="0.530" stop-color="#2c5bc6"/><stop offset="0.550" stop-color="#2c5bc5"/><stop offset="0.580" stop-color="#2c5bc6"/><stop offset="0.620" stop-color="#2c5ac5"/><stop offset="0.665" stop-color="#2d59c4"/><stop offset="0.725" stop-color="#2c5bc6"/><stop offset="0.800" stop-color="#2d59c3"/><stop offset="0.900" stop-color="#2d58c2"/><stop offset="1.000" stop-color="#2d59c3"/></linearGradient><linearGradient id="g82"><stop offset="0.000" stop-color="#2c5ac5"/><stop offset="0.100" stop-color="#2d59c4"/><stop offset="0.200" stop-color="#2d59c4"/><stop offset="0.275" stop-color="#2d59c4"/><stop offset="0.335" stop-color="#2c5bc6"/><stop offset="0.380" stop-color="#2c5ac5"/><stop offset="0.420" stop-color="#2c5ac5"/><stop offset="0.450" stop-color="#2c5ac5"/><stop offset="0.470" stop-color="#2c5ac4"/><stop offset="0.485" stop-color="#2c5bc6"/><stop offset="0.500" stop-color="#2c5bc6"/><stop offset="0.515" stop-color="#2c5bc6"/><stop offset="0.530" stop-color="#2c5bc5"/><stop offset="0.550" stop-color="#2c5bc6"/><stop offset="0.580" stop-color="#2c5ac5"/><stop offset="0.620" stop-color="#2c5bc6"/><stop offset="0.665" stop-color="#2c5ac5"/><stop offset="0.725" stop-color="#2d59c4"/><stop offset="0.800" stop-color="#2c5ac5"/><stop offset="0.900" stop-color="#2d59c4"/><stop offset="1.000" stop-color="#2d59c4"/></linearGradient><linearGradient id="g83"><stop offset="0.000" stop-color="#2f54bd"/><stop offset="0.100" stop-color="#2f54bc"/><stop offset="0.200" stop-color="#2f55be"/><stop offset="0.275" stop-color="#2f54bd"/><stop offset="0.335" stop-color="#2f54bd"/><stop offset="0.380" stop-color="#2f55be"/><stop offset="0.420" stop-color="#2f55be"/><stop offset="0.450" stop-color="#2f55be"/><stop offset="0.470" stop-color="#2e56bf"/><stop offset="0.485" stop-color="#2f55be"/><stop offset="0.500" stop-color="#2f55be"/><stop offset="0.515" stop-color="#2f54bd"/><stop offset="0.530" stop-color="#2f55bd"/><stop offset="0.550" stop-color="#2e56bf"/><stop offset="0.580" stop-color="#2f55bd"/><stop offset="0.620" stop-color="#2e55be"/><stop offset="0.665" stop-color="#2f55be"/><stop offset="0.725" stop-color="#2f54bd"/><stop offset="0.800" stop-color="#2f54bd"/><stop offset="0.900" stop-color="#2f54bd"/><stop offset="1.000" stop-color="#2f54bd"/></linearGradient><linearGradient id="g84"><stop offset="0.000" stop-color="#3053bb"/><stop offset="0.100" stop-color="#3052ba"/><stop offset="0.200" stop-color="#3053bb"/><stop offset="0.275" stop-color="#2f54bd"/><stop offset="0.335" stop-color="#2f53bc"/><stop offset="0.380" stop-color="#2f53bc"/><stop offset="0.420" stop-color="#2f54bc"/><stop offset="0.450" stop-color="#2f53bc"/><stop offset="0.470" stop-color="#2f54bd"/><stop offset="0.485" stop-color="#2f53bc"/><stop offset="0.500" stop-color="#2f53bb"/><stop offset="0.515" stop-color="#2f54bd"/><stop offset="0.530" stop-color="#2f53bb"/><stop offset="0.550" stop-color="#2f53bb"/><stop offset="0.580" stop-color="#2f53bb"/><stop offset="0.620" stop-color="#2f54bc"/><stop offset="0.665" stop-color="#2f53bb"/><stop offset="0.725" stop-color="#2f54bd"/><stop offset="0.800" stop-color="#2f53bc"/><stop offset="0.900" stop-color="#3053bb"/><stop offset="1.000" stop-color="#3052ba"/></linearGradient><linearGradient id="g85"><stop offset="0.000" stop-color="#324eb5"/><stop offset="0.100" stop-color="#314eb5"/><stop offset="0.200" stop-color="#324eb5"/><stop offset="0.275" stop-color="#314eb5"/><stop offset="0.335" stop-color="#314fb6"/><stop offset="0.380" stop-color="#314fb5"/><stop offset="0.420" stop-color="#314fb6"/><stop offset="0.450" stop-color="#314fb6"/><stop offset="0.470" stop-color="#314eb5"/><stop offset="0.485" stop-color="#314eb5"/><stop offset="0.500" stop-color="#314fb5"/><stop offset="0.515" stop-color="#324eb5"/><stop offset="0.530" stop-color="#314fb6"/><stop offset="0.550" stop-color="#314fb5"/><stop offset="0.580" stop-color="#314fb6"/><stop offset="0.620" stop-color="#314fb6"/><stop offset="0.665" stop-color="#314eb5"/><stop offset="0.725" stop-color="#314eb5"/><stop offset="0.800" stop-color="#314eb5"/><stop offset="0.900" stop-color="#324eb4"/><stop offset="1.000" stop-color="#324eb5"/></linearGradient><linearGradient id="g86"><stop offset="0.000" stop-color="#324db3"/><stop offset="0.100" stop-color="#324db3"/><stop offset="0.200" stop-color="#324db4"/><stop offset="0.275" stop-color="#324db3"/><stop offset="0.335" stop-color="#324db3"/><stop offset="0.380" stop-color="#324db4"/><stop offset="0.420" stop-color="#324db4"/><stop offset="0.450" stop-color="#324db3"/><stop offset="0.470" stop-color="#324db3"/><stop offset="0.485" stop-color="#324db3"/><stop offset="0.500" stop-color="#324db4"/><stop offset="0.515" stop-color="#324db3"/><stop offset="0.530" stop-color="#324db4"/><stop offset="0.550" stop-color="#324db3"/><stop offset="0.580" stop-color="#324eb4"/><stop offset="0.620" stop-color="#324db3"/><stop offset="0.665" stop-color="#324db4"/><stop offset="0.725" stop-color="#324db3"/><stop offset="0.800" stop-color="#324db3"/><stop offset="0.900" stop-color="#324db4"/><stop offset="1.000" stop-color="#324db4"/></linearGradient><linearGradient id="g87"><stop offset="0.000" stop-color="#334bb1"/><stop offset="0.100" stop-color="#324cb2"/><stop offset="0.200" stop-color="#324cb2"/><stop offset="0.275" stop-color="#334cb1"/><stop offset="0.335" stop-color="#334cb2"/><stop offset="0.380" stop-color="#324db3"/><stop offset="0.420" stop-color="#334cb1"/><stop offset="0.450" stop-color="#324cb2"/><stop offset="0.470" stop-color="#324cb2"/><stop offset="0.485" stop-color="#324cb2"/><stop offset="0.500" stop-color="#334cb1"/><stop offset="0.515" stop-color="#324db3"/><stop offset="0.530" stop-color="#324cb2"/><stop offset="0.550" stop-color="#324db3"/><stop offset="0.580" stop-color="#324cb3"/><stop offset="0.620" stop-color="#324db3"/><stop offset="0.665" stop-color="#324db3"/><stop offset="0.725" stop-color="#324cb2"/><stop offset="0.800" stop-color="#334cb2"/><stop offset="0.900" stop-color="#334bb1"/><stop offset="1.000" stop-color="#324cb2"/></linearGradient><linearGradient id="g88"><stop offset="0.000" stop-color="#334aaf"/><stop offset="0.100" stop-color="#334aaf"/><stop offset="0.200" stop-color="#334aaf"/><stop offset="0.275" stop-color="#334ab0"/><stop offset="0.335" stop-color="#334bb0"/><stop offset="0.380" stop-color="#334bb0"/><stop offset="0.420" stop-color="#334ab0"/><stop offset="0.450" stop-color="#334ab0"/><stop offset="0.470" stop-color="#334ab0"/><stop offset="0.485" stop-color="#334aaf"/><stop offset="0.500" stop-color="#334aaf"/><stop offset="0.515" stop-color="#334aaf"/><stop offset="0.530" stop-color="#334ab0"/><stop offset="0.550" stop-color="#334ab0"/><stop offset="0.580" stop-color="#334bb0"/><stop offset="0.620" stop-color="#334ab0"/><stop offset="0.665" stop-color="#334aaf"/><stop offset="0.725" stop-color="#334bb0"/><stop offset="0.800" stop-color="#334ab0"/><stop offset="0.900" stop-color="#334ab0"/><stop offset="1.000" stop-color="#334ab0"/></linearGradient><linearGradient id="g89"><stop offset="0.000" stop-color="#3448ad"/><stop offset="0.100" stop-color="#3449ae"/><stop offset="0.200" stop-color="#3449ae"/><stop offset="0.275" stop-color="#3449ad"/><stop offset="0.335" stop-color="#3449ae"/><stop offset="0.380" stop-color="#3449ae"/><stop offset="0.420" stop-color="#3448ad"/><stop offset="0.450" stop-color="#3449ae"/><stop offset="0.470" stop-color="#3449ae"/><stop offset="0.485" stop-color="#3448ad"/><stop offset="0.500" stop-color="#3449ae"/><stop offset="0.515" stop-color="#3449ad"/><stop offset="0.530" stop-color="#3448ad"/><stop offset="0.550" stop-color="#3449ae"/><stop offset="0.580" stop-color="#3448ad"/><stop offset="0.620" stop-color="#3449ae"/><stop offset="0.665" stop-color="#3449ae"/><stop offset="0.725" stop-color="#3448ad"/><stop offset="0.800" stop-color="#3449ae"/><stop offset="0.900" stop-color="#3449ae"/><stop offset="1.000" stop-color="#3448ad"/></linearGradient><linearGradient id="g90"><stop offset="0.000" stop-color="#3545a9"/><stop offset="0.100" stop-color="#3546aa"/><stop offset="0.200" stop-color="#3545a9"/><stop offset="0.275" stop-color="#3546aa"/><stop offset="0.335" stop-color="#3546aa"/><stop offset="0.380" stop-color="#3546aa"/><stop offset="0.420" stop-color="#3546aa"/><stop offset="0.450" stop-color="#3546aa"/><stop offset="0.470" stop-color="#3546aa"/><stop offset="0.485" stop-color="#3546a9"/><stop offset="0.500" stop-color="#3546aa"/><stop offset="0.515" stop-color="#3546aa"/><stop offset="0.530" stop-color="#3546aa"/><stop offset="0.550" stop-color="#3546a9"/><stop offset="0.580" stop-color="#3546aa"/><stop offset="0.620" stop-color="#3546aa"/><stop offset="0.665" stop-color="#3546aa"/><stop offset="0.725" stop-color="#3546aa"/><stop offset="0.800" stop-color="#3546aa"/><stop offset="0.900" stop-color="#3546a9"/><stop offset="1.000" stop-color="#3546aa"/></linearGradient><linearGradient id="g91"><stop offset="0.000" stop-color="#3644a7"/><stop offset="0.100" stop-color="#3644a8"/><stop offset="0.200" stop-color="#3644a8"/><stop offset="0.275" stop-color="#3645a8"/><stop offset="0.335" stop-color="#3644a8"/><stop offset="0.380" stop-color="#3644a8"/><stop offset="0.420" stop-color="#3644a7"/><stop offset="0.450" stop-color="#3644a8"/><stop offset="0.470" stop-color="#3644a8"/><stop offset="0.485" stop-color="#3644a8"/><stop offset="0.500" stop-color="#3644a8"/><stop offset="0.515" stop-color="#3644a8"/><stop offset="0.530" stop-color="#3644a8"/><stop offset="0.550" stop-color="#3644a8"/><stop offset="0.580" stop-color="#3644a8"/><stop offset="0.620" stop-color="#3644a8"/><stop offset="0.665" stop-color="#3644a7"/><stop offset="0.725" stop-color="#3545a8"/><stop offset="0.800" stop-color="#3645a8"/><stop offset="0.900" stop-color="#3644a8"/><stop offset="1.000" stop-color="#3644a8"/></linearGradient><linearGradient id="g92"><stop offset="0.000" stop-color="#3642a5"/><stop offset="0.100" stop-color="#3642a5"/><stop offset="0.200" stop-color="#3643a5"/><stop offset="0.275" stop-color="#3642a5"/><stop offset="0.335" stop-color="#3643a5"/><stop offset="0.380" stop-color="#3642a5"/><stop offset="0.420" stop-color="#3642a5"/><stop offset="0.450" stop-color="#3642a5"/><stop offset="0.470" stop-color="#3643a5"/><stop offset="0.485" stop-color="#3642a5"/><stop offset="0.500" stop-color="#3643a6"/><stop offset="0.515" stop-color="#3643a5"/><stop offset="0.530" stop-color="#3642a5"/><stop offset="0.550" stop-color="#3643a5"/><stop offset="0.580" stop-color="#3642a5"/><stop offset="0.620" stop-color="#3643a6"/><stop offset="0.665" stop-color="#3643a6"/><stop offset="0.725" stop-color="#3643a5"/><stop offset="0.800" stop-color="#3642a5"/><stop offset="0.900" stop-color="#3642a5"/><stop offset="1.000" stop-color="#3643a5"/></linearGradient></defs>
<rect x="749.0" y="1537.90" width="119.5" height="5.71" fill="url(#g47)"/><rect x="749.0" y="1542.61" width="119.5" height="5.71" fill="url(#g48)"/><rect x="749.0" y="1547.32" width="119.5" height="5.71" fill="url(#g49)"/><rect x="749.0" y="1552.03" width="119.5" height="5.71" fill="url(#g50)"/><rect x="749.0" y="1556.74" width="119.5" height="5.71" fill="url(#g51)"/><rect x="749.0" y="1561.45" width="119.5" height="5.71" fill="url(#g52)"/><rect x="749.0" y="1566.17" width="119.5" height="5.71" fill="url(#g53)"/><rect x="749.0" y="1570.88" width="119.5" height="5.71" fill="url(#g54)"/><rect x="749.0" y="1575.59" width="119.5" height="5.71" fill="url(#g55)"/><rect x="749.0" y="1580.30" width="119.5" height="5.71" fill="url(#g56)"/><rect x="749.0" y="1585.01" width="119.5" height="5.71" fill="url(#g57)"/><rect x="749.0" y="1589.72" width="119.5" height="5.71" fill="url(#g58)"/><rect x="749.0" y="1594.43" width="119.5" height="5.71" fill="url(#g59)"/><rect x="749.0" y="1599.14" width="119.5" height="5.71" fill="url(#g60)"/><rect x="749.0" y="1603.85" width="119.5" height="5.71" fill="url(#g61)"/><rect x="749.0" y="1608.56" width="119.5" height="5.71" fill="url(#g62)"/><rect x="749.0" y="1613.27" width="119.5" height="5.71" fill="url(#g63)"/><rect x="749.0" y="1617.98" width="119.5" height="5.71" fill="url(#g64)"/><rect x="749.0" y="1622.70" width="119.5" height="5.71" fill="url(#g65)"/><rect x="749.0" y="1627.41" width="119.5" height="5.71" fill="url(#g66)"/><rect x="749.0" y="1632.12" width="119.5" height="5.71" fill="url(#g67)"/><rect x="749.0" y="1636.83" width="119.5" height="5.71" fill="url(#g68)"/><rect x="749.0" y="1641.54" width="119.5" height="5.71" fill="url(#g69)"/><rect x="749.0" y="1646.25" width="119.5" height="5.71" fill="url(#g70)"/><rect x="749.0" y="1650.96" width="119.5" height="5.71" fill="url(#g71)"/><rect x="749.0" y="1655.67" width="119.5" height="5.71" fill="url(#g72)"/><rect x="749.0" y="1660.38" width="119.5" height="5.71" fill="url(#g73)"/><rect x="749.0" y="1665.09" width="119.5" height="5.71" fill="url(#g74)"/><rect x="749.0" y="1669.80" width="119.5" height="5.71" fill="url(#g75)"/><rect x="749.0" y="1674.52" width="119.5" height="5.71" fill="url(#g76)"/><rect x="749.0" y="1679.23" width="119.5" height="5.71" fill="url(#g77)"/><rect x="749.0" y="1683.94" width="119.5" height="5.71" fill="url(#g78)"/><rect x="749.0" y="1688.65" width="119.5" height="5.71" fill="url(#g79)"/><rect x="749.0" y="1693.36" width="119.5" height="5.71" fill="url(#g80)"/><rect x="749.0" y="1698.07" width="119.5" height="5.71" fill="url(#g81)"/><rect x="749.0" y="1702.78" width="119.5" height="5.71" fill="url(#g82)"/><rect x="749.0" y="1707.49" width="119.5" height="5.71" fill="url(#g83)"/><rect x="749.0" y="1712.20" width="119.5" height="5.71" fill="url(#g84)"/><rect x="749.0" y="1716.91" width="119.5" height="5.71" fill="url(#g85)"/><rect x="749.0" y="1721.62" width="119.5" height="5.71" fill="url(#g86)"/><rect x="749.0" y="1726.33" width="119.5" height="5.71" fill="url(#g87)"/><rect x="749.0" y="1731.05" width="119.5" height="5.71" fill="url(#g88)"/><rect x="749.0" y="1735.76" width="119.5" height="5.71" fill="url(#g89)"/><rect x="749.0" y="1740.47" width="119.5" height="5.71" fill="url(#g90)"/><rect x="749.0" y="1745.18" width="119.5" height="5.71" fill="url(#g91)"/><rect x="749.0" y="1749.89" width="119.5" height="5.71" fill="url(#g92)"/>
<rect x="619.10" y="1537.90" width="121.70" height="2.20" fill="#a89470"/>
<rect x="749.00" y="1537.90" width="119.50" height="2.20" fill="#a89470"/>
<rect x="619.10" y="1537.90" width="121.70" height="216.70" fill="none" stroke="#333" stroke-width="0.8"/>
<rect x="749.00" y="1537.90" width="119.50" height="216.70" fill="none" stroke="#333" stroke-width="0.8"/>
<rect x="878.70" y="1536.60" width="12.10" height="218.80" fill="url(#cb100)" stroke="#444" stroke-width="0.8"/>
<line x1="890.8" y1="1754.7" x2="894.0" y2="1754.7" stroke="#444" stroke-width="1" stroke-linecap="butt"/>
<text x="892.6" y="1759.5" font-size="12.5" fill="#222">0</text>
<line x1="890.8" y1="1710.7" x2="894.0" y2="1710.7" stroke="#444" stroke-width="1" stroke-linecap="butt"/>
<text x="892.6" y="1715.5" font-size="12.5" fill="#222">20</text>
<line x1="890.8" y1="1666.6" x2="894.0" y2="1666.6" stroke="#444" stroke-width="1" stroke-linecap="butt"/>
<text x="892.6" y="1671.4" font-size="12.5" fill="#222">40</text>
<line x1="890.8" y1="1622.6" x2="894.0" y2="1622.6" stroke="#444" stroke-width="1" stroke-linecap="butt"/>
<text x="892.6" y="1627.4" font-size="12.5" fill="#222">60</text>
<line x1="890.8" y1="1578.5" x2="894.0" y2="1578.5" stroke="#444" stroke-width="1" stroke-linecap="butt"/>
<text x="892.6" y="1583.3" font-size="12.5" fill="#222">80</text>
<line x1="890.8" y1="1534.5" x2="894.0" y2="1534.5" stroke="#444" stroke-width="1" stroke-linecap="butt"/>
<text x="892.6" y="1539.3" font-size="12.5" fill="#222">100</text>
<text x="735.2" y="1774.1" font-size="21.5" text-anchor="middle">gene distance (bp)</text>
<text x="754.6" y="1823.4" font-size="24.8" text-anchor="middle" font-weight="bold">H3K4Me3</text>
<text x="679.2" y="1846.1" font-size="21" text-anchor="middle">shCtrl</text>
<text x="806.0" y="1846.1" font-size="21" text-anchor="middle">shStau2</text>
<rect x="620.20" y="1855.20" width="116.40" height="106.40" fill="none" stroke="#444" stroke-width="1.6"/>
<line x1="620.2" y1="1961.6" x2="620.2" y2="1965.6" stroke="#555" stroke-width="1.2" stroke-linecap="butt"/>
<line x1="678.4" y1="1961.6" x2="678.4" y2="1965.6" stroke="#555" stroke-width="1.2" stroke-linecap="butt"/>
<line x1="736.6" y1="1961.6" x2="736.6" y2="1965.6" stroke="#555" stroke-width="1.2" stroke-linecap="butt"/>
<text x="619.7" y="1977.6" font-size="12.5" fill="#222">-3.0</text>
<text x="677.4" y="1977.6" font-size="12.5" text-anchor="middle" fill="#222">TSS</text>
<text x="740.6" y="1977.6" font-size="12.5" text-anchor="end" fill="#222">3.0Kb</text>
<line x1="616.2" y1="1884.3" x2="620.2" y2="1884.3" stroke="#555" stroke-width="1.2" stroke-linecap="butt"/>
<line x1="616.2" y1="1917.8" x2="620.2" y2="1917.8" stroke="#555" stroke-width="1.2" stroke-linecap="butt"/>
<line x1="616.2" y1="1951.3" x2="620.2" y2="1951.3" stroke="#555" stroke-width="1.2" stroke-linecap="butt"/>
<rect x="745.70" y="1853.30" width="116.50" height="108.30" fill="none" stroke="#444" stroke-width="1.6"/>
<line x1="745.7" y1="1961.6" x2="745.7" y2="1965.6" stroke="#555" stroke-width="1.2" stroke-linecap="butt"/>
<line x1="804.0" y1="1961.6" x2="804.0" y2="1965.6" stroke="#555" stroke-width="1.2" stroke-linecap="butt"/>
<line x1="862.2" y1="1961.6" x2="862.2" y2="1965.6" stroke="#555" stroke-width="1.2" stroke-linecap="butt"/>
<text x="745.2" y="1977.6" font-size="12.5" fill="#222">-3.0</text>
<text x="803.0" y="1977.6" font-size="12.5" text-anchor="middle" fill="#222">TSS</text>
<text x="866.2" y="1977.6" font-size="12.5" text-anchor="end" fill="#222">3.0Kb</text>
<line x1="741.7" y1="1884.3" x2="745.7" y2="1884.3" stroke="#555" stroke-width="1.2" stroke-linecap="butt"/>
<line x1="741.7" y1="1917.8" x2="745.7" y2="1917.8" stroke="#555" stroke-width="1.2" stroke-linecap="butt"/>
<line x1="741.7" y1="1951.3" x2="745.7" y2="1951.3" stroke="#555" stroke-width="1.2" stroke-linecap="butt"/>
<text x="614.0" y="1886.9" font-size="12" text-anchor="end" fill="#222">30</text>
<text x="614.0" y="1915.5" font-size="12" text-anchor="end" fill="#222">20</text>
<text x="614.0" y="1944.1" font-size="12" text-anchor="end" fill="#222">10</text>
<path d="M620.6,1951.3 C622.6,1951.0 628.5,1949.7 632.6,1949.4 C636.7,1949.1 641.8,1949.7 645.0,1949.6 C648.2,1949.5 649.0,1950.2 651.7,1948.9 C654.4,1947.6 658.3,1944.6 661.3,1941.7 C664.3,1938.8 667.6,1932.9 669.7,1931.7 C671.8,1930.5 672.5,1932.6 673.7,1934.6 C674.9,1936.6 675.8,1946.4 676.8,1943.6 C677.8,1940.8 678.9,1923.6 680.0,1917.8 C681.1,1912.0 681.6,1907.9 683.3,1908.7 C685.0,1909.5 687.7,1917.7 690.0,1922.6 C692.3,1927.5 694.0,1933.9 697.2,1938.1 C700.4,1942.3 704.7,1945.4 709.1,1947.7 C713.5,1950.0 719.1,1951.1 723.5,1952.0 C727.9,1952.9 733.4,1953.0 735.4,1953.2" fill="none" stroke="#20287f" stroke-width="1.8" stroke-linejoin="round"/>
<path d="M746.2,1954.9 C748.2,1954.6 754.2,1953.6 758.0,1953.0 C761.8,1952.4 764.7,1953.2 768.9,1951.3 C773.1,1949.4 779.3,1946.5 783.3,1941.7 C787.3,1936.9 790.3,1928.4 792.8,1922.6 C795.3,1916.8 796.5,1907.1 798.1,1907.1 C799.7,1907.1 801.1,1924.8 802.4,1922.6 C803.7,1920.4 804.9,1904.7 806.0,1893.9 C807.1,1883.1 807.9,1862.4 809.1,1858.0 C810.3,1853.6 811.4,1860.8 813.1,1867.6 C814.8,1874.4 816.9,1888.7 819.1,1898.7 C821.3,1908.7 823.5,1919.8 826.3,1927.4 C829.1,1935.0 832.3,1939.9 835.9,1944.1 C839.5,1948.3 843.6,1950.3 847.8,1952.5 C852.0,1954.7 858.8,1956.5 861.0,1957.3" fill="none" stroke="#20287f" stroke-width="1.8" stroke-linejoin="round"/>
<line x1="753.4" y1="1865.2" x2="771.3" y2="1865.2" stroke="#20287f" stroke-width="1.8" stroke-linecap="butt"/>
<text x="778.5" y="1868.8" font-size="8.3" fill="#555">genes</text>
<defs><linearGradient id="g93"><stop offset="0.000" stop-color="#2594d6"/><stop offset="0.100" stop-color="#2592d6"/><stop offset="0.200" stop-color="#249ad4"/><stop offset="0.275" stop-color="#2aa3c3"/><stop offset="0.325" stop-color="#48c078"/><stop offset="0.365" stop-color="#94d880"/><stop offset="0.400" stop-color="#aee280"/><stop offset="0.430" stop-color="#c4e980"/><stop offset="0.455" stop-color="#d0ed80"/><stop offset="0.475" stop-color="#c1e880"/><stop offset="0.487" stop-color="#95d980"/><stop offset="0.500" stop-color="#38ba85"/><stop offset="0.512" stop-color="#c4e980"/><stop offset="0.525" stop-color="#eee779"/><stop offset="0.545" stop-color="#dfcf70"/><stop offset="0.570" stop-color="#cdb866"/><stop offset="0.600" stop-color="#d0bd68"/><stop offset="0.635" stop-color="#ddcc6e"/><stop offset="0.675" stop-color="#b3e380"/><stop offset="0.725" stop-color="#33b591"/><stop offset="0.800" stop-color="#2aa3c1"/><stop offset="0.900" stop-color="#249ad4"/><stop offset="1.000" stop-color="#2592d6"/></linearGradient><linearGradient id="g94"><stop offset="0.000" stop-color="#2593d6"/><stop offset="0.100" stop-color="#2595d5"/><stop offset="0.200" stop-color="#249bd4"/><stop offset="0.275" stop-color="#2aa3c3"/><stop offset="0.325" stop-color="#4fc375"/><stop offset="0.365" stop-color="#9ada80"/><stop offset="0.400" stop-color="#b6e580"/><stop offset="0.430" stop-color="#c5e980"/><stop offset="0.455" stop-color="#daef80"/><stop offset="0.475" stop-color="#caeb80"/><stop offset="0.487" stop-color="#a2dd80"/><stop offset="0.500" stop-color="#3fbd7f"/><stop offset="0.512" stop-color="#cfec80"/><stop offset="0.525" stop-color="#e8dd75"/><stop offset="0.545" stop-color="#cbb666"/><stop offset="0.570" stop-color="#bda45f"/><stop offset="0.600" stop-color="#c5af63"/><stop offset="0.635" stop-color="#e4d773"/><stop offset="0.675" stop-color="#b5e480"/><stop offset="0.725" stop-color="#33b592"/><stop offset="0.800" stop-color="#2ca5bd"/><stop offset="0.900" stop-color="#249cd4"/><stop offset="1.000" stop-color="#2595d6"/></linearGradient><linearGradient id="g95"><stop offset="0.000" stop-color="#2593d6"/><stop offset="0.100" stop-color="#2595d6"/><stop offset="0.200" stop-color="#2499d5"/><stop offset="0.275" stop-color="#29a2c5"/><stop offset="0.325" stop-color="#47c078"/><stop offset="0.365" stop-color="#8bd580"/><stop offset="0.400" stop-color="#a2dd80"/><stop offset="0.430" stop-color="#b1e380"/><stop offset="0.455" stop-color="#c4e980"/><stop offset="0.475" stop-color="#a6df80"/><stop offset="0.487" stop-color="#97da80"/><stop offset="0.500" stop-color="#39ba83"/><stop offset="0.512" stop-color="#b0e280"/><stop offset="0.525" stop-color="#f8f880"/><stop offset="0.545" stop-color="#ddcc6e"/><stop offset="0.570" stop-color="#decd6f"/><stop offset="0.600" stop-color="#dccb6e"/><stop offset="0.635" stop-color="#ede679"/><stop offset="0.675" stop-color="#97d980"/><stop offset="0.725" stop-color="#32b29a"/><stop offset="0.800" stop-color="#2aa3c1"/><stop offset="0.900" stop-color="#2596d5"/><stop offset="1.000" stop-color="#2595d6"/></linearGradient><linearGradient id="g96"><stop offset="0.000" stop-color="#2594d6"/><stop offset="0.100" stop-color="#2597d5"/><stop offset="0.200" stop-color="#2498d5"/><stop offset="0.275" stop-color="#28a1c7"/><stop offset="0.325" stop-color="#44bf7b"/><stop offset="0.365" stop-color="#8ad580"/><stop offset="0.400" stop-color="#a4de80"/><stop offset="0.430" stop-color="#aee180"/><stop offset="0.455" stop-color="#c5ea80"/><stop offset="0.475" stop-color="#a9e080"/><stop offset="0.487" stop-color="#8cd680"/><stop offset="0.500" stop-color="#3cbb81"/><stop offset="0.512" stop-color="#aee280"/><stop offset="0.525" stop-color="#f5f27e"/><stop offset="0.545" stop-color="#e3d572"/><stop offset="0.570" stop-color="#d3bf69"/><stop offset="0.600" stop-color="#dbca6e"/><stop offset="0.635" stop-color="#e9de76"/><stop offset="0.675" stop-color="#9bdb80"/><stop offset="0.725" stop-color="#33b395"/><stop offset="0.800" stop-color="#2ba4bf"/><stop offset="0.900" stop-color="#249ad5"/><stop offset="1.000" stop-color="#2596d5"/></linearGradient><linearGradient id="g97"><stop offset="0.000" stop-color="#2591d6"/><stop offset="0.100" stop-color="#2590d7"/><stop offset="0.200" stop-color="#2595d6"/><stop offset="0.275" stop-color="#269ece"/><stop offset="0.325" stop-color="#35b887"/><stop offset="0.365" stop-color="#63c979"/><stop offset="0.400" stop-color="#82d27f"/><stop offset="0.430" stop-color="#96d980"/><stop offset="0.455" stop-color="#9edc80"/><stop offset="0.475" stop-color="#8ed680"/><stop offset="0.487" stop-color="#7cd07e"/><stop offset="0.500" stop-color="#33b68d"/><stop offset="0.512" stop-color="#a0dd80"/><stop offset="0.525" stop-color="#d5ee80"/><stop offset="0.545" stop-color="#f3f07d"/><stop offset="0.570" stop-color="#ece478"/><stop offset="0.600" stop-color="#e9df76"/><stop offset="0.635" stop-color="#f7f67f"/><stop offset="0.675" stop-color="#87d480"/><stop offset="0.725" stop-color="#32b09e"/><stop offset="0.800" stop-color="#28a0c9"/><stop offset="0.900" stop-color="#2596d5"/><stop offset="1.000" stop-color="#2590d7"/></linearGradient><linearGradient id="g98"><stop offset="0.000" stop-color="#2594d6"/><stop offset="0.100" stop-color="#2595d6"/><stop offset="0.200" stop-color="#249ad5"/><stop offset="0.275" stop-color="#27a0ca"/><stop offset="0.325" stop-color="#39ba84"/><stop offset="0.365" stop-color="#64c979"/><stop offset="0.400" stop-color="#81d27f"/><stop offset="0.430" stop-color="#a0dd80"/><stop offset="0.455" stop-color="#97d980"/><stop offset="0.475" stop-color="#8ed680"/><stop offset="0.487" stop-color="#7fd17e"/><stop offset="0.500" stop-color="#35b887"/><stop offset="0.512" stop-color="#9ada80"/><stop offset="0.525" stop-color="#d9ef80"/><stop offset="0.545" stop-color="#f3f07d"/><stop offset="0.570" stop-color="#e8de76"/><stop offset="0.600" stop-color="#e5d974"/><stop offset="0.635" stop-color="#f3ef7c"/><stop offset="0.675" stop-color="#7bd07d"/><stop offset="0.725" stop-color="#32b299"/><stop offset="0.800" stop-color="#2aa3c1"/><stop offset="0.900" stop-color="#249ad4"/><stop offset="1.000" stop-color="#2594d6"/></linearGradient><linearGradient id="g99"><stop offset="0.000" stop-color="#268ed7"/><stop offset="0.100" stop-color="#2591d6"/><stop offset="0.200" stop-color="#2593d6"/><stop offset="0.275" stop-color="#249bd4"/><stop offset="0.325" stop-color="#33b493"/><stop offset="0.365" stop-color="#4ac176"/><stop offset="0.400" stop-color="#61c878"/><stop offset="0.430" stop-color="#70cd7b"/><stop offset="0.455" stop-color="#7fd17e"/><stop offset="0.475" stop-color="#73ce7c"/><stop offset="0.487" stop-color="#5fc878"/><stop offset="0.500" stop-color="#33b591"/><stop offset="0.512" stop-color="#73ce7c"/><stop offset="0.525" stop-color="#a6df80"/><stop offset="0.545" stop-color="#d4ee80"/><stop offset="0.570" stop-color="#f6f780"/><stop offset="0.600" stop-color="#def180"/><stop offset="0.635" stop-color="#c3e980"/><stop offset="0.675" stop-color="#5fc878"/><stop offset="0.725" stop-color="#30abae"/><stop offset="0.800" stop-color="#269ecf"/><stop offset="0.900" stop-color="#2594d6"/><stop offset="1.000" stop-color="#2590d7"/></linearGradient><linearGradient id="g100"><stop offset="0.000" stop-color="#2591d6"/><stop offset="0.100" stop-color="#2594d6"/><stop offset="0.200" stop-color="#2595d6"/><stop offset="0.275" stop-color="#259dd1"/><stop offset="0.325" stop-color="#32b19c"/><stop offset="0.365" stop-color="#49c176"/><stop offset="0.400" stop-color="#55c576"/><stop offset="0.430" stop-color="#74ce7c"/><stop offset="0.455" stop-color="#78cf7d"/><stop offset="0.475" stop-color="#6acb7a"/><stop offset="0.487" stop-color="#63c979"/><stop offset="0.500" stop-color="#33b68e"/><stop offset="0.512" stop-color="#74ce7c"/><stop offset="0.525" stop-color="#a9e080"/><stop offset="0.545" stop-color="#e5f380"/><stop offset="0.570" stop-color="#eaf480"/><stop offset="0.600" stop-color="#e4f280"/><stop offset="0.635" stop-color="#c3e980"/><stop offset="0.675" stop-color="#55c576"/><stop offset="0.725" stop-color="#30aaaf"/><stop offset="0.800" stop-color="#269fcd"/><stop offset="0.900" stop-color="#2594d6"/><stop offset="1.000" stop-color="#2592d6"/></linearGradient><linearGradient id="g101"><stop offset="0.000" stop-color="#268ed7"/><stop offset="0.100" stop-color="#268cd8"/><stop offset="0.200" stop-color="#2590d7"/><stop offset="0.275" stop-color="#2596d5"/><stop offset="0.325" stop-color="#31acab"/><stop offset="0.365" stop-color="#35b987"/><stop offset="0.400" stop-color="#40bd7e"/><stop offset="0.430" stop-color="#52c475"/><stop offset="0.455" stop-color="#50c375"/><stop offset="0.475" stop-color="#58c676"/><stop offset="0.487" stop-color="#44bf7a"/><stop offset="0.500" stop-color="#31aea5"/><stop offset="0.512" stop-color="#5dc777"/><stop offset="0.525" stop-color="#8dd680"/><stop offset="0.545" stop-color="#b7e580"/><stop offset="0.570" stop-color="#b5e480"/><stop offset="0.600" stop-color="#ace180"/><stop offset="0.635" stop-color="#a4de80"/><stop offset="0.675" stop-color="#43be7c"/><stop offset="0.725" stop-color="#2da7b8"/><stop offset="0.800" stop-color="#249bd4"/><stop offset="0.900" stop-color="#2591d6"/><stop offset="1.000" stop-color="#268ed7"/></linearGradient><linearGradient id="g102"><stop offset="0.000" stop-color="#268ed7"/><stop offset="0.100" stop-color="#2590d7"/><stop offset="0.200" stop-color="#2591d6"/><stop offset="0.275" stop-color="#249ad5"/><stop offset="0.325" stop-color="#30abad"/><stop offset="0.365" stop-color="#34b68d"/><stop offset="0.400" stop-color="#3fbd7f"/><stop offset="0.430" stop-color="#4cc274"/><stop offset="0.455" stop-color="#4ec374"/><stop offset="0.475" stop-color="#4ec374"/><stop offset="0.487" stop-color="#43be7b"/><stop offset="0.500" stop-color="#32b0a0"/><stop offset="0.512" stop-color="#5fc878"/><stop offset="0.525" stop-color="#8ed680"/><stop offset="0.545" stop-color="#ace180"/><stop offset="0.570" stop-color="#bae680"/><stop offset="0.600" stop-color="#b7e580"/><stop offset="0.635" stop-color="#9edc80"/><stop offset="0.675" stop-color="#43be7b"/><stop offset="0.725" stop-color="#2ca5bc"/><stop offset="0.800" stop-color="#249bd4"/><stop offset="0.900" stop-color="#2590d7"/><stop offset="1.000" stop-color="#2590d7"/></linearGradient><linearGradient id="g103"><stop offset="0.000" stop-color="#2687d7"/><stop offset="0.100" stop-color="#268ad8"/><stop offset="0.200" stop-color="#268bd8"/><stop offset="0.275" stop-color="#2591d6"/><stop offset="0.325" stop-color="#2ca5bc"/><stop offset="0.365" stop-color="#32b09e"/><stop offset="0.400" stop-color="#33b492"/><stop offset="0.430" stop-color="#3aba83"/><stop offset="0.455" stop-color="#40bd7e"/><stop offset="0.475" stop-color="#3cbb81"/><stop offset="0.487" stop-color="#35b887"/><stop offset="0.500" stop-color="#30abad"/><stop offset="0.512" stop-color="#46bf79"/><stop offset="0.525" stop-color="#65ca79"/><stop offset="0.545" stop-color="#81d27f"/><stop offset="0.570" stop-color="#91d780"/><stop offset="0.600" stop-color="#8ed680"/><stop offset="0.635" stop-color="#6acb7a"/><stop offset="0.675" stop-color="#33b68e"/><stop offset="0.725" stop-color="#29a2c5"/><stop offset="0.800" stop-color="#2596d5"/><stop offset="0.900" stop-color="#268dd7"/><stop offset="1.000" stop-color="#2688d7"/></linearGradient><linearGradient id="g104"><stop offset="0.000" stop-color="#2687d7"/><stop offset="0.100" stop-color="#2786d6"/><stop offset="0.200" stop-color="#2686d7"/><stop offset="0.275" stop-color="#268ed7"/><stop offset="0.325" stop-color="#28a1c7"/><stop offset="0.365" stop-color="#30aab0"/><stop offset="0.400" stop-color="#32b19b"/><stop offset="0.430" stop-color="#33b68e"/><stop offset="0.455" stop-color="#35b887"/><stop offset="0.475" stop-color="#34b889"/><stop offset="0.487" stop-color="#34b68c"/><stop offset="0.500" stop-color="#2da6ba"/><stop offset="0.512" stop-color="#38ba85"/><stop offset="0.525" stop-color="#4cc274"/><stop offset="0.545" stop-color="#6acb7a"/><stop offset="0.570" stop-color="#72cd7c"/><stop offset="0.600" stop-color="#76cf7c"/><stop offset="0.635" stop-color="#57c576"/><stop offset="0.675" stop-color="#33b395"/><stop offset="0.725" stop-color="#279fcb"/><stop offset="0.800" stop-color="#2592d6"/><stop offset="0.900" stop-color="#268ad8"/><stop offset="1.000" stop-color="#2786d6"/></linearGradient><linearGradient id="g105"><stop offset="0.000" stop-color="#277fd4"/><stop offset="0.100" stop-color="#287dd3"/><stop offset="0.200" stop-color="#277ed4"/><stop offset="0.275" stop-color="#2785d6"/><stop offset="0.325" stop-color="#249bd4"/><stop offset="0.365" stop-color="#2ca5bc"/><stop offset="0.400" stop-color="#30aaaf"/><stop offset="0.430" stop-color="#31ada6"/><stop offset="0.455" stop-color="#32b0a0"/><stop offset="0.475" stop-color="#32b0a0"/><stop offset="0.487" stop-color="#31aea5"/><stop offset="0.500" stop-color="#2aa3c2"/><stop offset="0.512" stop-color="#33b590"/><stop offset="0.525" stop-color="#3cbb81"/><stop offset="0.545" stop-color="#4cc274"/><stop offset="0.570" stop-color="#57c576"/><stop offset="0.600" stop-color="#4bc275"/><stop offset="0.635" stop-color="#41be7d"/><stop offset="0.675" stop-color="#30abae"/><stop offset="0.725" stop-color="#249ad4"/><stop offset="0.800" stop-color="#268bd8"/><stop offset="0.900" stop-color="#2780d4"/><stop offset="1.000" stop-color="#2781d5"/></linearGradient><linearGradient id="g106"><stop offset="0.000" stop-color="#2782d5"/><stop offset="0.100" stop-color="#2783d5"/><stop offset="0.200" stop-color="#2687d7"/><stop offset="0.275" stop-color="#2689d7"/><stop offset="0.325" stop-color="#249cd3"/><stop offset="0.365" stop-color="#2ba4bf"/><stop offset="0.400" stop-color="#2fa9b4"/><stop offset="0.430" stop-color="#31afa1"/><stop offset="0.455" stop-color="#33b397"/><stop offset="0.475" stop-color="#32b19b"/><stop offset="0.487" stop-color="#31afa3"/><stop offset="0.500" stop-color="#2ba4c0"/><stop offset="0.512" stop-color="#33b590"/><stop offset="0.525" stop-color="#3abb83"/><stop offset="0.545" stop-color="#4cc274"/><stop offset="0.570" stop-color="#50c375"/><stop offset="0.600" stop-color="#52c475"/><stop offset="0.635" stop-color="#44bf7b"/><stop offset="0.675" stop-color="#31acab"/><stop offset="0.725" stop-color="#259dd2"/><stop offset="0.800" stop-color="#268cd8"/><stop offset="0.900" stop-color="#2687d7"/><stop offset="1.000" stop-color="#2786d6"/></linearGradient><linearGradient id="g107"><stop offset="0.000" stop-color="#287dd3"/><stop offset="0.100" stop-color="#287dd3"/><stop offset="0.200" stop-color="#2780d4"/><stop offset="0.275" stop-color="#2784d6"/><stop offset="0.325" stop-color="#2595d6"/><stop offset="0.365" stop-color="#269ecf"/><stop offset="0.400" stop-color="#2aa3c2"/><stop offset="0.430" stop-color="#2ea8b6"/><stop offset="0.455" stop-color="#2fa9b3"/><stop offset="0.475" stop-color="#30abae"/><stop offset="0.487" stop-color="#2fa8b4"/><stop offset="0.500" stop-color="#28a0c9"/><stop offset="0.512" stop-color="#31aea5"/><stop offset="0.525" stop-color="#33b494"/><stop offset="0.545" stop-color="#3abb83"/><stop offset="0.570" stop-color="#43be7c"/><stop offset="0.600" stop-color="#3aba83"/><stop offset="0.635" stop-color="#34b78a"/><stop offset="0.675" stop-color="#2ba4bf"/><stop offset="0.725" stop-color="#2594d6"/><stop offset="0.800" stop-color="#2688d7"/><stop offset="0.900" stop-color="#287dd3"/><stop offset="1.000" stop-color="#277fd4"/></linearGradient><linearGradient id="g108"><stop offset="0.000" stop-color="#2879d1"/><stop offset="0.100" stop-color="#2878d1"/><stop offset="0.200" stop-color="#2878d1"/><stop offset="0.275" stop-color="#277fd4"/><stop offset="0.325" stop-color="#268dd7"/><stop offset="0.365" stop-color="#249ad4"/><stop offset="0.400" stop-color="#279fcb"/><stop offset="0.430" stop-color="#29a2c5"/><stop offset="0.455" stop-color="#2ca6bb"/><stop offset="0.475" stop-color="#2ca6bb"/><stop offset="0.487" stop-color="#2ca6bb"/><stop offset="0.500" stop-color="#269ecf"/><stop offset="0.512" stop-color="#2ea8b6"/><stop offset="0.525" stop-color="#32b19d"/><stop offset="0.545" stop-color="#33b590"/><stop offset="0.570" stop-color="#34b889"/><stop offset="0.600" stop-color="#34b68d"/><stop offset="0.635" stop-color="#32b29a"/><stop offset="0.675" stop-color="#28a1c7"/><stop offset="0.725" stop-color="#2591d6"/><stop offset="0.800" stop-color="#277fd4"/><stop offset="0.900" stop-color="#287bd2"/><stop offset="1.000" stop-color="#2876d1"/></linearGradient><linearGradient id="g109"><stop offset="0.000" stop-color="#2879d1"/><stop offset="0.100" stop-color="#2879d2"/><stop offset="0.200" stop-color="#287dd3"/><stop offset="0.275" stop-color="#287ed3"/><stop offset="0.325" stop-color="#2590d7"/><stop offset="0.365" stop-color="#2499d5"/><stop offset="0.400" stop-color="#269ecf"/><stop offset="0.430" stop-color="#29a2c4"/><stop offset="0.455" stop-color="#2ca5bd"/><stop offset="0.475" stop-color="#2ca5bc"/><stop offset="0.487" stop-color="#2ba4c0"/><stop offset="0.500" stop-color="#269ecf"/><stop offset="0.512" stop-color="#2fa8b4"/><stop offset="0.525" stop-color="#31ada7"/><stop offset="0.545" stop-color="#33b495"/><stop offset="0.570" stop-color="#34b78c"/><stop offset="0.600" stop-color="#33b68e"/><stop offset="0.635" stop-color="#31aea4"/><stop offset="0.675" stop-color="#28a1c7"/><stop offset="0.725" stop-color="#2591d7"/><stop offset="0.800" stop-color="#2782d5"/><stop offset="0.900" stop-color="#2879d2"/><stop offset="1.000" stop-color="#2879d2"/></linearGradient><linearGradient id="g110"><stop offset="0.000" stop-color="#287cd3"/><stop offset="0.100" stop-color="#287ad2"/><stop offset="0.200" stop-color="#287dd3"/><stop offset="0.275" stop-color="#277fd4"/><stop offset="0.325" stop-color="#268ed7"/><stop offset="0.365" stop-color="#2595d6"/><stop offset="0.400" stop-color="#259dd2"/><stop offset="0.430" stop-color="#27a0ca"/><stop offset="0.455" stop-color="#2ba4c0"/><stop offset="0.475" stop-color="#2ca6bb"/><stop offset="0.487" stop-color="#2ba5be"/><stop offset="0.500" stop-color="#259dd1"/><stop offset="0.512" stop-color="#2da7b8"/><stop offset="0.525" stop-color="#31aea5"/><stop offset="0.545" stop-color="#33b495"/><stop offset="0.570" stop-color="#33b592"/><stop offset="0.600" stop-color="#32b19b"/><stop offset="0.635" stop-color="#31aea6"/><stop offset="0.675" stop-color="#279fcb"/><stop offset="0.725" stop-color="#2590d7"/><stop offset="0.800" stop-color="#2780d4"/><stop offset="0.900" stop-color="#287dd3"/><stop offset="1.000" stop-color="#287dd3"/></linearGradient><linearGradient id="g111"><stop offset="0.000" stop-color="#2973cf"/><stop offset="0.100" stop-color="#2976d0"/><stop offset="0.200" stop-color="#2974d0"/><stop offset="0.275" stop-color="#2877d1"/><stop offset="0.325" stop-color="#2782d5"/><stop offset="0.365" stop-color="#268bd8"/><stop offset="0.400" stop-color="#2594d6"/><stop offset="0.430" stop-color="#249bd4"/><stop offset="0.455" stop-color="#259dd1"/><stop offset="0.475" stop-color="#269fcd"/><stop offset="0.487" stop-color="#269fcd"/><stop offset="0.500" stop-color="#2595d6"/><stop offset="0.512" stop-color="#28a0c9"/><stop offset="0.525" stop-color="#2ba5be"/><stop offset="0.545" stop-color="#30aab0"/><stop offset="0.570" stop-color="#31ada7"/><stop offset="0.600" stop-color="#2fa9b2"/><stop offset="0.635" stop-color="#2ca6bb"/><stop offset="0.675" stop-color="#2596d5"/><stop offset="0.725" stop-color="#2785d6"/><stop offset="0.800" stop-color="#2878d1"/><stop offset="0.900" stop-color="#2975d0"/><stop offset="1.000" stop-color="#2975d0"/></linearGradient><linearGradient id="g112"><stop offset="0.000" stop-color="#2976d0"/><stop offset="0.100" stop-color="#2974d0"/><stop offset="0.200" stop-color="#2974d0"/><stop offset="0.275" stop-color="#2877d1"/><stop offset="0.325" stop-color="#2780d4"/><stop offset="0.365" stop-color="#268bd8"/><stop offset="0.400" stop-color="#2591d7"/><stop offset="0.430" stop-color="#249ad4"/><stop offset="0.455" stop-color="#259dd2"/><stop offset="0.475" stop-color="#269fcd"/><stop offset="0.487" stop-color="#269ecf"/><stop offset="0.500" stop-color="#2595d6"/><stop offset="0.512" stop-color="#28a1c7"/><stop offset="0.525" stop-color="#2ba4bf"/><stop offset="0.545" stop-color="#2ea8b6"/><stop offset="0.570" stop-color="#30abae"/><stop offset="0.600" stop-color="#2ea8b6"/><stop offset="0.635" stop-color="#2ba4bf"/><stop offset="0.675" stop-color="#2597d5"/><stop offset="0.725" stop-color="#2686d7"/><stop offset="0.800" stop-color="#2878d1"/><stop offset="0.900" stop-color="#2975d0"/><stop offset="1.000" stop-color="#2877d1"/></linearGradient><linearGradient id="g113"><stop offset="0.000" stop-color="#2976d0"/><stop offset="0.100" stop-color="#2972cf"/><stop offset="0.200" stop-color="#2972cf"/><stop offset="0.275" stop-color="#2877d1"/><stop offset="0.325" stop-color="#2780d4"/><stop offset="0.365" stop-color="#2689d8"/><stop offset="0.400" stop-color="#268dd7"/><stop offset="0.430" stop-color="#2596d5"/><stop offset="0.455" stop-color="#2597d5"/><stop offset="0.475" stop-color="#249bd4"/><stop offset="0.487" stop-color="#249ad4"/><stop offset="0.500" stop-color="#2592d6"/><stop offset="0.512" stop-color="#259dd0"/><stop offset="0.525" stop-color="#28a0c9"/><stop offset="0.545" stop-color="#2ba5be"/><stop offset="0.570" stop-color="#2da7b8"/><stop offset="0.600" stop-color="#2da6b9"/><stop offset="0.635" stop-color="#28a1c8"/><stop offset="0.675" stop-color="#2592d6"/><stop offset="0.725" stop-color="#2780d4"/><stop offset="0.800" stop-color="#2878d1"/><stop offset="0.900" stop-color="#2975d0"/><stop offset="1.000" stop-color="#2973cf"/></linearGradient><linearGradient id="g114"><stop offset="0.000" stop-color="#2973cf"/><stop offset="0.100" stop-color="#2973cf"/><stop offset="0.200" stop-color="#2975d0"/><stop offset="0.275" stop-color="#2877d1"/><stop offset="0.325" stop-color="#287dd3"/><stop offset="0.365" stop-color="#2783d5"/><stop offset="0.400" stop-color="#268ed7"/><stop offset="0.430" stop-color="#2591d7"/><stop offset="0.455" stop-color="#2596d5"/><stop offset="0.475" stop-color="#249ad5"/><stop offset="0.487" stop-color="#2498d5"/><stop offset="0.500" stop-color="#2592d6"/><stop offset="0.512" stop-color="#249cd4"/><stop offset="0.525" stop-color="#279fcc"/><stop offset="0.545" stop-color="#2aa3c3"/><stop offset="0.570" stop-color="#2aa3c1"/><stop offset="0.600" stop-color="#29a2c5"/><stop offset="0.635" stop-color="#27a0ca"/><stop offset="0.675" stop-color="#268ed7"/><stop offset="0.725" stop-color="#2782d5"/><stop offset="0.800" stop-color="#2976d0"/><stop offset="0.900" stop-color="#2973cf"/><stop offset="1.000" stop-color="#2973cf"/></linearGradient><linearGradient id="g115"><stop offset="0.000" stop-color="#296fce"/><stop offset="0.100" stop-color="#2a6ecd"/><stop offset="0.200" stop-color="#2a6ccd"/><stop offset="0.275" stop-color="#296fce"/><stop offset="0.325" stop-color="#2975d0"/><stop offset="0.365" stop-color="#2879d1"/><stop offset="0.400" stop-color="#2782d5"/><stop offset="0.430" stop-color="#2688d7"/><stop offset="0.455" stop-color="#258fd7"/><stop offset="0.475" stop-color="#2591d7"/><stop offset="0.487" stop-color="#268ed7"/><stop offset="0.500" stop-color="#2688d7"/><stop offset="0.512" stop-color="#2594d6"/><stop offset="0.525" stop-color="#2499d5"/><stop offset="0.545" stop-color="#259dd1"/><stop offset="0.570" stop-color="#259dd0"/><stop offset="0.600" stop-color="#269ece"/><stop offset="0.635" stop-color="#249ad4"/><stop offset="0.675" stop-color="#2784d6"/><stop offset="0.725" stop-color="#2878d1"/><stop offset="0.800" stop-color="#296fce"/><stop offset="0.900" stop-color="#296fce"/><stop offset="1.000" stop-color="#2a6ecd"/></linearGradient><linearGradient id="g116"><stop offset="0.000" stop-color="#2970ce"/><stop offset="0.100" stop-color="#2971ce"/><stop offset="0.200" stop-color="#296fce"/><stop offset="0.275" stop-color="#2970ce"/><stop offset="0.325" stop-color="#2975d0"/><stop offset="0.365" stop-color="#2878d1"/><stop offset="0.400" stop-color="#277fd4"/><stop offset="0.430" stop-color="#2786d6"/><stop offset="0.455" stop-color="#268cd8"/><stop offset="0.475" stop-color="#268ed7"/><stop offset="0.487" stop-color="#2590d7"/><stop offset="0.500" stop-color="#268ad8"/><stop offset="0.512" stop-color="#2591d7"/><stop offset="0.525" stop-color="#2596d5"/><stop offset="0.545" stop-color="#259dd1"/><stop offset="0.570" stop-color="#259dd1"/><stop offset="0.600" stop-color="#249cd3"/><stop offset="0.635" stop-color="#2597d5"/><stop offset="0.675" stop-color="#2784d6"/><stop offset="0.725" stop-color="#2878d1"/><stop offset="0.800" stop-color="#2972cf"/><stop offset="0.900" stop-color="#2a6dcd"/><stop offset="1.000" stop-color="#2a6ecd"/></linearGradient><linearGradient id="g117"><stop offset="0.000" stop-color="#2a6ccc"/><stop offset="0.100" stop-color="#2a6ccd"/><stop offset="0.200" stop-color="#2a6bcc"/><stop offset="0.275" stop-color="#2a6ccd"/><stop offset="0.325" stop-color="#2972cf"/><stop offset="0.365" stop-color="#2975d0"/><stop offset="0.400" stop-color="#287cd3"/><stop offset="0.430" stop-color="#2782d5"/><stop offset="0.455" stop-color="#2688d7"/><stop offset="0.475" stop-color="#268ad8"/><stop offset="0.487" stop-color="#268ad8"/><stop offset="0.500" stop-color="#2686d7"/><stop offset="0.512" stop-color="#268cd7"/><stop offset="0.525" stop-color="#2592d6"/><stop offset="0.545" stop-color="#2596d5"/><stop offset="0.570" stop-color="#2498d5"/><stop offset="0.600" stop-color="#2597d5"/><stop offset="0.635" stop-color="#2590d7"/><stop offset="0.675" stop-color="#2780d4"/><stop offset="0.725" stop-color="#2975d0"/><stop offset="0.800" stop-color="#2a6ccc"/><stop offset="0.900" stop-color="#2a6acc"/><stop offset="1.000" stop-color="#2a6ccc"/></linearGradient><linearGradient id="g118"><stop offset="0.000" stop-color="#2a6ccc"/><stop offset="0.100" stop-color="#2a6dcd"/><stop offset="0.200" stop-color="#2a6ccc"/><stop offset="0.275" stop-color="#2a6dcd"/><stop offset="0.325" stop-color="#2a6dcd"/><stop offset="0.365" stop-color="#2974d0"/><stop offset="0.400" stop-color="#2976d0"/><stop offset="0.430" stop-color="#287cd2"/><stop offset="0.455" stop-color="#2783d5"/><stop offset="0.475" stop-color="#2689d8"/><stop offset="0.487" stop-color="#268ad8"/><stop offset="0.500" stop-color="#2781d4"/><stop offset="0.512" stop-color="#268dd7"/><stop offset="0.525" stop-color="#268dd7"/><stop offset="0.545" stop-color="#2591d7"/><stop offset="0.570" stop-color="#2593d6"/><stop offset="0.600" stop-color="#2594d6"/><stop offset="0.635" stop-color="#268bd8"/><stop offset="0.675" stop-color="#287ed3"/><stop offset="0.725" stop-color="#2973cf"/><stop offset="0.800" stop-color="#2a6ccd"/><stop offset="0.900" stop-color="#2a6acc"/><stop offset="1.000" stop-color="#2a6acc"/></linearGradient><linearGradient id="g119"><stop offset="0.000" stop-color="#2a6acc"/><stop offset="0.100" stop-color="#2a6bcc"/><stop offset="0.200" stop-color="#2a69cb"/><stop offset="0.275" stop-color="#2a69cb"/><stop offset="0.325" stop-color="#2a6dcd"/><stop offset="0.365" stop-color="#2971ce"/><stop offset="0.400" stop-color="#2974d0"/><stop offset="0.430" stop-color="#287ad2"/><stop offset="0.455" stop-color="#287dd3"/><stop offset="0.475" stop-color="#2785d6"/><stop offset="0.487" stop-color="#2783d5"/><stop offset="0.500" stop-color="#277fd4"/><stop offset="0.512" stop-color="#2689d8"/><stop offset="0.525" stop-color="#268cd8"/><stop offset="0.545" stop-color="#2591d6"/><stop offset="0.570" stop-color="#2591d6"/><stop offset="0.600" stop-color="#2590d7"/><stop offset="0.635" stop-color="#2687d7"/><stop offset="0.675" stop-color="#2877d1"/><stop offset="0.725" stop-color="#2971ce"/><stop offset="0.800" stop-color="#2a6bcc"/><stop offset="0.900" stop-color="#2a69cb"/><stop offset="1.000" stop-color="#2a69cc"/></linearGradient><linearGradient id="g120"><stop offset="0.000" stop-color="#2b61c8"/><stop offset="0.100" stop-color="#2b62c9"/><stop offset="0.200" stop-color="#2b61c8"/><stop offset="0.275" stop-color="#2b61c8"/><stop offset="0.325" stop-color="#2b65ca"/><stop offset="0.365" stop-color="#2b66ca"/><stop offset="0.400" stop-color="#2a6bcc"/><stop offset="0.430" stop-color="#2a6ecd"/><stop offset="0.455" stop-color="#2972cf"/><stop offset="0.475" stop-color="#2974cf"/><stop offset="0.487" stop-color="#2975d0"/><stop offset="0.500" stop-color="#2976d0"/><stop offset="0.512" stop-color="#2879d2"/><stop offset="0.525" stop-color="#287ad2"/><stop offset="0.545" stop-color="#2781d5"/><stop offset="0.570" stop-color="#2783d6"/><stop offset="0.600" stop-color="#287ed3"/><stop offset="0.635" stop-color="#2877d1"/><stop offset="0.675" stop-color="#2a6ecd"/><stop offset="0.725" stop-color="#2b65ca"/><stop offset="0.800" stop-color="#2b64c9"/><stop offset="0.900" stop-color="#2b63c9"/><stop offset="1.000" stop-color="#2b61c8"/></linearGradient><linearGradient id="g121"><stop offset="0.000" stop-color="#2b60c8"/><stop offset="0.100" stop-color="#2c5ec7"/><stop offset="0.200" stop-color="#2b60c8"/><stop offset="0.275" stop-color="#2b61c8"/><stop offset="0.325" stop-color="#2b61c8"/><stop offset="0.365" stop-color="#2b63c9"/><stop offset="0.400" stop-color="#2b65ca"/><stop offset="0.430" stop-color="#2a6ccc"/><stop offset="0.455" stop-color="#296fce"/><stop offset="0.475" stop-color="#2971cf"/><stop offset="0.487" stop-color="#2972cf"/><stop offset="0.500" stop-color="#2972cf"/><stop offset="0.512" stop-color="#2972cf"/><stop offset="0.525" stop-color="#2975d0"/><stop offset="0.545" stop-color="#287bd2"/><stop offset="0.570" stop-color="#287bd2"/><stop offset="0.600" stop-color="#2878d1"/><stop offset="0.635" stop-color="#2973cf"/><stop offset="0.675" stop-color="#2a69cb"/><stop offset="0.725" stop-color="#2b64c9"/><stop offset="0.800" stop-color="#2b61c8"/><stop offset="0.900" stop-color="#2b61c8"/><stop offset="1.000" stop-color="#2b61c8"/></linearGradient><linearGradient id="g122"><stop offset="0.000" stop-color="#2b62c9"/><stop offset="0.100" stop-color="#2b64ca"/><stop offset="0.200" stop-color="#2b65ca"/><stop offset="0.275" stop-color="#2b62c9"/><stop offset="0.325" stop-color="#2b66ca"/><stop offset="0.365" stop-color="#2a68cb"/><stop offset="0.400" stop-color="#2a69cb"/><stop offset="0.430" stop-color="#2a6bcc"/><stop offset="0.455" stop-color="#2970ce"/><stop offset="0.475" stop-color="#2973cf"/><stop offset="0.487" stop-color="#2973cf"/><stop offset="0.500" stop-color="#2876d1"/><stop offset="0.512" stop-color="#2879d1"/><stop offset="0.525" stop-color="#287bd2"/><stop offset="0.545" stop-color="#287dd3"/><stop offset="0.570" stop-color="#2780d4"/><stop offset="0.600" stop-color="#287bd2"/><stop offset="0.635" stop-color="#2976d0"/><stop offset="0.675" stop-color="#2a6acc"/><stop offset="0.725" stop-color="#2a68cb"/><stop offset="0.800" stop-color="#2b63c9"/><stop offset="0.900" stop-color="#2b63c9"/><stop offset="1.000" stop-color="#2b65ca"/></linearGradient><linearGradient id="g123"><stop offset="0.000" stop-color="#2b62c9"/><stop offset="0.100" stop-color="#2b61c8"/><stop offset="0.200" stop-color="#2b62c9"/><stop offset="0.275" stop-color="#2b61c8"/><stop offset="0.325" stop-color="#2b64ca"/><stop offset="0.365" stop-color="#2b64c9"/><stop offset="0.400" stop-color="#2a68cb"/><stop offset="0.430" stop-color="#2a6acc"/><stop offset="0.455" stop-color="#2a6dcd"/><stop offset="0.475" stop-color="#2971ce"/><stop offset="0.487" stop-color="#2970ce"/><stop offset="0.500" stop-color="#2971ce"/><stop offset="0.512" stop-color="#2973cf"/><stop offset="0.525" stop-color="#2878d1"/><stop offset="0.545" stop-color="#2878d1"/><stop offset="0.570" stop-color="#2877d1"/><stop offset="0.600" stop-color="#2878d1"/><stop offset="0.635" stop-color="#2970ce"/><stop offset="0.675" stop-color="#2a68cb"/><stop offset="0.725" stop-color="#2b66ca"/><stop offset="0.800" stop-color="#2b63c9"/><stop offset="0.900" stop-color="#2b62c9"/><stop offset="1.000" stop-color="#2b61c8"/></linearGradient><linearGradient id="g124"><stop offset="0.000" stop-color="#2c5bc5"/><stop offset="0.100" stop-color="#2c5ac5"/><stop offset="0.200" stop-color="#2c5ac5"/><stop offset="0.275" stop-color="#2c5cc6"/><stop offset="0.325" stop-color="#2c5cc6"/><stop offset="0.365" stop-color="#2c5cc6"/><stop offset="0.400" stop-color="#2c5ec7"/><stop offset="0.430" stop-color="#2b62c9"/><stop offset="0.455" stop-color="#2b65ca"/><stop offset="0.475" stop-color="#2b66ca"/><stop offset="0.487" stop-color="#2b66ca"/><stop offset="0.500" stop-color="#2a67cb"/><stop offset="0.512" stop-color="#2a6acc"/><stop offset="0.525" stop-color="#2a6ccc"/><stop offset="0.545" stop-color="#296fce"/><stop offset="0.570" stop-color="#296fce"/><stop offset="0.600" stop-color="#2a6ccc"/><stop offset="0.635" stop-color="#2b66ca"/><stop offset="0.675" stop-color="#2b61c8"/><stop offset="0.725" stop-color="#2c5ec7"/><stop offset="0.800" stop-color="#2c5dc7"/><stop offset="0.900" stop-color="#2c5bc6"/><stop offset="1.000" stop-color="#2c5bc6"/></linearGradient><linearGradient id="g125"><stop offset="0.000" stop-color="#2b60c8"/><stop offset="0.100" stop-color="#2c5fc7"/><stop offset="0.200" stop-color="#2b61c8"/><stop offset="0.275" stop-color="#2c5fc7"/><stop offset="0.325" stop-color="#2b62c9"/><stop offset="0.365" stop-color="#2b62c9"/><stop offset="0.400" stop-color="#2b65ca"/><stop offset="0.430" stop-color="#2b66ca"/><stop offset="0.455" stop-color="#2a67cb"/><stop offset="0.475" stop-color="#2a69cb"/><stop offset="0.487" stop-color="#2a6acc"/><stop offset="0.500" stop-color="#2a6dcd"/><stop offset="0.512" stop-color="#296fce"/><stop offset="0.525" stop-color="#2970ce"/><stop offset="0.545" stop-color="#2970ce"/><stop offset="0.570" stop-color="#2974d0"/><stop offset="0.600" stop-color="#2a6fcd"/><stop offset="0.635" stop-color="#2a6ccc"/><stop offset="0.675" stop-color="#2b66ca"/><stop offset="0.725" stop-color="#2b62c9"/><stop offset="0.800" stop-color="#2b5fc8"/><stop offset="0.900" stop-color="#2b60c8"/><stop offset="1.000" stop-color="#2b60c8"/></linearGradient><linearGradient id="g126"><stop offset="0.000" stop-color="#2c5bc6"/><stop offset="0.100" stop-color="#2c5bc6"/><stop offset="0.200" stop-color="#2c5bc6"/><stop offset="0.275" stop-color="#2c5cc6"/><stop offset="0.325" stop-color="#2c5cc7"/><stop offset="0.365" stop-color="#2c5cc6"/><stop offset="0.400" stop-color="#2c5ec7"/><stop offset="0.430" stop-color="#2b60c8"/><stop offset="0.455" stop-color="#2b61c8"/><stop offset="0.475" stop-color="#2b63c9"/><stop offset="0.487" stop-color="#2b64c9"/><stop offset="0.500" stop-color="#2b65ca"/><stop offset="0.512" stop-color="#2a69cb"/><stop offset="0.525" stop-color="#2a6acc"/><stop offset="0.545" stop-color="#2a6acc"/><stop offset="0.570" stop-color="#2a6acc"/><stop offset="0.600" stop-color="#2a69cb"/><stop offset="0.635" stop-color="#2b66ca"/><stop offset="0.675" stop-color="#2c5fc7"/><stop offset="0.725" stop-color="#2c5ec7"/><stop offset="0.800" stop-color="#2c5bc5"/><stop offset="0.900" stop-color="#2c5cc6"/><stop offset="1.000" stop-color="#2c5bc6"/></linearGradient><linearGradient id="g127"><stop offset="0.000" stop-color="#2d59c4"/><stop offset="0.100" stop-color="#2c5ac5"/><stop offset="0.200" stop-color="#2d59c4"/><stop offset="0.275" stop-color="#2c5ac5"/><stop offset="0.325" stop-color="#2c5ac5"/><stop offset="0.365" stop-color="#2c5cc6"/><stop offset="0.400" stop-color="#2c5cc6"/><stop offset="0.430" stop-color="#2c5cc7"/><stop offset="0.455" stop-color="#2c5fc7"/><stop offset="0.475" stop-color="#2b62c9"/><stop offset="0.487" stop-color="#2b63c9"/><stop offset="0.500" stop-color="#2b63c9"/><stop offset="0.512" stop-color="#2b65ca"/><stop offset="0.525" stop-color="#2b64ca"/><stop offset="0.545" stop-color="#2b66ca"/><stop offset="0.570" stop-color="#2a68cb"/><stop offset="0.600" stop-color="#2b64c9"/><stop offset="0.635" stop-color="#2b62c9"/><stop offset="0.675" stop-color="#2c5dc7"/><stop offset="0.725" stop-color="#2c5bc6"/><stop offset="0.800" stop-color="#2c5ac5"/><stop offset="0.900" stop-color="#2c5bc6"/><stop offset="1.000" stop-color="#2c5ac5"/></linearGradient><linearGradient id="g128"><stop offset="0.000" stop-color="#2e56c0"/><stop offset="0.100" stop-color="#2e56bf"/><stop offset="0.200" stop-color="#2e56bf"/><stop offset="0.275" stop-color="#2f55be"/><stop offset="0.325" stop-color="#2e57c0"/><stop offset="0.365" stop-color="#2e57c0"/><stop offset="0.400" stop-color="#2e57c1"/><stop offset="0.430" stop-color="#2e57c1"/><stop offset="0.455" stop-color="#2d59c3"/><stop offset="0.475" stop-color="#2d5ac4"/><stop offset="0.487" stop-color="#2c5cc6"/><stop offset="0.500" stop-color="#2c5dc7"/><stop offset="0.512" stop-color="#2c5bc6"/><stop offset="0.525" stop-color="#2c5dc7"/><stop offset="0.545" stop-color="#2b5fc8"/><stop offset="0.570" stop-color="#2b5fc8"/><stop offset="0.600" stop-color="#2c5cc6"/><stop offset="0.635" stop-color="#2c5bc6"/><stop offset="0.675" stop-color="#2d58c1"/><stop offset="0.725" stop-color="#2e57c0"/><stop offset="0.800" stop-color="#2f55be"/><stop offset="0.900" stop-color="#2e57c0"/><stop offset="1.000" stop-color="#2e56c0"/></linearGradient><linearGradient id="g129"><stop offset="0.000" stop-color="#2f54bd"/><stop offset="0.100" stop-color="#2f55bd"/><stop offset="0.200" stop-color="#2f54bd"/><stop offset="0.275" stop-color="#2f55be"/><stop offset="0.325" stop-color="#2f55be"/><stop offset="0.365" stop-color="#2f54bd"/><stop offset="0.400" stop-color="#2e56bf"/><stop offset="0.430" stop-color="#2e56bf"/><stop offset="0.455" stop-color="#2d58c1"/><stop offset="0.475" stop-color="#2d59c3"/><stop offset="0.487" stop-color="#2d59c4"/><stop offset="0.500" stop-color="#2c5ac4"/><stop offset="0.512" stop-color="#2c5ac5"/><stop offset="0.525" stop-color="#2d59c4"/><stop offset="0.545" stop-color="#2c5bc6"/><stop offset="0.570" stop-color="#2c5bc6"/><stop offset="0.600" stop-color="#2c5ac5"/><stop offset="0.635" stop-color="#2d58c2"/><stop offset="0.675" stop-color="#2e56c0"/><stop offset="0.725" stop-color="#2f55be"/><stop offset="0.800" stop-color="#2f54bd"/><stop offset="0.900" stop-color="#2f54bd"/><stop offset="1.000" stop-color="#2f55be"/></linearGradient><linearGradient id="g130"><stop offset="0.000" stop-color="#3052ba"/><stop offset="0.100" stop-color="#3052ba"/><stop offset="0.200" stop-color="#3052ba"/><stop offset="0.275" stop-color="#3052ba"/><stop offset="0.325" stop-color="#3053bb"/><stop offset="0.365" stop-color="#2f53bc"/><stop offset="0.400" stop-color="#2f53bc"/><stop offset="0.430" stop-color="#2f54bd"/><stop offset="0.455" stop-color="#2f55be"/><stop offset="0.475" stop-color="#2e56c0"/><stop offset="0.487" stop-color="#2e57c0"/><stop offset="0.500" stop-color="#2e56c0"/><stop offset="0.512" stop-color="#2e57c1"/><stop offset="0.525" stop-color="#2e57c0"/><stop offset="0.545" stop-color="#2e57c1"/><stop offset="0.570" stop-color="#2d58c2"/><stop offset="0.600" stop-color="#2d58c2"/><stop offset="0.635" stop-color="#2e56c0"/><stop offset="0.675" stop-color="#2f53bc"/><stop offset="0.725" stop-color="#2f53bb"/><stop offset="0.800" stop-color="#3052bb"/><stop offset="0.900" stop-color="#3052ba"/><stop offset="1.000" stop-color="#3052ba"/></linearGradient><linearGradient id="g131"><stop offset="0.000" stop-color="#3051b9"/><stop offset="0.100" stop-color="#3051b9"/><stop offset="0.200" stop-color="#3051b8"/><stop offset="0.275" stop-color="#3051b8"/><stop offset="0.325" stop-color="#3051b8"/><stop offset="0.365" stop-color="#3051b8"/><stop offset="0.400" stop-color="#3052ba"/><stop offset="0.430" stop-color="#2f53bb"/><stop offset="0.455" stop-color="#2f53bc"/><stop offset="0.475" stop-color="#2f55bd"/><stop offset="0.487" stop-color="#2f54bd"/><stop offset="0.500" stop-color="#2f54bd"/><stop offset="0.512" stop-color="#2e56bf"/><stop offset="0.525" stop-color="#2e56bf"/><stop offset="0.545" stop-color="#2e56bf"/><stop offset="0.570" stop-color="#2e57c0"/><stop offset="0.600" stop-color="#2e55be"/><stop offset="0.635" stop-color="#2f54bd"/><stop offset="0.675" stop-color="#3052ba"/><stop offset="0.725" stop-color="#3051b9"/><stop offset="0.800" stop-color="#3052b9"/><stop offset="0.900" stop-color="#3051b9"/><stop offset="1.000" stop-color="#3051b8"/></linearGradient><linearGradient id="g132"><stop offset="0.000" stop-color="#3052ba"/><stop offset="0.100" stop-color="#3051b9"/><stop offset="0.200" stop-color="#3051b8"/><stop offset="0.275" stop-color="#3051b9"/><stop offset="0.325" stop-color="#3052b9"/><stop offset="0.365" stop-color="#3052ba"/><stop offset="0.400" stop-color="#3052ba"/><stop offset="0.430" stop-color="#3052bb"/><stop offset="0.455" stop-color="#2f53bb"/><stop offset="0.475" stop-color="#2f53bc"/><stop offset="0.487" stop-color="#2f54bc"/><stop offset="0.500" stop-color="#2f55be"/><stop offset="0.512" stop-color="#2f54bd"/><stop offset="0.525" stop-color="#2f55be"/><stop offset="0.545" stop-color="#2e56c0"/><stop offset="0.570" stop-color="#2e55be"/><stop offset="0.600" stop-color="#2e55be"/><stop offset="0.635" stop-color="#2f54bd"/><stop offset="0.675" stop-color="#3052ba"/><stop offset="0.725" stop-color="#3051b9"/><stop offset="0.800" stop-color="#3052ba"/><stop offset="0.900" stop-color="#3052ba"/><stop offset="1.000" stop-color="#3051b9"/></linearGradient><linearGradient id="g133"><stop offset="0.000" stop-color="#314fb5"/><stop offset="0.100" stop-color="#314eb5"/><stop offset="0.200" stop-color="#324eb4"/><stop offset="0.275" stop-color="#314eb5"/><stop offset="0.325" stop-color="#324eb4"/><stop offset="0.365" stop-color="#314fb6"/><stop offset="0.400" stop-color="#314fb6"/><stop offset="0.430" stop-color="#314fb6"/><stop offset="0.455" stop-color="#3150b7"/><stop offset="0.475" stop-color="#3150b7"/><stop offset="0.487" stop-color="#3050b8"/><stop offset="0.500" stop-color="#3051b8"/><stop offset="0.512" stop-color="#3052ba"/><stop offset="0.525" stop-color="#3052b9"/><stop offset="0.545" stop-color="#3051b9"/><stop offset="0.570" stop-color="#3053bb"/><stop offset="0.600" stop-color="#3052ba"/><stop offset="0.635" stop-color="#3051b9"/><stop offset="0.675" stop-color="#314eb5"/><stop offset="0.725" stop-color="#314eb5"/><stop offset="0.800" stop-color="#314eb5"/><stop offset="0.900" stop-color="#324eb4"/><stop offset="1.000" stop-color="#324eb4"/></linearGradient><linearGradient id="g134"><stop offset="0.000" stop-color="#324cb2"/><stop offset="0.100" stop-color="#324db3"/><stop offset="0.200" stop-color="#324cb2"/><stop offset="0.275" stop-color="#324cb3"/><stop offset="0.325" stop-color="#324db3"/><stop offset="0.365" stop-color="#324db3"/><stop offset="0.400" stop-color="#324db3"/><stop offset="0.430" stop-color="#324db3"/><stop offset="0.455" stop-color="#324db4"/><stop offset="0.475" stop-color="#324eb4"/><stop offset="0.487" stop-color="#314fb6"/><stop offset="0.500" stop-color="#314fb6"/><stop offset="0.512" stop-color="#314fb6"/><stop offset="0.525" stop-color="#3150b8"/><stop offset="0.545" stop-color="#3150b8"/><stop offset="0.570" stop-color="#3150b8"/><stop offset="0.600" stop-color="#3150b7"/><stop offset="0.635" stop-color="#324eb4"/><stop offset="0.675" stop-color="#324db3"/><stop offset="0.725" stop-color="#324cb2"/><stop offset="0.800" stop-color="#324db3"/><stop offset="0.900" stop-color="#324cb2"/><stop offset="1.000" stop-color="#324cb2"/></linearGradient><linearGradient id="g135"><stop offset="0.000" stop-color="#334bb0"/><stop offset="0.100" stop-color="#334bb1"/><stop offset="0.200" stop-color="#334ab0"/><stop offset="0.275" stop-color="#334bb1"/><stop offset="0.325" stop-color="#334bb1"/><stop offset="0.365" stop-color="#334bb0"/><stop offset="0.400" stop-color="#334bb0"/><stop offset="0.430" stop-color="#334cb1"/><stop offset="0.455" stop-color="#324cb2"/><stop offset="0.475" stop-color="#324cb2"/><stop offset="0.487" stop-color="#324db3"/><stop offset="0.500" stop-color="#324db3"/><stop offset="0.512" stop-color="#324db4"/><stop offset="0.525" stop-color="#324eb4"/><stop offset="0.545" stop-color="#324db4"/><stop offset="0.570" stop-color="#324db4"/><stop offset="0.600" stop-color="#324db3"/><stop offset="0.635" stop-color="#324cb2"/><stop offset="0.675" stop-color="#334bb1"/><stop offset="0.725" stop-color="#334bb0"/><stop offset="0.800" stop-color="#334ab0"/><stop offset="0.900" stop-color="#334bb1"/><stop offset="1.000" stop-color="#334bb1"/></linearGradient><linearGradient id="g136"><stop offset="0.000" stop-color="#3449ae"/><stop offset="0.100" stop-color="#3449ae"/><stop offset="0.200" stop-color="#3449ae"/><stop offset="0.275" stop-color="#3349af"/><stop offset="0.325" stop-color="#3449ae"/><stop offset="0.365" stop-color="#3449ae"/><stop offset="0.400" stop-color="#3449ae"/><stop offset="0.430" stop-color="#334aaf"/><stop offset="0.455" stop-color="#334ab0"/><stop offset="0.475" stop-color="#334aaf"/><stop offset="0.487" stop-color="#334ab0"/><stop offset="0.500" stop-color="#334ab0"/><stop offset="0.512" stop-color="#334bb0"/><stop offset="0.525" stop-color="#334cb2"/><stop offset="0.545" stop-color="#334bb1"/><stop offset="0.570" stop-color="#334bb1"/><stop offset="0.600" stop-color="#334bb1"/><stop offset="0.635" stop-color="#334ab0"/><stop offset="0.675" stop-color="#3449ae"/><stop offset="0.725" stop-color="#3449ae"/><stop offset="0.800" stop-color="#3449ae"/><stop offset="0.900" stop-color="#3449ae"/><stop offset="1.000" stop-color="#3449ae"/></linearGradient><linearGradient id="g137"><stop offset="0.000" stop-color="#3546aa"/><stop offset="0.100" stop-color="#3546aa"/><stop offset="0.200" stop-color="#3546aa"/><stop offset="0.275" stop-color="#3546aa"/><stop offset="0.325" stop-color="#3546aa"/><stop offset="0.365" stop-color="#3546aa"/><stop offset="0.400" stop-color="#3546ab"/><stop offset="0.430" stop-color="#3547ab"/><stop offset="0.455" stop-color="#3546ab"/><stop offset="0.475" stop-color="#3547ab"/><stop offset="0.487" stop-color="#3447ac"/><stop offset="0.500" stop-color="#3448ac"/><stop offset="0.512" stop-color="#3447ac"/><stop offset="0.525" stop-color="#3448ad"/><stop offset="0.545" stop-color="#3448ad"/><stop offset="0.570" stop-color="#3448ad"/><stop offset="0.600" stop-color="#3448ac"/><stop offset="0.635" stop-color="#3547ab"/><stop offset="0.675" stop-color="#3546aa"/><stop offset="0.725" stop-color="#3546aa"/><stop offset="0.800" stop-color="#3546aa"/><stop offset="0.900" stop-color="#3546aa"/><stop offset="1.000" stop-color="#3546aa"/></linearGradient><linearGradient id="g138"><stop offset="0.000" stop-color="#3545a8"/><stop offset="0.100" stop-color="#3545a9"/><stop offset="0.200" stop-color="#3545a9"/><stop offset="0.275" stop-color="#3545a9"/><stop offset="0.325" stop-color="#3545a8"/><stop offset="0.365" stop-color="#3545a9"/><stop offset="0.400" stop-color="#3545a8"/><stop offset="0.430" stop-color="#3545a9"/><stop offset="0.455" stop-color="#3545a9"/><stop offset="0.475" stop-color="#3546aa"/><stop offset="0.487" stop-color="#3546aa"/><stop offset="0.500" stop-color="#3547ab"/><stop offset="0.512" stop-color="#3546aa"/><stop offset="0.525" stop-color="#3546ab"/><stop offset="0.545" stop-color="#3547ab"/><stop offset="0.570" stop-color="#3447ab"/><stop offset="0.600" stop-color="#3546aa"/><stop offset="0.635" stop-color="#3546aa"/><stop offset="0.675" stop-color="#3545a9"/><stop offset="0.725" stop-color="#3545a9"/><stop offset="0.800" stop-color="#3545a9"/><stop offset="0.900" stop-color="#3545a9"/><stop offset="1.000" stop-color="#3545a9"/></linearGradient><linearGradient id="g139"><stop offset="0.000" stop-color="#3643a6"/><stop offset="0.100" stop-color="#3643a6"/><stop offset="0.200" stop-color="#3643a6"/><stop offset="0.275" stop-color="#3643a6"/><stop offset="0.325" stop-color="#3643a6"/><stop offset="0.365" stop-color="#3643a6"/><stop offset="0.400" stop-color="#3643a6"/><stop offset="0.430" stop-color="#3643a6"/><stop offset="0.455" stop-color="#3643a6"/><stop offset="0.475" stop-color="#3643a6"/><stop offset="0.487" stop-color="#3644a7"/><stop offset="0.500" stop-color="#3644a7"/><stop offset="0.512" stop-color="#3644a8"/><stop offset="0.525" stop-color="#3644a8"/><stop offset="0.545" stop-color="#3644a8"/><stop offset="0.570" stop-color="#3644a8"/><stop offset="0.600" stop-color="#3644a8"/><stop offset="0.635" stop-color="#3643a7"/><stop offset="0.675" stop-color="#3643a6"/><stop offset="0.725" stop-color="#3643a5"/><stop offset="0.800" stop-color="#3643a6"/><stop offset="0.900" stop-color="#3643a6"/><stop offset="1.000" stop-color="#3643a6"/></linearGradient><linearGradient id="g140"><stop offset="0.000" stop-color="#3741a4"/><stop offset="0.100" stop-color="#3741a4"/><stop offset="0.200" stop-color="#3741a4"/><stop offset="0.275" stop-color="#3741a4"/><stop offset="0.325" stop-color="#3741a4"/><stop offset="0.365" stop-color="#3741a4"/><stop offset="0.400" stop-color="#3741a4"/><stop offset="0.430" stop-color="#3741a4"/><stop offset="0.455" stop-color="#3742a4"/><stop offset="0.475" stop-color="#3742a4"/><stop offset="0.487" stop-color="#3742a4"/><stop offset="0.500" stop-color="#3742a5"/><stop offset="0.512" stop-color="#3643a5"/><stop offset="0.525" stop-color="#3642a5"/><stop offset="0.545" stop-color="#3642a5"/><stop offset="0.570" stop-color="#3643a5"/><stop offset="0.600" stop-color="#3742a5"/><stop offset="0.635" stop-color="#3742a4"/><stop offset="0.675" stop-color="#3741a4"/><stop offset="0.725" stop-color="#3741a4"/><stop offset="0.800" stop-color="#3741a4"/><stop offset="0.900" stop-color="#3741a4"/><stop offset="1.000" stop-color="#3741a4"/></linearGradient></defs>
<rect x="621.8" y="1988.40" width="112.0" height="5.63" fill="url(#g93)"/><rect x="621.8" y="1993.03" width="112.0" height="5.63" fill="url(#g94)"/><rect x="621.8" y="1997.66" width="112.0" height="5.63" fill="url(#g95)"/><rect x="621.8" y="2002.29" width="112.0" height="5.63" fill="url(#g96)"/><rect x="621.8" y="2006.93" width="112.0" height="5.63" fill="url(#g97)"/><rect x="621.8" y="2011.56" width="112.0" height="5.63" fill="url(#g98)"/><rect x="621.8" y="2016.19" width="112.0" height="5.63" fill="url(#g99)"/><rect x="621.8" y="2020.82" width="112.0" height="5.63" fill="url(#g100)"/><rect x="621.8" y="2025.45" width="112.0" height="5.63" fill="url(#g101)"/><rect x="621.8" y="2030.08" width="112.0" height="5.63" fill="url(#g102)"/><rect x="621.8" y="2034.71" width="112.0" height="5.63" fill="url(#g103)"/><rect x="621.8" y="2039.34" width="112.0" height="5.63" fill="url(#g104)"/><rect x="621.8" y="2043.97" width="112.0" height="5.63" fill="url(#g105)"/><rect x="621.8" y="2048.61" width="112.0" height="5.63" fill="url(#g106)"/><rect x="621.8" y="2053.24" width="112.0" height="5.63" fill="url(#g107)"/><rect x="621.8" y="2057.87" width="112.0" height="5.63" fill="url(#g108)"/><rect x="621.8" y="2062.50" width="112.0" height="5.63" fill="url(#g109)"/><rect x="621.8" y="2067.13" width="112.0" height="5.63" fill="url(#g110)"/><rect x="621.8" y="2071.76" width="112.0" height="5.63" fill="url(#g111)"/><rect x="621.8" y="2076.39" width="112.0" height="5.63" fill="url(#g112)"/><rect x="621.8" y="2081.03" width="112.0" height="5.63" fill="url(#g113)"/><rect x="621.8" y="2085.66" width="112.0" height="5.63" fill="url(#g114)"/><rect x="621.8" y="2090.29" width="112.0" height="5.63" fill="url(#g115)"/><rect x="621.8" y="2094.92" width="112.0" height="5.63" fill="url(#g116)"/><rect x="621.8" y="2099.55" width="112.0" height="5.63" fill="url(#g117)"/><rect x="621.8" y="2104.18" width="112.0" height="5.63" fill="url(#g118)"/><rect x="621.8" y="2108.81" width="112.0" height="5.63" fill="url(#g119)"/><rect x="621.8" y="2113.44" width="112.0" height="5.63" fill="url(#g120)"/><rect x="621.8" y="2118.07" width="112.0" height="5.63" fill="url(#g121)"/><rect x="621.8" y="2122.71" width="112.0" height="5.63" fill="url(#g122)"/><rect x="621.8" y="2127.34" width="112.0" height="5.63" fill="url(#g123)"/><rect x="621.8" y="2131.97" width="112.0" height="5.63" fill="url(#g124)"/><rect x="621.8" y="2136.60" width="112.0" height="5.63" fill="url(#g125)"/><rect x="621.8" y="2141.23" width="112.0" height="5.63" fill="url(#g126)"/><rect x="621.8" y="2145.86" width="112.0" height="5.63" fill="url(#g127)"/><rect x="621.8" y="2150.49" width="112.0" height="5.63" fill="url(#g128)"/><rect x="621.8" y="2155.12" width="112.0" height="5.63" fill="url(#g129)"/><rect x="621.8" y="2159.76" width="112.0" height="5.63" fill="url(#g130)"/><rect x="621.8" y="2164.39" width="112.0" height="5.63" fill="url(#g131)"/><rect x="621.8" y="2169.02" width="112.0" height="5.63" fill="url(#g132)"/><rect x="621.8" y="2173.65" width="112.0" height="5.63" fill="url(#g133)"/><rect x="621.8" y="2178.28" width="112.0" height="5.63" fill="url(#g134)"/><rect x="621.8" y="2182.91" width="112.0" height="5.63" fill="url(#g135)"/><rect x="621.8" y="2187.54" width="112.0" height="5.63" fill="url(#g136)"/><rect x="621.8" y="2192.17" width="112.0" height="5.63" fill="url(#g137)"/><rect x="621.8" y="2196.81" width="112.0" height="5.63" fill="url(#g138)"/><rect x="621.8" y="2201.44" width="112.0" height="5.63" fill="url(#g139)"/><rect x="621.8" y="2206.07" width="112.0" height="5.63" fill="url(#g140)"/>
<defs><linearGradient id="g141"><stop offset="0.000" stop-color="#2593d6"/><stop offset="0.100" stop-color="#2594d6"/><stop offset="0.200" stop-color="#259dd1"/><stop offset="0.275" stop-color="#32b19c"/><stop offset="0.325" stop-color="#8fd680"/><stop offset="0.365" stop-color="#c3e980"/><stop offset="0.400" stop-color="#d9ef80"/><stop offset="0.430" stop-color="#f4f27e"/><stop offset="0.455" stop-color="#f6f47f"/><stop offset="0.475" stop-color="#f5f27e"/><stop offset="0.487" stop-color="#ecf580"/><stop offset="0.500" stop-color="#5dc777"/><stop offset="0.512" stop-color="#e4d773"/><stop offset="0.525" stop-color="#b1955c"/><stop offset="0.545" stop-color="#ab8e5b"/><stop offset="0.570" stop-color="#a98b5a"/><stop offset="0.600" stop-color="#a6885a"/><stop offset="0.635" stop-color="#c0a960"/><stop offset="0.675" stop-color="#c7ea80"/><stop offset="0.725" stop-color="#3cbb81"/><stop offset="0.800" stop-color="#30abae"/><stop offset="0.900" stop-color="#259ed0"/><stop offset="1.000" stop-color="#2597d5"/></linearGradient><linearGradient id="g142"><stop offset="0.000" stop-color="#2596d5"/><stop offset="0.100" stop-color="#2597d5"/><stop offset="0.200" stop-color="#269fcd"/><stop offset="0.275" stop-color="#33b592"/><stop offset="0.325" stop-color="#a2dd80"/><stop offset="0.365" stop-color="#d8ef80"/><stop offset="0.400" stop-color="#f7f880"/><stop offset="0.430" stop-color="#ede679"/><stop offset="0.455" stop-color="#f4f27d"/><stop offset="0.475" stop-color="#ebe277"/><stop offset="0.487" stop-color="#f2ef7c"/><stop offset="0.500" stop-color="#71cd7b"/><stop offset="0.512" stop-color="#d4c16a"/><stop offset="0.525" stop-color="#aa8d5b"/><stop offset="0.545" stop-color="#917154"/><stop offset="0.570" stop-color="#957555"/><stop offset="0.600" stop-color="#9c7c57"/><stop offset="0.635" stop-color="#a48559"/><stop offset="0.675" stop-color="#d1ed80"/><stop offset="0.725" stop-color="#41be7d"/><stop offset="0.800" stop-color="#31ada6"/><stop offset="0.900" stop-color="#27a0ca"/><stop offset="1.000" stop-color="#2498d5"/></linearGradient><linearGradient id="g143"><stop offset="0.000" stop-color="#2590d7"/><stop offset="0.100" stop-color="#2593d6"/><stop offset="0.200" stop-color="#249ad4"/><stop offset="0.275" stop-color="#31afa3"/><stop offset="0.325" stop-color="#78cf7d"/><stop offset="0.365" stop-color="#afe280"/><stop offset="0.400" stop-color="#d5ee80"/><stop offset="0.430" stop-color="#e6f380"/><stop offset="0.455" stop-color="#eaf480"/><stop offset="0.475" stop-color="#f1f680"/><stop offset="0.487" stop-color="#d7ef80"/><stop offset="0.500" stop-color="#61c878"/><stop offset="0.512" stop-color="#ede679"/><stop offset="0.525" stop-color="#c8b264"/><stop offset="0.545" stop-color="#aa8d5b"/><stop offset="0.570" stop-color="#af935c"/><stop offset="0.600" stop-color="#af935c"/><stop offset="0.635" stop-color="#d1bd68"/><stop offset="0.675" stop-color="#a9e080"/><stop offset="0.725" stop-color="#38ba85"/><stop offset="0.800" stop-color="#30aaaf"/><stop offset="0.900" stop-color="#249cd4"/><stop offset="1.000" stop-color="#2592d6"/></linearGradient><linearGradient id="g144"><stop offset="0.000" stop-color="#2595d5"/><stop offset="0.100" stop-color="#2594d6"/><stop offset="0.200" stop-color="#259dd1"/><stop offset="0.275" stop-color="#31afa2"/><stop offset="0.325" stop-color="#7ed17e"/><stop offset="0.365" stop-color="#b4e480"/><stop offset="0.400" stop-color="#caeb80"/><stop offset="0.430" stop-color="#eff580"/><stop offset="0.455" stop-color="#def180"/><stop offset="0.475" stop-color="#e3f280"/><stop offset="0.487" stop-color="#d9ef80"/><stop offset="0.500" stop-color="#70cd7b"/><stop offset="0.512" stop-color="#e6da74"/><stop offset="0.525" stop-color="#b4995d"/><stop offset="0.545" stop-color="#ab8d5b"/><stop offset="0.570" stop-color="#ad905b"/><stop offset="0.600" stop-color="#aa8c5a"/><stop offset="0.635" stop-color="#bca25f"/><stop offset="0.675" stop-color="#b6e480"/><stop offset="0.725" stop-color="#3cbb82"/><stop offset="0.800" stop-color="#30aab0"/><stop offset="0.900" stop-color="#259dd1"/><stop offset="1.000" stop-color="#2597d5"/></linearGradient><linearGradient id="g145"><stop offset="0.000" stop-color="#2592d6"/><stop offset="0.100" stop-color="#2594d6"/><stop offset="0.200" stop-color="#259dd1"/><stop offset="0.275" stop-color="#31aea6"/><stop offset="0.325" stop-color="#73ce7c"/><stop offset="0.365" stop-color="#a5de80"/><stop offset="0.400" stop-color="#bde780"/><stop offset="0.430" stop-color="#cbeb80"/><stop offset="0.455" stop-color="#d5ee80"/><stop offset="0.475" stop-color="#ddf080"/><stop offset="0.487" stop-color="#c8ea80"/><stop offset="0.500" stop-color="#67ca79"/><stop offset="0.512" stop-color="#f2ef7c"/><stop offset="0.525" stop-color="#bda55f"/><stop offset="0.545" stop-color="#af925c"/><stop offset="0.570" stop-color="#b79d5e"/><stop offset="0.600" stop-color="#b69c5e"/><stop offset="0.635" stop-color="#c7b164"/><stop offset="0.675" stop-color="#b0e280"/><stop offset="0.725" stop-color="#37b985"/><stop offset="0.800" stop-color="#2ea7b7"/><stop offset="0.900" stop-color="#249cd3"/><stop offset="1.000" stop-color="#2592d6"/></linearGradient><linearGradient id="g146"><stop offset="0.000" stop-color="#268ed7"/><stop offset="0.100" stop-color="#2591d6"/><stop offset="0.200" stop-color="#2597d5"/><stop offset="0.275" stop-color="#2ea8b6"/><stop offset="0.325" stop-color="#5fc878"/><stop offset="0.365" stop-color="#91d780"/><stop offset="0.400" stop-color="#a1dd80"/><stop offset="0.430" stop-color="#bde780"/><stop offset="0.455" stop-color="#b0e280"/><stop offset="0.475" stop-color="#bce780"/><stop offset="0.487" stop-color="#a7df80"/><stop offset="0.500" stop-color="#5dc777"/><stop offset="0.512" stop-color="#eaf480"/><stop offset="0.525" stop-color="#d6c46b"/><stop offset="0.545" stop-color="#c0a860"/><stop offset="0.570" stop-color="#c4ad62"/><stop offset="0.600" stop-color="#d2bf69"/><stop offset="0.635" stop-color="#e6db74"/><stop offset="0.675" stop-color="#99da80"/><stop offset="0.725" stop-color="#33b590"/><stop offset="0.800" stop-color="#2da6b9"/><stop offset="0.900" stop-color="#249ad5"/><stop offset="1.000" stop-color="#258fd7"/></linearGradient><linearGradient id="g147"><stop offset="0.000" stop-color="#2593d6"/><stop offset="0.100" stop-color="#2595d6"/><stop offset="0.200" stop-color="#249bd4"/><stop offset="0.275" stop-color="#30aaaf"/><stop offset="0.325" stop-color="#6ecc7b"/><stop offset="0.365" stop-color="#99da80"/><stop offset="0.400" stop-color="#afe280"/><stop offset="0.430" stop-color="#c0e880"/><stop offset="0.455" stop-color="#c4e980"/><stop offset="0.475" stop-color="#c7ea80"/><stop offset="0.487" stop-color="#bfe880"/><stop offset="0.500" stop-color="#6acb7a"/><stop offset="0.512" stop-color="#f1ec7b"/><stop offset="0.525" stop-color="#c9b465"/><stop offset="0.545" stop-color="#bea660"/><stop offset="0.570" stop-color="#b0945c"/><stop offset="0.600" stop-color="#b89e5e"/><stop offset="0.635" stop-color="#d7c46b"/><stop offset="0.675" stop-color="#a0dc80"/><stop offset="0.725" stop-color="#37b985"/><stop offset="0.800" stop-color="#2ea8b6"/><stop offset="0.900" stop-color="#249bd4"/><stop offset="1.000" stop-color="#2593d6"/></linearGradient><linearGradient id="g148"><stop offset="0.000" stop-color="#2590d7"/><stop offset="0.100" stop-color="#2592d6"/><stop offset="0.200" stop-color="#249bd4"/><stop offset="0.275" stop-color="#2fa9b2"/><stop offset="0.325" stop-color="#50c375"/><stop offset="0.365" stop-color="#7dd17e"/><stop offset="0.400" stop-color="#9edc80"/><stop offset="0.430" stop-color="#a8df80"/><stop offset="0.455" stop-color="#abe180"/><stop offset="0.475" stop-color="#aee280"/><stop offset="0.487" stop-color="#a9e080"/><stop offset="0.500" stop-color="#5fc878"/><stop offset="0.512" stop-color="#e6f380"/><stop offset="0.525" stop-color="#e6da74"/><stop offset="0.545" stop-color="#c7b163"/><stop offset="0.570" stop-color="#cab565"/><stop offset="0.600" stop-color="#ceba67"/><stop offset="0.635" stop-color="#dfcf6f"/><stop offset="0.675" stop-color="#92d780"/><stop offset="0.725" stop-color="#33b396"/><stop offset="0.800" stop-color="#2da6ba"/><stop offset="0.900" stop-color="#249ad5"/><stop offset="1.000" stop-color="#2594d6"/></linearGradient><linearGradient id="g149"><stop offset="0.000" stop-color="#258fd7"/><stop offset="0.100" stop-color="#2591d6"/><stop offset="0.200" stop-color="#2597d5"/><stop offset="0.275" stop-color="#2da7b8"/><stop offset="0.325" stop-color="#4bc275"/><stop offset="0.365" stop-color="#76cf7c"/><stop offset="0.400" stop-color="#95d980"/><stop offset="0.430" stop-color="#a5de80"/><stop offset="0.455" stop-color="#a7df80"/><stop offset="0.475" stop-color="#aee280"/><stop offset="0.487" stop-color="#9ddc80"/><stop offset="0.500" stop-color="#57c576"/><stop offset="0.512" stop-color="#d7ef80"/><stop offset="0.525" stop-color="#e6da74"/><stop offset="0.545" stop-color="#d6c46b"/><stop offset="0.570" stop-color="#c6af63"/><stop offset="0.600" stop-color="#d3c06a"/><stop offset="0.635" stop-color="#eee779"/><stop offset="0.675" stop-color="#7cd07e"/><stop offset="0.725" stop-color="#33b494"/><stop offset="0.800" stop-color="#2ca5bd"/><stop offset="0.900" stop-color="#2498d5"/><stop offset="1.000" stop-color="#258fd7"/></linearGradient><linearGradient id="g150"><stop offset="0.000" stop-color="#258fd7"/><stop offset="0.100" stop-color="#2590d7"/><stop offset="0.200" stop-color="#2595d6"/><stop offset="0.275" stop-color="#2ca6bb"/><stop offset="0.325" stop-color="#44bf7a"/><stop offset="0.365" stop-color="#67ca79"/><stop offset="0.400" stop-color="#88d480"/><stop offset="0.430" stop-color="#94d880"/><stop offset="0.455" stop-color="#9cdb80"/><stop offset="0.475" stop-color="#9ddb80"/><stop offset="0.487" stop-color="#98da80"/><stop offset="0.500" stop-color="#58c676"/><stop offset="0.512" stop-color="#caeb80"/><stop offset="0.525" stop-color="#f0ea7b"/><stop offset="0.545" stop-color="#e3d472"/><stop offset="0.570" stop-color="#d6c36b"/><stop offset="0.600" stop-color="#dac86d"/><stop offset="0.635" stop-color="#ece478"/><stop offset="0.675" stop-color="#6ecc7b"/><stop offset="0.725" stop-color="#32b298"/><stop offset="0.800" stop-color="#2aa3c3"/><stop offset="0.900" stop-color="#2593d6"/><stop offset="1.000" stop-color="#2590d7"/></linearGradient><linearGradient id="g151"><stop offset="0.000" stop-color="#268dd7"/><stop offset="0.100" stop-color="#2591d7"/><stop offset="0.200" stop-color="#2594d6"/><stop offset="0.275" stop-color="#2ba4bf"/><stop offset="0.325" stop-color="#3dbc81"/><stop offset="0.365" stop-color="#63c979"/><stop offset="0.400" stop-color="#7bd07d"/><stop offset="0.430" stop-color="#86d480"/><stop offset="0.455" stop-color="#90d780"/><stop offset="0.475" stop-color="#99da80"/><stop offset="0.487" stop-color="#8dd680"/><stop offset="0.500" stop-color="#52c475"/><stop offset="0.512" stop-color="#c3e980"/><stop offset="0.525" stop-color="#ebe378"/><stop offset="0.545" stop-color="#e7dc75"/><stop offset="0.570" stop-color="#d3bf69"/><stop offset="0.600" stop-color="#e0d070"/><stop offset="0.635" stop-color="#f5f27e"/><stop offset="0.675" stop-color="#65ca79"/><stop offset="0.725" stop-color="#32b09e"/><stop offset="0.800" stop-color="#2aa2c3"/><stop offset="0.900" stop-color="#2593d6"/><stop offset="1.000" stop-color="#268ed7"/></linearGradient><linearGradient id="g152"><stop offset="0.000" stop-color="#268bd8"/><stop offset="0.100" stop-color="#268dd7"/><stop offset="0.200" stop-color="#2593d6"/><stop offset="0.275" stop-color="#28a1c8"/><stop offset="0.325" stop-color="#38ba84"/><stop offset="0.365" stop-color="#49c177"/><stop offset="0.400" stop-color="#5fc878"/><stop offset="0.430" stop-color="#7fd17e"/><stop offset="0.455" stop-color="#81d27f"/><stop offset="0.475" stop-color="#80d27e"/><stop offset="0.487" stop-color="#77cf7d"/><stop offset="0.500" stop-color="#4fc375"/><stop offset="0.512" stop-color="#b6e480"/><stop offset="0.525" stop-color="#f2f680"/><stop offset="0.545" stop-color="#e8de76"/><stop offset="0.570" stop-color="#ebe277"/><stop offset="0.600" stop-color="#eae177"/><stop offset="0.635" stop-color="#e7f380"/><stop offset="0.675" stop-color="#5fc878"/><stop offset="0.725" stop-color="#31afa2"/><stop offset="0.800" stop-color="#269fcd"/><stop offset="0.900" stop-color="#2591d6"/><stop offset="1.000" stop-color="#268dd7"/></linearGradient><linearGradient id="g153"><stop offset="0.000" stop-color="#287ed3"/><stop offset="0.100" stop-color="#287ed3"/><stop offset="0.200" stop-color="#2783d5"/><stop offset="0.275" stop-color="#2499d5"/><stop offset="0.325" stop-color="#31aea4"/><stop offset="0.365" stop-color="#35b887"/><stop offset="0.400" stop-color="#43be7b"/><stop offset="0.430" stop-color="#48c077"/><stop offset="0.455" stop-color="#51c475"/><stop offset="0.475" stop-color="#4cc274"/><stop offset="0.487" stop-color="#4bc275"/><stop offset="0.500" stop-color="#34b888"/><stop offset="0.512" stop-color="#79d07d"/><stop offset="0.525" stop-color="#ace180"/><stop offset="0.545" stop-color="#cbeb80"/><stop offset="0.570" stop-color="#d3ed80"/><stop offset="0.600" stop-color="#d4ee80"/><stop offset="0.635" stop-color="#a7df80"/><stop offset="0.675" stop-color="#37b985"/><stop offset="0.725" stop-color="#2ba4bf"/><stop offset="0.800" stop-color="#2596d5"/><stop offset="0.900" stop-color="#2785d6"/><stop offset="1.000" stop-color="#2782d5"/></linearGradient><linearGradient id="g154"><stop offset="0.000" stop-color="#287dd3"/><stop offset="0.100" stop-color="#2781d5"/><stop offset="0.200" stop-color="#2687d7"/><stop offset="0.275" stop-color="#2498d5"/><stop offset="0.325" stop-color="#31ada6"/><stop offset="0.365" stop-color="#34b78c"/><stop offset="0.400" stop-color="#3ebc80"/><stop offset="0.430" stop-color="#43be7c"/><stop offset="0.455" stop-color="#4ec374"/><stop offset="0.475" stop-color="#51c375"/><stop offset="0.487" stop-color="#4dc274"/><stop offset="0.500" stop-color="#34b889"/><stop offset="0.512" stop-color="#7ad07d"/><stop offset="0.525" stop-color="#a7df80"/><stop offset="0.545" stop-color="#caeb80"/><stop offset="0.570" stop-color="#d0ed80"/><stop offset="0.600" stop-color="#c9eb80"/><stop offset="0.635" stop-color="#ace180"/><stop offset="0.675" stop-color="#36b987"/><stop offset="0.725" stop-color="#2ba4c0"/><stop offset="0.800" stop-color="#2594d6"/><stop offset="0.900" stop-color="#2784d6"/><stop offset="1.000" stop-color="#2780d4"/></linearGradient><linearGradient id="g155"><stop offset="0.000" stop-color="#287cd3"/><stop offset="0.100" stop-color="#277fd4"/><stop offset="0.200" stop-color="#2782d5"/><stop offset="0.275" stop-color="#2596d5"/><stop offset="0.325" stop-color="#2fa8b4"/><stop offset="0.365" stop-color="#32b298"/><stop offset="0.400" stop-color="#38ba84"/><stop offset="0.430" stop-color="#40bd7e"/><stop offset="0.455" stop-color="#43be7b"/><stop offset="0.475" stop-color="#47c078"/><stop offset="0.487" stop-color="#44bf7b"/><stop offset="0.500" stop-color="#35b887"/><stop offset="0.512" stop-color="#6fcd7b"/><stop offset="0.525" stop-color="#95d980"/><stop offset="0.545" stop-color="#b7e580"/><stop offset="0.570" stop-color="#bee780"/><stop offset="0.600" stop-color="#bbe680"/><stop offset="0.635" stop-color="#99da80"/><stop offset="0.675" stop-color="#34b78b"/><stop offset="0.725" stop-color="#29a2c5"/><stop offset="0.800" stop-color="#2590d7"/><stop offset="0.900" stop-color="#2781d5"/><stop offset="1.000" stop-color="#277fd4"/></linearGradient><linearGradient id="g156"><stop offset="0.000" stop-color="#287dd3"/><stop offset="0.100" stop-color="#287dd3"/><stop offset="0.200" stop-color="#2782d5"/><stop offset="0.275" stop-color="#2594d6"/><stop offset="0.325" stop-color="#2ea7b7"/><stop offset="0.365" stop-color="#32b19c"/><stop offset="0.400" stop-color="#33b591"/><stop offset="0.430" stop-color="#38ba85"/><stop offset="0.455" stop-color="#3bbb82"/><stop offset="0.475" stop-color="#42be7c"/><stop offset="0.487" stop-color="#3cbb81"/><stop offset="0.500" stop-color="#34b68c"/><stop offset="0.512" stop-color="#69cb7a"/><stop offset="0.525" stop-color="#95d980"/><stop offset="0.545" stop-color="#a8df80"/><stop offset="0.570" stop-color="#b3e380"/><stop offset="0.600" stop-color="#b0e280"/><stop offset="0.635" stop-color="#84d37f"/><stop offset="0.675" stop-color="#33b590"/><stop offset="0.725" stop-color="#29a2c5"/><stop offset="0.800" stop-color="#258fd7"/><stop offset="0.900" stop-color="#277fd4"/><stop offset="1.000" stop-color="#287cd3"/></linearGradient><linearGradient id="g157"><stop offset="0.000" stop-color="#287cd2"/><stop offset="0.100" stop-color="#287dd3"/><stop offset="0.200" stop-color="#2782d5"/><stop offset="0.275" stop-color="#2590d7"/><stop offset="0.325" stop-color="#2da6b9"/><stop offset="0.365" stop-color="#31ada9"/><stop offset="0.400" stop-color="#33b492"/><stop offset="0.430" stop-color="#35b887"/><stop offset="0.455" stop-color="#3aba83"/><stop offset="0.475" stop-color="#3ebc80"/><stop offset="0.487" stop-color="#38ba85"/><stop offset="0.500" stop-color="#33b68f"/><stop offset="0.512" stop-color="#58c676"/><stop offset="0.525" stop-color="#83d27f"/><stop offset="0.545" stop-color="#a2dd80"/><stop offset="0.570" stop-color="#b4e480"/><stop offset="0.600" stop-color="#a4de80"/><stop offset="0.635" stop-color="#8bd580"/><stop offset="0.675" stop-color="#32b298"/><stop offset="0.725" stop-color="#28a1c7"/><stop offset="0.800" stop-color="#2591d6"/><stop offset="0.900" stop-color="#2783d5"/><stop offset="1.000" stop-color="#287ed3"/></linearGradient><linearGradient id="g158"><stop offset="0.000" stop-color="#2974d0"/><stop offset="0.100" stop-color="#2976d0"/><stop offset="0.200" stop-color="#2879d1"/><stop offset="0.275" stop-color="#268ad8"/><stop offset="0.325" stop-color="#27a0ca"/><stop offset="0.365" stop-color="#2ca5bc"/><stop offset="0.400" stop-color="#31acaa"/><stop offset="0.430" stop-color="#32b0a0"/><stop offset="0.455" stop-color="#33b492"/><stop offset="0.475" stop-color="#33b495"/><stop offset="0.487" stop-color="#33b396"/><stop offset="0.500" stop-color="#32afa1"/><stop offset="0.512" stop-color="#46bf79"/><stop offset="0.525" stop-color="#5fc878"/><stop offset="0.545" stop-color="#7fd17e"/><stop offset="0.570" stop-color="#8fd680"/><stop offset="0.600" stop-color="#83d37f"/><stop offset="0.635" stop-color="#57c576"/><stop offset="0.675" stop-color="#31acaa"/><stop offset="0.725" stop-color="#249ad4"/><stop offset="0.800" stop-color="#2785d6"/><stop offset="0.900" stop-color="#287ad2"/><stop offset="1.000" stop-color="#2973cf"/></linearGradient><linearGradient id="g159"><stop offset="0.000" stop-color="#2973cf"/><stop offset="0.100" stop-color="#2976d0"/><stop offset="0.200" stop-color="#2975d0"/><stop offset="0.275" stop-color="#2686d7"/><stop offset="0.325" stop-color="#249cd4"/><stop offset="0.365" stop-color="#2ba4bf"/><stop offset="0.400" stop-color="#2fa9b4"/><stop offset="0.430" stop-color="#31aea5"/><stop offset="0.455" stop-color="#31afa2"/><stop offset="0.475" stop-color="#32b19c"/><stop offset="0.487" stop-color="#32b299"/><stop offset="0.500" stop-color="#30abae"/><stop offset="0.512" stop-color="#3abb83"/><stop offset="0.525" stop-color="#52c475"/><stop offset="0.545" stop-color="#72cd7c"/><stop offset="0.570" stop-color="#79d07d"/><stop offset="0.600" stop-color="#6ccb7a"/><stop offset="0.635" stop-color="#4ec374"/><stop offset="0.675" stop-color="#2fa9b3"/><stop offset="0.725" stop-color="#2596d5"/><stop offset="0.800" stop-color="#2784d6"/><stop offset="0.900" stop-color="#2975d0"/><stop offset="1.000" stop-color="#2974d0"/></linearGradient><linearGradient id="g160"><stop offset="0.000" stop-color="#2974d0"/><stop offset="0.100" stop-color="#2974d0"/><stop offset="0.200" stop-color="#2974d0"/><stop offset="0.275" stop-color="#2784d6"/><stop offset="0.325" stop-color="#249ad4"/><stop offset="0.365" stop-color="#29a2c5"/><stop offset="0.400" stop-color="#2da7b9"/><stop offset="0.430" stop-color="#31acab"/><stop offset="0.455" stop-color="#31afa2"/><stop offset="0.475" stop-color="#31ada6"/><stop offset="0.487" stop-color="#31afa3"/><stop offset="0.500" stop-color="#30abae"/><stop offset="0.512" stop-color="#3bbb82"/><stop offset="0.525" stop-color="#50c375"/><stop offset="0.545" stop-color="#6dcc7b"/><stop offset="0.570" stop-color="#6bcb7a"/><stop offset="0.600" stop-color="#65ca79"/><stop offset="0.635" stop-color="#49c177"/><stop offset="0.675" stop-color="#2da6b9"/><stop offset="0.725" stop-color="#2596d5"/><stop offset="0.800" stop-color="#2780d4"/><stop offset="0.900" stop-color="#2974cf"/><stop offset="1.000" stop-color="#2974d0"/></linearGradient><linearGradient id="g161"><stop offset="0.000" stop-color="#2975d0"/><stop offset="0.100" stop-color="#2974d0"/><stop offset="0.200" stop-color="#2976d0"/><stop offset="0.275" stop-color="#2780d4"/><stop offset="0.325" stop-color="#2498d5"/><stop offset="0.365" stop-color="#28a1c7"/><stop offset="0.400" stop-color="#2da7b8"/><stop offset="0.430" stop-color="#30abad"/><stop offset="0.455" stop-color="#31ada9"/><stop offset="0.475" stop-color="#31ada8"/><stop offset="0.487" stop-color="#31afa3"/><stop offset="0.500" stop-color="#30abac"/><stop offset="0.512" stop-color="#3abb83"/><stop offset="0.525" stop-color="#47c078"/><stop offset="0.545" stop-color="#6ccc7a"/><stop offset="0.570" stop-color="#71cd7b"/><stop offset="0.600" stop-color="#65c979"/><stop offset="0.635" stop-color="#49c176"/><stop offset="0.675" stop-color="#2ca5bc"/><stop offset="0.725" stop-color="#2596d5"/><stop offset="0.800" stop-color="#2780d4"/><stop offset="0.900" stop-color="#2877d1"/><stop offset="1.000" stop-color="#2976d0"/></linearGradient><linearGradient id="g162"><stop offset="0.000" stop-color="#2971ce"/><stop offset="0.100" stop-color="#2971ce"/><stop offset="0.200" stop-color="#2974d0"/><stop offset="0.275" stop-color="#287ed3"/><stop offset="0.325" stop-color="#2592d6"/><stop offset="0.365" stop-color="#259dd1"/><stop offset="0.400" stop-color="#2aa2c3"/><stop offset="0.430" stop-color="#2da7b8"/><stop offset="0.455" stop-color="#30aab1"/><stop offset="0.475" stop-color="#30abac"/><stop offset="0.487" stop-color="#2fa9b2"/><stop offset="0.500" stop-color="#2da6b9"/><stop offset="0.512" stop-color="#33b396"/><stop offset="0.525" stop-color="#41bd7d"/><stop offset="0.545" stop-color="#56c576"/><stop offset="0.570" stop-color="#5fc878"/><stop offset="0.600" stop-color="#4bc274"/><stop offset="0.635" stop-color="#3cbc81"/><stop offset="0.675" stop-color="#2aa2c3"/><stop offset="0.725" stop-color="#2591d6"/><stop offset="0.800" stop-color="#287ed3"/><stop offset="0.900" stop-color="#2971ce"/><stop offset="1.000" stop-color="#2971ce"/></linearGradient><linearGradient id="g163"><stop offset="0.000" stop-color="#2971ce"/><stop offset="0.100" stop-color="#2971ce"/><stop offset="0.200" stop-color="#2974cf"/><stop offset="0.275" stop-color="#287cd3"/><stop offset="0.325" stop-color="#258fd7"/><stop offset="0.365" stop-color="#249cd4"/><stop offset="0.400" stop-color="#28a1c7"/><stop offset="0.430" stop-color="#2ba4c0"/><stop offset="0.455" stop-color="#2fa9b3"/><stop offset="0.475" stop-color="#2ea8b5"/><stop offset="0.487" stop-color="#30aab0"/><stop offset="0.500" stop-color="#2da6ba"/><stop offset="0.512" stop-color="#33b592"/><stop offset="0.525" stop-color="#3fbc7f"/><stop offset="0.545" stop-color="#50c375"/><stop offset="0.570" stop-color="#55c576"/><stop offset="0.600" stop-color="#49c177"/><stop offset="0.635" stop-color="#37b985"/><stop offset="0.675" stop-color="#279fcc"/><stop offset="0.725" stop-color="#258fd7"/><stop offset="0.800" stop-color="#287cd3"/><stop offset="0.900" stop-color="#2973cf"/><stop offset="1.000" stop-color="#2970ce"/></linearGradient><linearGradient id="g164"><stop offset="0.000" stop-color="#2971ce"/><stop offset="0.100" stop-color="#2970ce"/><stop offset="0.200" stop-color="#2971cf"/><stop offset="0.275" stop-color="#2878d1"/><stop offset="0.325" stop-color="#268dd7"/><stop offset="0.365" stop-color="#2498d5"/><stop offset="0.400" stop-color="#269ecf"/><stop offset="0.430" stop-color="#2aa3c2"/><stop offset="0.455" stop-color="#2ca6bb"/><stop offset="0.475" stop-color="#2ea8b6"/><stop offset="0.487" stop-color="#2da6ba"/><stop offset="0.500" stop-color="#2ba4be"/><stop offset="0.512" stop-color="#32b19c"/><stop offset="0.525" stop-color="#35b887"/><stop offset="0.545" stop-color="#41be7d"/><stop offset="0.570" stop-color="#4dc274"/><stop offset="0.600" stop-color="#45bf7a"/><stop offset="0.635" stop-color="#34b68d"/><stop offset="0.675" stop-color="#269ecf"/><stop offset="0.725" stop-color="#268cd7"/><stop offset="0.800" stop-color="#2878d1"/><stop offset="0.900" stop-color="#2970ce"/><stop offset="1.000" stop-color="#296fce"/></linearGradient><linearGradient id="g165"><stop offset="0.000" stop-color="#2a6bcc"/><stop offset="0.100" stop-color="#2a6ecd"/><stop offset="0.200" stop-color="#2a6dcd"/><stop offset="0.275" stop-color="#2972cf"/><stop offset="0.325" stop-color="#2784d6"/><stop offset="0.365" stop-color="#258fd7"/><stop offset="0.400" stop-color="#2499d5"/><stop offset="0.430" stop-color="#269ece"/><stop offset="0.455" stop-color="#29a2c4"/><stop offset="0.475" stop-color="#2aa3c2"/><stop offset="0.487" stop-color="#29a2c5"/><stop offset="0.500" stop-color="#29a1c6"/><stop offset="0.512" stop-color="#30abae"/><stop offset="0.525" stop-color="#33b395"/><stop offset="0.545" stop-color="#3dbc80"/><stop offset="0.570" stop-color="#3dbc81"/><stop offset="0.600" stop-color="#38ba84"/><stop offset="0.635" stop-color="#32b29a"/><stop offset="0.675" stop-color="#2498d5"/><stop offset="0.725" stop-color="#2689d8"/><stop offset="0.800" stop-color="#2975d0"/><stop offset="0.900" stop-color="#2a6bcc"/><stop offset="1.000" stop-color="#2a6ecd"/></linearGradient><linearGradient id="g166"><stop offset="0.000" stop-color="#2a6bcc"/><stop offset="0.100" stop-color="#2a68cb"/><stop offset="0.200" stop-color="#2a69cb"/><stop offset="0.275" stop-color="#296fce"/><stop offset="0.325" stop-color="#2781d5"/><stop offset="0.365" stop-color="#268bd8"/><stop offset="0.400" stop-color="#2593d6"/><stop offset="0.430" stop-color="#249bd4"/><stop offset="0.455" stop-color="#279fcc"/><stop offset="0.475" stop-color="#28a1c8"/><stop offset="0.487" stop-color="#27a0cb"/><stop offset="0.500" stop-color="#28a1c7"/><stop offset="0.512" stop-color="#2ea8b5"/><stop offset="0.525" stop-color="#32b19d"/><stop offset="0.545" stop-color="#34b68d"/><stop offset="0.570" stop-color="#37b986"/><stop offset="0.600" stop-color="#33b68e"/><stop offset="0.635" stop-color="#31ada6"/><stop offset="0.675" stop-color="#2594d6"/><stop offset="0.725" stop-color="#2784d6"/><stop offset="0.800" stop-color="#2972cf"/><stop offset="0.900" stop-color="#2a6ccc"/><stop offset="1.000" stop-color="#2a68cb"/></linearGradient><linearGradient id="g167"><stop offset="0.000" stop-color="#2a6ccc"/><stop offset="0.100" stop-color="#2a6ccc"/><stop offset="0.200" stop-color="#2a6acc"/><stop offset="0.275" stop-color="#2972cf"/><stop offset="0.325" stop-color="#277fd4"/><stop offset="0.365" stop-color="#268bd8"/><stop offset="0.400" stop-color="#2592d6"/><stop offset="0.430" stop-color="#249ad4"/><stop offset="0.455" stop-color="#259dd0"/><stop offset="0.475" stop-color="#28a0c9"/><stop offset="0.487" stop-color="#28a1c7"/><stop offset="0.500" stop-color="#28a1c7"/><stop offset="0.512" stop-color="#2ea8b6"/><stop offset="0.525" stop-color="#31aea5"/><stop offset="0.545" stop-color="#33b591"/><stop offset="0.570" stop-color="#34b78b"/><stop offset="0.600" stop-color="#34b78b"/><stop offset="0.635" stop-color="#31acaa"/><stop offset="0.675" stop-color="#2594d6"/><stop offset="0.725" stop-color="#2781d5"/><stop offset="0.800" stop-color="#296fce"/><stop offset="0.900" stop-color="#2a6ccc"/><stop offset="1.000" stop-color="#2a6bcc"/></linearGradient><linearGradient id="g168"><stop offset="0.000" stop-color="#2a6acc"/><stop offset="0.100" stop-color="#2a6acc"/><stop offset="0.200" stop-color="#2a6bcc"/><stop offset="0.275" stop-color="#2a6ccd"/><stop offset="0.325" stop-color="#2879d2"/><stop offset="0.365" stop-color="#2785d6"/><stop offset="0.400" stop-color="#268ed7"/><stop offset="0.430" stop-color="#2595d6"/><stop offset="0.455" stop-color="#2499d5"/><stop offset="0.475" stop-color="#259dd1"/><stop offset="0.487" stop-color="#259dd0"/><stop offset="0.500" stop-color="#269ece"/><stop offset="0.512" stop-color="#2ba4c0"/><stop offset="0.525" stop-color="#30aab0"/><stop offset="0.545" stop-color="#32b299"/><stop offset="0.570" stop-color="#32b397"/><stop offset="0.600" stop-color="#32b299"/><stop offset="0.635" stop-color="#2fa9b2"/><stop offset="0.675" stop-color="#258fd7"/><stop offset="0.725" stop-color="#287dd3"/><stop offset="0.800" stop-color="#2a6dcd"/><stop offset="0.900" stop-color="#2a6acc"/><stop offset="1.000" stop-color="#2a68cb"/></linearGradient><linearGradient id="g169"><stop offset="0.000" stop-color="#2b64c9"/><stop offset="0.100" stop-color="#2b63c9"/><stop offset="0.200" stop-color="#2b61c8"/><stop offset="0.275" stop-color="#2b64ca"/><stop offset="0.325" stop-color="#2970ce"/><stop offset="0.365" stop-color="#2877d1"/><stop offset="0.400" stop-color="#2781d4"/><stop offset="0.430" stop-color="#2689d8"/><stop offset="0.455" stop-color="#258fd7"/><stop offset="0.475" stop-color="#2594d6"/><stop offset="0.487" stop-color="#2596d5"/><stop offset="0.500" stop-color="#2595d6"/><stop offset="0.512" stop-color="#269fcd"/><stop offset="0.525" stop-color="#2aa3c1"/><stop offset="0.545" stop-color="#30aaaf"/><stop offset="0.570" stop-color="#31acaa"/><stop offset="0.600" stop-color="#2fa9b4"/><stop offset="0.635" stop-color="#2aa3c2"/><stop offset="0.675" stop-color="#2782d5"/><stop offset="0.725" stop-color="#2971ce"/><stop offset="0.800" stop-color="#2b65ca"/><stop offset="0.900" stop-color="#2b61c8"/><stop offset="1.000" stop-color="#2b64c9"/></linearGradient><linearGradient id="g170"><stop offset="0.000" stop-color="#2b62c9"/><stop offset="0.100" stop-color="#2b62c9"/><stop offset="0.200" stop-color="#2b64c9"/><stop offset="0.275" stop-color="#2a68cb"/><stop offset="0.325" stop-color="#2971ce"/><stop offset="0.365" stop-color="#2877d1"/><stop offset="0.400" stop-color="#2782d5"/><stop offset="0.430" stop-color="#268bd8"/><stop offset="0.455" stop-color="#258fd7"/><stop offset="0.475" stop-color="#2593d6"/><stop offset="0.487" stop-color="#2597d5"/><stop offset="0.500" stop-color="#2596d5"/><stop offset="0.512" stop-color="#259dd1"/><stop offset="0.525" stop-color="#2aa4c1"/><stop offset="0.545" stop-color="#2fa9b2"/><stop offset="0.570" stop-color="#30aaaf"/><stop offset="0.600" stop-color="#30aaaf"/><stop offset="0.635" stop-color="#2aa3c3"/><stop offset="0.675" stop-color="#2783d5"/><stop offset="0.725" stop-color="#2971ce"/><stop offset="0.800" stop-color="#2b66ca"/><stop offset="0.900" stop-color="#2b62c9"/><stop offset="1.000" stop-color="#2b63c9"/></linearGradient><linearGradient id="g171"><stop offset="0.000" stop-color="#2b60c8"/><stop offset="0.100" stop-color="#2b60c8"/><stop offset="0.200" stop-color="#2b60c8"/><stop offset="0.275" stop-color="#2b61c8"/><stop offset="0.325" stop-color="#2a67cb"/><stop offset="0.365" stop-color="#2a6ecd"/><stop offset="0.400" stop-color="#2878d1"/><stop offset="0.430" stop-color="#2781d5"/><stop offset="0.455" stop-color="#2687d7"/><stop offset="0.475" stop-color="#268cd8"/><stop offset="0.487" stop-color="#268cd7"/><stop offset="0.500" stop-color="#268ed7"/><stop offset="0.512" stop-color="#2595d6"/><stop offset="0.525" stop-color="#269ecf"/><stop offset="0.545" stop-color="#2ba4c0"/><stop offset="0.570" stop-color="#2ba4bf"/><stop offset="0.600" stop-color="#2ba4c0"/><stop offset="0.635" stop-color="#249cd4"/><stop offset="0.675" stop-color="#2878d1"/><stop offset="0.725" stop-color="#2a6ccd"/><stop offset="0.800" stop-color="#2b60c8"/><stop offset="0.900" stop-color="#2b60c8"/><stop offset="1.000" stop-color="#2c5ec7"/></linearGradient><linearGradient id="g172"><stop offset="0.000" stop-color="#2c5cc6"/><stop offset="0.100" stop-color="#2c5dc7"/><stop offset="0.200" stop-color="#2c5bc6"/><stop offset="0.275" stop-color="#2b60c8"/><stop offset="0.325" stop-color="#2b65ca"/><stop offset="0.365" stop-color="#2a6acc"/><stop offset="0.400" stop-color="#2972cf"/><stop offset="0.430" stop-color="#2878d1"/><stop offset="0.455" stop-color="#277fd4"/><stop offset="0.475" stop-color="#2688d7"/><stop offset="0.487" stop-color="#268ad8"/><stop offset="0.500" stop-color="#268cd7"/><stop offset="0.512" stop-color="#2590d7"/><stop offset="0.525" stop-color="#2499d5"/><stop offset="0.545" stop-color="#279fcb"/><stop offset="0.570" stop-color="#29a2c5"/><stop offset="0.600" stop-color="#28a1c8"/><stop offset="0.635" stop-color="#2498d5"/><stop offset="0.675" stop-color="#2975d0"/><stop offset="0.725" stop-color="#2b66ca"/><stop offset="0.800" stop-color="#2b60c8"/><stop offset="0.900" stop-color="#2c5dc7"/><stop offset="1.000" stop-color="#2c5dc7"/></linearGradient><linearGradient id="g173"><stop offset="0.000" stop-color="#2c5bc6"/><stop offset="0.100" stop-color="#2c5cc6"/><stop offset="0.200" stop-color="#2c5bc6"/><stop offset="0.275" stop-color="#2c5fc7"/><stop offset="0.325" stop-color="#2b61c8"/><stop offset="0.365" stop-color="#2a68cb"/><stop offset="0.400" stop-color="#2970ce"/><stop offset="0.430" stop-color="#2975d0"/><stop offset="0.455" stop-color="#287cd3"/><stop offset="0.475" stop-color="#2785d6"/><stop offset="0.487" stop-color="#2784d6"/><stop offset="0.500" stop-color="#2687d7"/><stop offset="0.512" stop-color="#258fd7"/><stop offset="0.525" stop-color="#2594d6"/><stop offset="0.545" stop-color="#269fcd"/><stop offset="0.570" stop-color="#27a0ca"/><stop offset="0.600" stop-color="#269ecf"/><stop offset="0.635" stop-color="#2591d6"/><stop offset="0.675" stop-color="#2970ce"/><stop offset="0.725" stop-color="#2b65ca"/><stop offset="0.800" stop-color="#2c5dc7"/><stop offset="0.900" stop-color="#2c5cc7"/><stop offset="1.000" stop-color="#2c5cc6"/></linearGradient><linearGradient id="g174"><stop offset="0.000" stop-color="#2d59c4"/><stop offset="0.100" stop-color="#2d59c4"/><stop offset="0.200" stop-color="#2d5ac4"/><stop offset="0.275" stop-color="#2d5ac4"/><stop offset="0.325" stop-color="#2c5ec7"/><stop offset="0.365" stop-color="#2b63c9"/><stop offset="0.400" stop-color="#2a69cb"/><stop offset="0.430" stop-color="#2a6dcd"/><stop offset="0.455" stop-color="#2974d0"/><stop offset="0.475" stop-color="#2878d1"/><stop offset="0.487" stop-color="#287bd2"/><stop offset="0.500" stop-color="#287dd3"/><stop offset="0.512" stop-color="#2786d6"/><stop offset="0.525" stop-color="#268ed7"/><stop offset="0.545" stop-color="#2597d5"/><stop offset="0.570" stop-color="#249bd4"/><stop offset="0.600" stop-color="#2498d5"/><stop offset="0.635" stop-color="#2689d8"/><stop offset="0.675" stop-color="#2a6acc"/><stop offset="0.725" stop-color="#2c5ec7"/><stop offset="0.800" stop-color="#2c5ac5"/><stop offset="0.900" stop-color="#2d59c4"/><stop offset="1.000" stop-color="#2d58c2"/></linearGradient><linearGradient id="g175"><stop offset="0.000" stop-color="#2d58c2"/><stop offset="0.100" stop-color="#2e57c1"/><stop offset="0.200" stop-color="#2e57c1"/><stop offset="0.275" stop-color="#2d58c1"/><stop offset="0.325" stop-color="#2c5ac5"/><stop offset="0.365" stop-color="#2c5fc7"/><stop offset="0.400" stop-color="#2b65ca"/><stop offset="0.430" stop-color="#2a69cb"/><stop offset="0.455" stop-color="#2972cf"/><stop offset="0.475" stop-color="#2975d0"/><stop offset="0.487" stop-color="#2879d1"/><stop offset="0.500" stop-color="#287ad2"/><stop offset="0.512" stop-color="#287ed3"/><stop offset="0.525" stop-color="#2688d7"/><stop offset="0.545" stop-color="#2595d6"/><stop offset="0.570" stop-color="#2595d6"/><stop offset="0.600" stop-color="#2594d6"/><stop offset="0.635" stop-color="#2786d6"/><stop offset="0.675" stop-color="#2a68cb"/><stop offset="0.725" stop-color="#2c5dc7"/><stop offset="0.800" stop-color="#2d59c3"/><stop offset="0.900" stop-color="#2d58c2"/><stop offset="1.000" stop-color="#2d58c2"/></linearGradient><linearGradient id="g176"><stop offset="0.000" stop-color="#2e57c1"/><stop offset="0.100" stop-color="#2e57c0"/><stop offset="0.200" stop-color="#2e57c1"/><stop offset="0.275" stop-color="#2e57c1"/><stop offset="0.325" stop-color="#2d5ac4"/><stop offset="0.365" stop-color="#2c5dc7"/><stop offset="0.400" stop-color="#2b60c8"/><stop offset="0.430" stop-color="#2a68cb"/><stop offset="0.455" stop-color="#2a6ccd"/><stop offset="0.475" stop-color="#2972cf"/><stop offset="0.487" stop-color="#2972cf"/><stop offset="0.500" stop-color="#2879d1"/><stop offset="0.512" stop-color="#287cd3"/><stop offset="0.525" stop-color="#2783d5"/><stop offset="0.545" stop-color="#2591d6"/><stop offset="0.570" stop-color="#2592d6"/><stop offset="0.600" stop-color="#268ed7"/><stop offset="0.635" stop-color="#277ed4"/><stop offset="0.675" stop-color="#2b64ca"/><stop offset="0.725" stop-color="#2c5bc6"/><stop offset="0.800" stop-color="#2e57c0"/><stop offset="0.900" stop-color="#2e56bf"/><stop offset="1.000" stop-color="#2e56bf"/></linearGradient><linearGradient id="g177"><stop offset="0.000" stop-color="#2d58c2"/><stop offset="0.100" stop-color="#2e57c0"/><stop offset="0.200" stop-color="#2e56bf"/><stop offset="0.275" stop-color="#2e57c0"/><stop offset="0.325" stop-color="#2c5ac5"/><stop offset="0.365" stop-color="#2c5cc7"/><stop offset="0.400" stop-color="#2b62c9"/><stop offset="0.430" stop-color="#2b67ca"/><stop offset="0.455" stop-color="#2a6dcd"/><stop offset="0.475" stop-color="#2971ce"/><stop offset="0.487" stop-color="#2973cf"/><stop offset="0.500" stop-color="#2877d1"/><stop offset="0.512" stop-color="#2879d1"/><stop offset="0.525" stop-color="#2786d6"/><stop offset="0.545" stop-color="#2590d7"/><stop offset="0.570" stop-color="#2592d6"/><stop offset="0.600" stop-color="#2591d6"/><stop offset="0.635" stop-color="#287cd3"/><stop offset="0.675" stop-color="#2b63c9"/><stop offset="0.725" stop-color="#2c5bc5"/><stop offset="0.800" stop-color="#2e57c1"/><stop offset="0.900" stop-color="#2e57c1"/><stop offset="1.000" stop-color="#2e57c0"/></linearGradient><linearGradient id="g178"><stop offset="0.000" stop-color="#3052ba"/><stop offset="0.100" stop-color="#3053bb"/><stop offset="0.200" stop-color="#2f53bc"/><stop offset="0.275" stop-color="#3052ba"/><stop offset="0.325" stop-color="#2f54bc"/><stop offset="0.365" stop-color="#2e56bf"/><stop offset="0.400" stop-color="#2d5ac4"/><stop offset="0.430" stop-color="#2c5dc7"/><stop offset="0.455" stop-color="#2b61c8"/><stop offset="0.475" stop-color="#2a67cb"/><stop offset="0.487" stop-color="#2a68cb"/><stop offset="0.500" stop-color="#2a6bcc"/><stop offset="0.512" stop-color="#296fce"/><stop offset="0.525" stop-color="#2974cf"/><stop offset="0.545" stop-color="#2782d5"/><stop offset="0.570" stop-color="#2687d7"/><stop offset="0.600" stop-color="#2781d5"/><stop offset="0.635" stop-color="#2a6ecd"/><stop offset="0.675" stop-color="#2d5ac4"/><stop offset="0.725" stop-color="#2e56bf"/><stop offset="0.800" stop-color="#3052ba"/><stop offset="0.900" stop-color="#2f53bb"/><stop offset="1.000" stop-color="#3052bb"/></linearGradient><linearGradient id="g179"><stop offset="0.000" stop-color="#3053bb"/><stop offset="0.100" stop-color="#3051b9"/><stop offset="0.200" stop-color="#3052ba"/><stop offset="0.275" stop-color="#3052bb"/><stop offset="0.325" stop-color="#2f53bb"/><stop offset="0.365" stop-color="#2e55bf"/><stop offset="0.400" stop-color="#2d58c2"/><stop offset="0.430" stop-color="#2c5bc6"/><stop offset="0.455" stop-color="#2b60c8"/><stop offset="0.475" stop-color="#2b65ca"/><stop offset="0.487" stop-color="#2b65ca"/><stop offset="0.500" stop-color="#2a69cb"/><stop offset="0.512" stop-color="#2a6dcd"/><stop offset="0.525" stop-color="#2973cf"/><stop offset="0.545" stop-color="#2781d4"/><stop offset="0.570" stop-color="#2786d6"/><stop offset="0.600" stop-color="#287dd3"/><stop offset="0.635" stop-color="#2a6ecd"/><stop offset="0.675" stop-color="#2c5ac5"/><stop offset="0.725" stop-color="#2f55be"/><stop offset="0.800" stop-color="#3052ba"/><stop offset="0.900" stop-color="#3052ba"/><stop offset="1.000" stop-color="#3052ba"/></linearGradient><linearGradient id="g180"><stop offset="0.000" stop-color="#3150b8"/><stop offset="0.100" stop-color="#3150b7"/><stop offset="0.200" stop-color="#3150b7"/><stop offset="0.275" stop-color="#3150b7"/><stop offset="0.325" stop-color="#3051b9"/><stop offset="0.365" stop-color="#2f53bb"/><stop offset="0.400" stop-color="#2f55bd"/><stop offset="0.430" stop-color="#2d58c2"/><stop offset="0.455" stop-color="#2c5bc6"/><stop offset="0.475" stop-color="#2c5fc7"/><stop offset="0.487" stop-color="#2b63c9"/><stop offset="0.500" stop-color="#2b66ca"/><stop offset="0.512" stop-color="#2b66ca"/><stop offset="0.525" stop-color="#2a6ccc"/><stop offset="0.545" stop-color="#2878d1"/><stop offset="0.570" stop-color="#287ed3"/><stop offset="0.600" stop-color="#2879d2"/><stop offset="0.635" stop-color="#2a68cb"/><stop offset="0.675" stop-color="#2e57c1"/><stop offset="0.725" stop-color="#3052bb"/><stop offset="0.800" stop-color="#3150b8"/><stop offset="0.900" stop-color="#3150b7"/><stop offset="1.000" stop-color="#3050b8"/></linearGradient><linearGradient id="g181"><stop offset="0.000" stop-color="#314fb6"/><stop offset="0.100" stop-color="#324eb4"/><stop offset="0.200" stop-color="#324eb4"/><stop offset="0.275" stop-color="#314fb6"/><stop offset="0.325" stop-color="#314fb5"/><stop offset="0.365" stop-color="#3150b7"/><stop offset="0.400" stop-color="#3051b9"/><stop offset="0.430" stop-color="#2f54bd"/><stop offset="0.455" stop-color="#2d59c3"/><stop offset="0.475" stop-color="#2c5cc6"/><stop offset="0.487" stop-color="#2c5bc6"/><stop offset="0.500" stop-color="#2c5dc7"/><stop offset="0.512" stop-color="#2b62c9"/><stop offset="0.525" stop-color="#2b65ca"/><stop offset="0.545" stop-color="#2971ce"/><stop offset="0.570" stop-color="#2973cf"/><stop offset="0.600" stop-color="#2970ce"/><stop offset="0.635" stop-color="#2b62c9"/><stop offset="0.675" stop-color="#2f54bc"/><stop offset="0.725" stop-color="#3150b7"/><stop offset="0.800" stop-color="#324eb4"/><stop offset="0.900" stop-color="#324eb4"/><stop offset="1.000" stop-color="#314fb5"/></linearGradient><linearGradient id="g182"><stop offset="0.000" stop-color="#324db4"/><stop offset="0.100" stop-color="#324db3"/><stop offset="0.200" stop-color="#324db3"/><stop offset="0.275" stop-color="#324db3"/><stop offset="0.325" stop-color="#314eb5"/><stop offset="0.365" stop-color="#314fb6"/><stop offset="0.400" stop-color="#3150b7"/><stop offset="0.430" stop-color="#2f53bb"/><stop offset="0.455" stop-color="#2e56bf"/><stop offset="0.475" stop-color="#2d58c2"/><stop offset="0.487" stop-color="#2c5ac5"/><stop offset="0.500" stop-color="#2c5dc7"/><stop offset="0.512" stop-color="#2c5fc7"/><stop offset="0.525" stop-color="#2b63c9"/><stop offset="0.545" stop-color="#2a6dcd"/><stop offset="0.570" stop-color="#2971ce"/><stop offset="0.600" stop-color="#2a6bcc"/><stop offset="0.635" stop-color="#2c5fc7"/><stop offset="0.675" stop-color="#3052ba"/><stop offset="0.725" stop-color="#314fb5"/><stop offset="0.800" stop-color="#324db3"/><stop offset="0.900" stop-color="#324db3"/><stop offset="1.000" stop-color="#324db3"/></linearGradient><linearGradient id="g183"><stop offset="0.000" stop-color="#334bb1"/><stop offset="0.100" stop-color="#334bb1"/><stop offset="0.200" stop-color="#334bb1"/><stop offset="0.275" stop-color="#334cb1"/><stop offset="0.325" stop-color="#324cb2"/><stop offset="0.365" stop-color="#324db3"/><stop offset="0.400" stop-color="#314eb5"/><stop offset="0.430" stop-color="#3051b9"/><stop offset="0.455" stop-color="#2f54bc"/><stop offset="0.475" stop-color="#2e56bf"/><stop offset="0.487" stop-color="#2d58c2"/><stop offset="0.500" stop-color="#2d59c3"/><stop offset="0.512" stop-color="#2c5bc6"/><stop offset="0.525" stop-color="#2c5ec7"/><stop offset="0.545" stop-color="#2a67cb"/><stop offset="0.570" stop-color="#2a6bcc"/><stop offset="0.600" stop-color="#2a68cb"/><stop offset="0.635" stop-color="#2d59c4"/><stop offset="0.675" stop-color="#3150b7"/><stop offset="0.725" stop-color="#324db3"/><stop offset="0.800" stop-color="#334bb1"/><stop offset="0.900" stop-color="#334bb1"/><stop offset="1.000" stop-color="#334cb2"/></linearGradient><linearGradient id="g184"><stop offset="0.000" stop-color="#3449ae"/><stop offset="0.100" stop-color="#3449ae"/><stop offset="0.200" stop-color="#3448ad"/><stop offset="0.275" stop-color="#3449ad"/><stop offset="0.325" stop-color="#3449ae"/><stop offset="0.365" stop-color="#3349ae"/><stop offset="0.400" stop-color="#334ab0"/><stop offset="0.430" stop-color="#324db3"/><stop offset="0.455" stop-color="#314fb6"/><stop offset="0.475" stop-color="#3051b8"/><stop offset="0.487" stop-color="#2f53bc"/><stop offset="0.500" stop-color="#2f54bd"/><stop offset="0.512" stop-color="#2f55be"/><stop offset="0.525" stop-color="#2e57c0"/><stop offset="0.545" stop-color="#2c5fc7"/><stop offset="0.570" stop-color="#2b63c9"/><stop offset="0.600" stop-color="#2c5ec7"/><stop offset="0.635" stop-color="#2f54bd"/><stop offset="0.675" stop-color="#334cb2"/><stop offset="0.725" stop-color="#3449ae"/><stop offset="0.800" stop-color="#3448ad"/><stop offset="0.900" stop-color="#3448ad"/><stop offset="1.000" stop-color="#3449ae"/></linearGradient><linearGradient id="g185"><stop offset="0.000" stop-color="#3546aa"/><stop offset="0.100" stop-color="#3546aa"/><stop offset="0.200" stop-color="#3546aa"/><stop offset="0.275" stop-color="#3546aa"/><stop offset="0.325" stop-color="#3546aa"/><stop offset="0.365" stop-color="#3447ac"/><stop offset="0.400" stop-color="#3448ad"/><stop offset="0.430" stop-color="#3349af"/><stop offset="0.455" stop-color="#324cb2"/><stop offset="0.475" stop-color="#314eb5"/><stop offset="0.487" stop-color="#3150b7"/><stop offset="0.500" stop-color="#3051b8"/><stop offset="0.512" stop-color="#3052ba"/><stop offset="0.525" stop-color="#2f53bb"/><stop offset="0.545" stop-color="#2d59c3"/><stop offset="0.570" stop-color="#2c5ac5"/><stop offset="0.600" stop-color="#2d58c2"/><stop offset="0.635" stop-color="#3150b7"/><stop offset="0.675" stop-color="#3449ae"/><stop offset="0.725" stop-color="#3447ac"/><stop offset="0.800" stop-color="#3546ab"/><stop offset="0.900" stop-color="#3547ab"/><stop offset="1.000" stop-color="#3546aa"/></linearGradient><linearGradient id="g186"><stop offset="0.000" stop-color="#3644a7"/><stop offset="0.100" stop-color="#3644a8"/><stop offset="0.200" stop-color="#3644a8"/><stop offset="0.275" stop-color="#3644a8"/><stop offset="0.325" stop-color="#3644a8"/><stop offset="0.365" stop-color="#3545a8"/><stop offset="0.400" stop-color="#3546aa"/><stop offset="0.430" stop-color="#3447ac"/><stop offset="0.455" stop-color="#3449ae"/><stop offset="0.475" stop-color="#334bb0"/><stop offset="0.487" stop-color="#324cb2"/><stop offset="0.500" stop-color="#324eb4"/><stop offset="0.512" stop-color="#314eb5"/><stop offset="0.525" stop-color="#3051b8"/><stop offset="0.545" stop-color="#2e55be"/><stop offset="0.570" stop-color="#2e56bf"/><stop offset="0.600" stop-color="#2f54bd"/><stop offset="0.635" stop-color="#324cb3"/><stop offset="0.675" stop-color="#3547ab"/><stop offset="0.725" stop-color="#3545a9"/><stop offset="0.800" stop-color="#3644a7"/><stop offset="0.900" stop-color="#3644a7"/><stop offset="1.000" stop-color="#3644a8"/></linearGradient><linearGradient id="g187"><stop offset="0.000" stop-color="#3643a6"/><stop offset="0.100" stop-color="#3643a6"/><stop offset="0.200" stop-color="#3643a6"/><stop offset="0.275" stop-color="#3643a6"/><stop offset="0.325" stop-color="#3643a6"/><stop offset="0.365" stop-color="#3643a7"/><stop offset="0.400" stop-color="#3644a8"/><stop offset="0.430" stop-color="#3546a9"/><stop offset="0.455" stop-color="#3448ac"/><stop offset="0.475" stop-color="#334aaf"/><stop offset="0.487" stop-color="#334ab0"/><stop offset="0.500" stop-color="#334bb1"/><stop offset="0.512" stop-color="#324db3"/><stop offset="0.525" stop-color="#314fb6"/><stop offset="0.545" stop-color="#3053bb"/><stop offset="0.570" stop-color="#2e55be"/><stop offset="0.600" stop-color="#2f53bc"/><stop offset="0.635" stop-color="#334ab0"/><stop offset="0.675" stop-color="#3545a9"/><stop offset="0.725" stop-color="#3643a7"/><stop offset="0.800" stop-color="#3643a6"/><stop offset="0.900" stop-color="#3643a6"/><stop offset="1.000" stop-color="#3643a6"/></linearGradient><linearGradient id="g188"><stop offset="0.000" stop-color="#3741a4"/><stop offset="0.100" stop-color="#3741a3"/><stop offset="0.200" stop-color="#3741a3"/><stop offset="0.275" stop-color="#3741a4"/><stop offset="0.325" stop-color="#3741a4"/><stop offset="0.365" stop-color="#3742a4"/><stop offset="0.400" stop-color="#3742a5"/><stop offset="0.430" stop-color="#3643a6"/><stop offset="0.455" stop-color="#3545a9"/><stop offset="0.475" stop-color="#3447ab"/><stop offset="0.487" stop-color="#3448ad"/><stop offset="0.500" stop-color="#334aaf"/><stop offset="0.512" stop-color="#334ab0"/><stop offset="0.525" stop-color="#324cb2"/><stop offset="0.545" stop-color="#3050b8"/><stop offset="0.570" stop-color="#3052ba"/><stop offset="0.600" stop-color="#314fb6"/><stop offset="0.635" stop-color="#3448ad"/><stop offset="0.675" stop-color="#3643a6"/><stop offset="0.725" stop-color="#3742a4"/><stop offset="0.800" stop-color="#3741a4"/><stop offset="0.900" stop-color="#3741a4"/><stop offset="1.000" stop-color="#3741a4"/></linearGradient></defs>
<rect x="747.9" y="1988.40" width="113.5" height="5.63" fill="url(#g141)"/><rect x="747.9" y="1993.03" width="113.5" height="5.63" fill="url(#g142)"/><rect x="747.9" y="1997.66" width="113.5" height="5.63" fill="url(#g143)"/><rect x="747.9" y="2002.29" width="113.5" height="5.63" fill="url(#g144)"/><rect x="747.9" y="2006.93" width="113.5" height="5.63" fill="url(#g145)"/><rect x="747.9" y="2011.56" width="113.5" height="5.63" fill="url(#g146)"/><rect x="747.9" y="2016.19" width="113.5" height="5.63" fill="url(#g147)"/><rect x="747.9" y="2020.82" width="113.5" height="5.63" fill="url(#g148)"/><rect x="747.9" y="2025.45" width="113.5" height="5.63" fill="url(#g149)"/><rect x="747.9" y="2030.08" width="113.5" height="5.63" fill="url(#g150)"/><rect x="747.9" y="2034.71" width="113.5" height="5.63" fill="url(#g151)"/><rect x="747.9" y="2039.34" width="113.5" height="5.63" fill="url(#g152)"/><rect x="747.9" y="2043.97" width="113.5" height="5.63" fill="url(#g153)"/><rect x="747.9" y="2048.61" width="113.5" height="5.63" fill="url(#g154)"/><rect x="747.9" y="2053.24" width="113.5" height="5.63" fill="url(#g155)"/><rect x="747.9" y="2057.87" width="113.5" height="5.63" fill="url(#g156)"/><rect x="747.9" y="2062.50" width="113.5" height="5.63" fill="url(#g157)"/><rect x="747.9" y="2067.13" width="113.5" height="5.63" fill="url(#g158)"/><rect x="747.9" y="2071.76" width="113.5" height="5.63" fill="url(#g159)"/><rect x="747.9" y="2076.39" width="113.5" height="5.63" fill="url(#g160)"/><rect x="747.9" y="2081.03" width="113.5" height="5.63" fill="url(#g161)"/><rect x="747.9" y="2085.66" width="113.5" height="5.63" fill="url(#g162)"/><rect x="747.9" y="2090.29" width="113.5" height="5.63" fill="url(#g163)"/><rect x="747.9" y="2094.92" width="113.5" height="5.63" fill="url(#g164)"/><rect x="747.9" y="2099.55" width="113.5" height="5.63" fill="url(#g165)"/><rect x="747.9" y="2104.18" width="113.5" height="5.63" fill="url(#g166)"/><rect x="747.9" y="2108.81" width="113.5" height="5.63" fill="url(#g167)"/><rect x="747.9" y="2113.44" width="113.5" height="5.63" fill="url(#g168)"/><rect x="747.9" y="2118.07" width="113.5" height="5.63" fill="url(#g169)"/><rect x="747.9" y="2122.71" width="113.5" height="5.63" fill="url(#g170)"/><rect x="747.9" y="2127.34" width="113.5" height="5.63" fill="url(#g171)"/><rect x="747.9" y="2131.97" width="113.5" height="5.63" fill="url(#g172)"/><rect x="747.9" y="2136.60" width="113.5" height="5.63" fill="url(#g173)"/><rect x="747.9" y="2141.23" width="113.5" height="5.63" fill="url(#g174)"/><rect x="747.9" y="2145.86" width="113.5" height="5.63" fill="url(#g175)"/><rect x="747.9" y="2150.49" width="113.5" height="5.63" fill="url(#g176)"/><rect x="747.9" y="2155.12" width="113.5" height="5.63" fill="url(#g177)"/><rect x="747.9" y="2159.76" width="113.5" height="5.63" fill="url(#g178)"/><rect x="747.9" y="2164.39" width="113.5" height="5.63" fill="url(#g179)"/><rect x="747.9" y="2169.02" width="113.5" height="5.63" fill="url(#g180)"/><rect x="747.9" y="2173.65" width="113.5" height="5.63" fill="url(#g181)"/><rect x="747.9" y="2178.28" width="113.5" height="5.63" fill="url(#g182)"/><rect x="747.9" y="2182.91" width="113.5" height="5.63" fill="url(#g183)"/><rect x="747.9" y="2187.54" width="113.5" height="5.63" fill="url(#g184)"/><rect x="747.9" y="2192.17" width="113.5" height="5.63" fill="url(#g185)"/><rect x="747.9" y="2196.81" width="113.5" height="5.63" fill="url(#g186)"/><rect x="747.9" y="2201.44" width="113.5" height="5.63" fill="url(#g187)"/><rect x="747.9" y="2206.07" width="113.5" height="5.63" fill="url(#g188)"/>
<rect x="621.80" y="1988.40" width="112.00" height="222.30" fill="none" stroke="#333" stroke-width="0.8"/>
<rect x="747.90" y="1988.40" width="113.50" height="222.30" fill="none" stroke="#333" stroke-width="0.8"/>
<rect x="875.30" y="1988.40" width="9.60" height="222.30" fill="url(#cb100)" stroke="#444" stroke-width="0.8"/>
<line x1="884.9" y1="2207.0" x2="887.5" y2="2207.0" stroke="#444" stroke-width="1" stroke-linecap="butt"/>
<text x="889.5" y="2211.8" font-size="12" fill="#222">0</text>
<line x1="884.9" y1="2182.6" x2="887.5" y2="2182.6" stroke="#444" stroke-width="1" stroke-linecap="butt"/>
<text x="889.5" y="2187.4" font-size="12" fill="#222">10</text>
<line x1="884.9" y1="2158.2" x2="887.5" y2="2158.2" stroke="#444" stroke-width="1" stroke-linecap="butt"/>
<text x="889.5" y="2163.0" font-size="12" fill="#222">20</text>
<line x1="884.9" y1="2133.7" x2="887.5" y2="2133.7" stroke="#444" stroke-width="1" stroke-linecap="butt"/>
<text x="889.5" y="2138.5" font-size="12" fill="#222">30</text>
<line x1="884.9" y1="2109.3" x2="887.5" y2="2109.3" stroke="#444" stroke-width="1" stroke-linecap="butt"/>
<text x="889.5" y="2114.1" font-size="12" fill="#222">40</text>
<line x1="884.9" y1="2084.9" x2="887.5" y2="2084.9" stroke="#444" stroke-width="1" stroke-linecap="butt"/>
<text x="889.5" y="2089.7" font-size="12" fill="#222">50</text>
<line x1="884.9" y1="2060.5" x2="887.5" y2="2060.5" stroke="#444" stroke-width="1" stroke-linecap="butt"/>
<text x="889.5" y="2065.3" font-size="12" fill="#222">60</text>
<line x1="884.9" y1="2036.0" x2="887.5" y2="2036.0" stroke="#444" stroke-width="1" stroke-linecap="butt"/>
<text x="889.5" y="2040.8" font-size="12" fill="#222">70</text>
<line x1="884.9" y1="2011.6" x2="887.5" y2="2011.6" stroke="#444" stroke-width="1" stroke-linecap="butt"/>
<text x="889.5" y="2016.4" font-size="12" fill="#222">80</text>
<line x1="884.9" y1="1987.2" x2="887.5" y2="1987.2" stroke="#444" stroke-width="1" stroke-linecap="butt"/>
<text x="889.5" y="1992.0" font-size="12" fill="#222">90</text>
<text x="749.8" y="2235.9" font-size="21.5" text-anchor="middle">gene distance (bp)</text>
<text x="924.5" y="1358.0" font-size="42" font-weight="bold">m</text>
<line x1="1035.6" y1="1379.5" x2="2032.3" y2="1379.5" stroke="#111" stroke-width="3.8" stroke-linecap="butt"/>
<line x1="1147.6" y1="1367.0" x2="1147.6" y2="1379.5" stroke="#111" stroke-width="3.2" stroke-linecap="butt"/>
<line x1="1262.4" y1="1367.0" x2="1262.4" y2="1379.5" stroke="#111" stroke-width="3.2" stroke-linecap="butt"/>
<line x1="1377.4" y1="1367.0" x2="1377.4" y2="1379.5" stroke="#111" stroke-width="3.2" stroke-linecap="butt"/>
<line x1="1493.4" y1="1367.0" x2="1493.4" y2="1379.5" stroke="#111" stroke-width="3.2" stroke-linecap="butt"/>
<line x1="1607.5" y1="1367.0" x2="1607.5" y2="1379.5" stroke="#111" stroke-width="3.2" stroke-linecap="butt"/>
<line x1="1723.4" y1="1367.0" x2="1723.4" y2="1379.5" stroke="#111" stroke-width="3.2" stroke-linecap="butt"/>
<line x1="1839.0" y1="1367.0" x2="1839.0" y2="1379.5" stroke="#111" stroke-width="3.2" stroke-linecap="butt"/>
<line x1="1955.2" y1="1367.0" x2="1955.2" y2="1379.5" stroke="#111" stroke-width="3.2" stroke-linecap="butt"/>
<text x="1150.0" y="1363.5" font-size="17" text-anchor="middle">87,862 kb</text>
<text x="1381.6" y="1363.5" font-size="17" text-anchor="middle">87,864 kb</text>
<text x="1612.2" y="1363.5" font-size="17" text-anchor="middle">87,866 kb</text>
<text x="1843.8" y="1363.5" font-size="17" text-anchor="middle">87,868 kb</text>
<text x="930.6" y="1410.7" font-size="20.5">shStau2<tspan dy="-2">_</tspan></text>
<text x="930.6" y="1429.0" font-size="20.5">H3K4me2</text>
<text x="1031.0" y="1397.6" font-size="16.8">[0 - 100]</text>
<text x="930.6" y="1458.5" font-size="20.5">shCtrl<tspan dy="-2">_</tspan></text>
<text x="930.6" y="1476.7" font-size="20.5">H3K4me2</text>
<text x="1032.0" y="1447.8" font-size="16.8">[0 - 100]</text>
<text x="930.6" y="1502.6" font-size="20.5">shStau2<tspan dy="-2">_</tspan></text>
<text x="930.6" y="1520.9" font-size="20.5">H3K4me3</text>
<text x="1028.0" y="1498.0" font-size="16.8">[0 - 250]</text>
<text x="930.6" y="1549.8" font-size="20.5">shCtrl<tspan dy="-2">_</tspan></text>
<text x="930.6" y="1568.0" font-size="20.5">H3K4me3</text>
<text x="1031.0" y="1540.6" font-size="16.8">[0 - 250]</text>
<text x="935.2" y="1597.5" font-size="20.5">shStau2<tspan dy="-2">_</tspan></text>
<text x="935.2" y="1615.2" font-size="20.5">Input</text>
<text x="1031.0" y="1586.3" font-size="16.8">[0 - 100]</text>
<text x="956.5" y="1644.1" font-size="20.5">shCtrl<tspan dy="-2">_</tspan></text>
<text x="956.5" y="1662.4" font-size="20.5">Input</text>
<text x="1028.0" y="1633.5" font-size="16.8">[0 - 100]</text>
<line x1="1029.6" y1="1429.5" x2="2036.2" y2="1429.5" stroke="#b8b8b8" stroke-width="2.4" stroke-linecap="butt"/>
<path d="M1076.0,1428.6h6.8v-1.5h-6.8ZM1082.8,1428.6h6.1v-5.3h-6.1ZM1088.9,1428.6h15.2v-6.8h-15.2ZM1104.1,1428.6h7.6v-7.9h-7.6ZM1111.7,1428.6h6.1v-9.4h-6.1ZM1117.8,1428.6h6.1v-12.9h-6.1ZM1123.9,1428.6h6.1v-16.4h-6.1ZM1130.0,1428.6h6.8v-18.0h-6.8ZM1136.9,1428.6h5.3v-13.7h-5.3ZM1142.2,1428.6h6.1v-12.8h-6.1ZM1148.3,1428.6h6.1v-9.4h-6.1ZM1154.4,1428.6h9.1v-4.9h-9.1ZM1163.5,1428.6h8.4v-6.8h-8.4ZM1171.9,1428.6h5.3v-5.3h-5.3ZM1197.0,1428.6h9.1v-0.5h-9.1ZM1218.3,1428.6h13.7v-1.5h-13.7ZM1232.0,1428.6h6.1v-3.8h-6.1ZM1238.1,1428.6h6.1v-6.8h-6.1ZM1244.1,1428.6h6.1v-7.9h-6.1ZM1250.2,1428.6h9.1v-11.4h-9.1ZM1259.4,1428.6h8.4v-12.5h-8.4ZM1267.7,1428.6h14.5v-18.0h-14.5ZM1282.2,1428.6h4.6v-16.4h-4.6ZM1286.8,1428.6h11.4v-12.9h-11.4ZM1298.2,1428.6h6.8v-6.1h-6.8ZM1300.0,1428.6h9.1v-5.3h-9.1ZM1353.3,1428.6h6.1v-3.3h-6.1ZM1359.4,1428.6h7.6v-7.9h-7.6ZM1367.0,1428.6h12.2v-6.8h-12.2ZM1379.1,1428.6h3.0v-5.3h-3.0ZM1382.2,1428.6h9.1v-6.8h-9.1ZM1391.3,1428.6h3.0v-8.4h-3.0ZM1394.4,1428.6h6.1v-15.2h-6.1ZM1400.4,1428.6h6.1v-17.8h-6.1ZM1406.5,1428.6h7.6v-16.7h-7.6ZM1414.1,1428.6h3.0v-14.5h-3.0ZM1417.2,1428.6h13.7v-14.9h-13.7ZM1430.9,1428.6h6.1v-9.4h-6.1ZM1437.0,1428.6h6.1v-5.3h-6.1ZM1443.1,1428.6h4.6v-1.8h-4.6ZM1452.2,1428.6h13.7v-1.5h-13.7ZM1475.0,1428.6h12.2v-1.8h-12.2ZM1487.2,1428.6h7.6v-3.3h-7.6ZM1494.8,1428.6h10.7v-2.1h-10.7ZM1514.6,1428.6h6.1v-2.3h-6.1ZM1520.7,1428.6h7.6v-4.9h-7.6ZM1528.3,1428.6h7.6v-2.3h-7.6ZM1543.5,1428.6h12.2v-3.8h-12.2ZM1555.7,1428.6h12.2v-6.8h-12.2ZM1567.8,1428.6h12.2v-4.9h-12.2ZM1575.0,1428.6h15.2v-4.9h-15.2ZM1590.2,1428.6h13.7v-6.8h-13.7ZM1603.9,1428.6h6.1v-4.6h-6.1ZM1610.0,1428.6h4.6v-1.8h-4.6ZM1614.6,1428.6h12.2v-3.0h-12.2ZM1631.3,1428.6h10.7v-1.5h-10.7ZM1642.0,1428.6h12.2v-4.9h-12.2ZM1654.1,1428.6h10.7v-5.8h-10.7ZM1664.8,1428.6h7.6v-7.2h-7.6ZM1672.4,1428.6h9.1v-5.3h-9.1ZM1681.5,1428.6h13.7v-4.6h-13.7ZM1695.2,1428.6h13.7v-6.8h-13.7ZM1708.9,1428.6h24.3v-5.3h-24.3ZM1733.3,1428.6h6.1v-6.1h-6.1ZM1739.4,1428.6h10.7v-6.8h-10.7ZM1750.0,1428.6h12.2v-7.6h-12.2ZM1762.2,1428.6h10.7v-8.4h-10.7ZM1772.8,1428.6h10.7v-9.4h-10.7ZM1783.5,1428.6h32.0v-6.8h-32.0ZM1815.5,1428.6h39.6v-5.8h-39.6ZM1846.0,1428.6h10.2v-4.4h-10.2ZM1856.2,1428.6h17.6v-6.9h-17.6ZM1873.8,1428.6h12.4v-5.1h-12.4ZM1889.9,1428.6h20.5v-2.2h-20.5ZM1910.4,1428.6h8.8v-3.2h-8.8ZM1919.2,1428.6h20.5v-4.7h-20.5ZM1939.6,1428.6h13.2v-3.7h-13.2ZM1952.8,1428.6h10.2v-1.5h-10.2ZM1963.0,1428.6h16.1v-2.2h-16.1ZM1986.5,1428.6h13.2v-1.8h-13.2ZM1999.6,1428.6h5.9v-19.0h-5.9ZM2005.5,1428.6h7.3v-24.1h-7.3ZM2012.8,1428.6h7.3v-19.0h-7.3ZM2020.1,1428.6h10.2v-1.8h-10.2ZM2030.3,1428.6h5.9v-0.6h-5.9Z" fill="#f01818"/>
<line x1="1025.5" y1="1476.0" x2="2037.7" y2="1476.0" stroke="#0a0ab4" stroke-width="3.5" stroke-linecap="butt"/>
<path d="M1025.0,1474.5h57.8v-0.8h-57.8ZM1082.8,1474.5h10.7v-2.7h-10.7ZM1093.5,1474.5h22.8v-6.1h-22.8ZM1116.3,1474.5h7.6v-7.6h-7.6ZM1123.9,1474.5h13.7v-9.1h-13.7ZM1137.6,1474.5h2.3v-6.8h-2.3ZM1139.9,1474.5h12.9v-9.1h-12.9ZM1152.8,1474.5h9.1v-5.8h-9.1ZM1162.0,1474.5h9.1v-4.6h-9.1ZM1171.1,1474.5h6.1v-2.7h-6.1ZM1177.2,1474.5h50.2v-0.8h-50.2ZM1227.4,1474.5h10.7v-2.3h-10.7ZM1238.1,1474.5h12.2v-3.3h-12.2ZM1250.2,1474.5h12.2v-8.4h-12.2ZM1262.4,1474.5h9.1v-10.7h-9.1ZM1271.5,1474.5h12.2v-12.5h-12.2ZM1283.7,1474.5h3.0v-11.4h-3.0ZM1286.8,1474.5h10.7v-10.3h-10.7ZM1297.4,1474.5h7.6v-4.6h-7.6ZM1300.0,1474.5h9.1v-5.6h-9.1ZM1309.1,1474.5h10.7v-3.0h-10.7ZM1319.8,1474.5h16.7v-0.8h-16.7ZM1336.5,1474.5h16.7v-1.8h-16.7ZM1353.3,1474.5h6.1v-6.8h-6.1ZM1359.4,1474.5h7.6v-10.3h-7.6ZM1367.0,1474.5h7.6v-6.8h-7.6ZM1374.6,1474.5h7.6v-4.6h-7.6ZM1382.2,1474.5h12.2v-6.4h-12.2ZM1394.4,1474.5h6.1v-9.1h-6.1ZM1400.4,1474.5h13.7v-14.0h-13.7ZM1414.1,1474.5h3.0v-12.9h-3.0ZM1417.2,1474.5h13.7v-14.0h-13.7ZM1430.9,1474.5h6.1v-11.4h-6.1ZM1437.0,1474.5h6.1v-6.1h-6.1ZM1443.1,1474.5h9.1v-2.3h-9.1ZM1452.2,1474.5h19.8v-4.6h-19.8ZM1472.0,1474.5h13.7v-2.7h-13.7ZM1485.7,1474.5h12.2v-2.3h-12.2ZM1497.8,1474.5h12.2v-4.3h-12.2ZM1510.0,1474.5h10.7v-2.7h-10.7ZM1520.7,1474.5h16.7v-4.3h-16.7ZM1537.4,1474.5h9.1v-5.8h-9.1ZM1546.5,1474.5h12.2v-7.6h-12.2ZM1558.7,1474.5h12.2v-5.3h-12.2ZM1570.9,1474.5h9.1v-4.3h-9.1ZM1575.0,1474.5h18.3v-4.6h-18.3ZM1593.3,1474.5h3.0v-3.3h-3.0ZM1596.3,1474.5h16.7v-4.6h-16.7ZM1613.0,1474.5h7.6v-5.8h-7.6ZM1620.7,1474.5h15.2v-3.3h-15.2ZM1635.9,1474.5h4.6v-5.3h-4.6ZM1640.4,1474.5h15.2v-6.8h-15.2ZM1655.7,1474.5h9.1v-5.3h-9.1ZM1664.8,1474.5h15.2v-6.8h-15.2ZM1680.0,1474.5h7.6v-4.3h-7.6ZM1687.6,1474.5h15.2v-7.9h-15.2ZM1702.8,1474.5h1.5v-4.6h-1.5ZM1704.4,1474.5h16.7v-9.1h-16.7ZM1721.1,1474.5h13.7v-6.8h-13.7ZM1734.8,1474.5h4.6v-4.9h-4.6ZM1739.4,1474.5h12.2v-6.8h-12.2ZM1751.5,1474.5h9.1v-7.9h-9.1ZM1760.7,1474.5h1.5v-4.6h-1.5ZM1762.2,1474.5h15.2v-9.1h-15.2ZM1777.4,1474.5h13.7v-9.4h-13.7ZM1791.1,1474.5h12.2v-10.7h-12.2ZM1803.3,1474.5h9.1v-9.1h-9.1ZM1812.4,1474.5h9.1v-6.8h-9.1ZM1821.5,1474.5h19.8v-4.6h-19.8ZM1841.3,1474.5h7.6v-3.3h-7.6ZM1846.0,1474.5h5.9v-1.5h-5.9ZM1848.9,1474.5h6.1v-4.9h-6.1ZM1851.9,1474.5h21.9v-2.9h-21.9ZM1873.8,1474.5h7.3v-4.0h-7.3ZM1881.1,1474.5h7.3v-1.0h-7.3ZM1897.2,1474.5h8.8v-1.0h-8.8ZM1906.0,1474.5h8.8v-3.4h-8.8ZM1914.8,1474.5h8.8v-2.2h-8.8ZM1923.5,1474.5h17.6v-1.5h-17.6ZM1941.1,1474.5h20.5v-4.0h-20.5ZM1961.6,1474.5h11.7v-1.0h-11.7ZM1986.5,1474.5h7.3v-4.4h-7.3ZM1993.8,1474.5h5.9v-7.3h-5.9ZM1999.6,1474.5h5.9v-19.8h-5.9ZM2005.5,1474.5h7.3v-23.0h-7.3ZM2012.8,1474.5h7.3v-9.2h-7.3Z" fill="#0a0ab4"/>
<line x1="1030.0" y1="1522.2" x2="2043.5" y2="1522.2" stroke="#b8b8b8" stroke-width="2.6" stroke-linecap="butt"/>
<path d="M1123.9,1521.2h7.6v-1.5h-7.6ZM1131.5,1521.2h13.7v-3.8h-13.7ZM1145.2,1521.2h25.9v-6.1h-25.9ZM1171.1,1521.2h9.1v-4.3h-9.1ZM1180.2,1521.2h7.6v-2.3h-7.6ZM1198.5,1521.2h10.7v-3.3h-10.7ZM1209.1,1521.2h10.7v-6.8h-10.7ZM1219.8,1521.2h7.6v-9.1h-7.6ZM1227.4,1521.2h12.2v-10.3h-12.2ZM1239.6,1521.2h7.6v-8.4h-7.6ZM1247.2,1521.2h15.2v-8.8h-15.2ZM1262.4,1521.2h13.7v-9.7h-13.7ZM1276.1,1521.2h15.2v-7.9h-15.2ZM1291.3,1521.2h13.7v-9.1h-13.7ZM1300.0,1521.2h7.6v-9.1h-7.6ZM1307.6,1521.2h13.7v-11.6h-13.7ZM1321.3,1521.2h7.6v-6.5h-7.6ZM1328.9,1521.2h7.6v-8.1h-7.6ZM1336.5,1521.2h6.1v-13.4h-6.1ZM1342.6,1521.2h10.7v-18.3h-10.7ZM1353.3,1521.2h13.7v-22.8h-13.7ZM1367.0,1521.2h4.6v-19.5h-4.6ZM1371.5,1521.2h35.0v-24.0h-35.0ZM1406.5,1521.2h12.2v-16.1h-12.2ZM1418.7,1521.2h6.1v-13.4h-6.1ZM1424.8,1521.2h12.2v-9.6h-12.2ZM1437.0,1521.2h15.2v-6.1h-15.2ZM1452.2,1521.2h15.2v-7.0h-15.2ZM1467.4,1521.2h18.3v-5.8h-18.3ZM1485.7,1521.2h33.5v-3.5h-33.5ZM1519.1,1521.2h12.2v-4.6h-12.2ZM1531.3,1521.2h12.2v-2.4h-12.2ZM1543.5,1521.2h12.2v-1.2h-12.2ZM1555.7,1521.2h24.3v-2.0h-24.3ZM1575.0,1521.2h21.3v-1.5h-21.3ZM1596.3,1521.2h19.8v-2.4h-19.8ZM1616.1,1521.2h7.6v-0.5h-7.6ZM1623.7,1521.2h15.2v-1.5h-15.2ZM1638.9,1521.2h9.1v-0.5h-9.1ZM1648.0,1521.2h13.7v-0.8h-13.7ZM1663.3,1521.2h24.3v-0.9h-24.3ZM1687.6,1521.2h19.8v-1.8h-19.8ZM1707.4,1521.2h10.7v-0.6h-10.7ZM1995.2,1521.2h4.4v-1.0h-4.4ZM1999.6,1521.2h5.9v-4.4h-5.9ZM2005.5,1521.2h7.3v-6.3h-7.3ZM2012.8,1521.2h7.3v-2.9h-7.3Z" fill="#f01818"/>
<line x1="1030.0" y1="1568.4" x2="2043.5" y2="1568.4" stroke="#0a0ab4" stroke-width="3.5" stroke-linecap="butt"/>
<path d="M1128.5,1567.0h18.3v-0.8h-18.3ZM1146.7,1567.0h30.4v-1.8h-30.4ZM1177.2,1567.0h27.4v-0.8h-27.4ZM1204.6,1567.0h27.4v-3.0h-27.4ZM1232.0,1567.0h9.1v-4.3h-9.1ZM1241.1,1567.0h42.6v-3.5h-42.6ZM1283.7,1567.0h21.3v-4.3h-21.3ZM1300.0,1567.0h9.1v-3.8h-9.1ZM1309.1,1567.0h19.8v-2.6h-19.8ZM1328.9,1567.0h7.6v-4.1h-7.6ZM1336.5,1567.0h16.7v-6.1h-16.7ZM1353.3,1567.0h25.9v-8.7h-25.9ZM1379.1,1567.0h9.1v-9.9h-9.1ZM1388.3,1567.0h18.3v-12.9h-18.3ZM1406.5,1567.0h13.7v-10.7h-13.7ZM1420.2,1567.0h10.7v-8.1h-10.7ZM1430.9,1567.0h21.3v-5.3h-21.3ZM1452.2,1567.0h18.3v-3.0h-18.3ZM1470.4,1567.0h9.1v-1.1h-9.1ZM1479.6,1567.0h21.3v-2.3h-21.3ZM1500.9,1567.0h9.1v-0.8h-9.1ZM1510.0,1567.0h36.5v-2.3h-36.5ZM1546.5,1567.0h33.5v-0.8h-33.5ZM1575.0,1567.0h19.8v-0.8h-19.8ZM1594.8,1567.0h9.1v-2.3h-9.1ZM1603.9,1567.0h251.1v-0.5h-251.1ZM1999.6,1567.0h5.9v-2.9h-5.9ZM2005.5,1567.0h7.3v-4.7h-7.3ZM2012.8,1567.0h7.3v-2.6h-7.3Z" fill="#0a0ab4"/>
<line x1="1029.6" y1="1613.8" x2="2039.9" y2="1613.8" stroke="#b8b8b8" stroke-width="3" stroke-linecap="butt"/>
<path d="M1982.1,1612.6h5.9v-1.5h-5.9ZM1987.9,1612.6h11.7v-3.7h-11.7ZM1999.6,1612.6h13.2v-8.5h-13.2ZM2012.8,1612.6h7.3v-4.8h-7.3Z" fill="#f01818"/>
<line x1="1029.6" y1="1661.1" x2="2043.5" y2="1661.1" stroke="#0a0ab4" stroke-width="3.7" stroke-linecap="butt"/>
<path d="M1980.6,1659.5h7.3v-0.7h-7.3ZM1987.9,1659.5h5.9v-2.9h-5.9ZM1993.8,1659.5h5.9v-5.4h-5.9ZM1999.6,1659.5h5.9v-11.7h-5.9ZM2005.5,1659.5h7.3v-13.6h-7.3ZM2012.8,1659.5h7.3v-6.6h-7.3Z" fill="#0a0ab4"/>
<rect x="1029.00" y="1670.00" width="283.00" height="9.00" fill="#0a0ab4"/>
<rect x="1140.60" y="1666.50" width="62.40" height="16.00" fill="#0a0ab4"/>
<path d="M1187,1669.5 L1182.5,1674.5 L1187,1679.5" fill="none" stroke="#fff" stroke-width="2.2"/>
<text x="1028.0" y="1702.0" font-size="20">KLLN</text>
<line x1="1149.8" y1="1715.6" x2="2043.0" y2="1715.6" stroke="#0a0ab4" stroke-width="3.8" stroke-linecap="butt"/>
<rect x="1312.00" y="1711.00" width="119.00" height="9.00" fill="#0a0ab4"/>
<rect x="1431.20" y="1707.60" width="9.80" height="16.00" fill="#0a0ab4"/>
<path d="M1456.5,1710.6 L1461.1,1715.6 L1456.5,1720.6" fill="none" stroke="#1414d6" stroke-width="3.4"/>
<path d="M1496.8,1710.6 L1501.4,1715.6 L1496.8,1720.6" fill="none" stroke="#1414d6" stroke-width="3.4"/>
<path d="M1537.1,1710.6 L1541.7,1715.6 L1537.1,1720.6" fill="none" stroke="#1414d6" stroke-width="3.4"/>
<path d="M1577.4,1710.6 L1582.0,1715.6 L1577.4,1720.6" fill="none" stroke="#1414d6" stroke-width="3.4"/>
<path d="M1617.7,1710.6 L1622.3,1715.6 L1617.7,1720.6" fill="none" stroke="#1414d6" stroke-width="3.4"/>
<path d="M1658.0,1710.6 L1662.6,1715.6 L1658.0,1720.6" fill="none" stroke="#1414d6" stroke-width="3.4"/>
<path d="M1698.3,1710.6 L1702.9,1715.6 L1698.3,1720.6" fill="none" stroke="#1414d6" stroke-width="3.4"/>
<path d="M1738.6,1710.6 L1743.2,1715.6 L1738.6,1720.6" fill="none" stroke="#1414d6" stroke-width="3.4"/>
<path d="M1778.9,1710.6 L1783.5,1715.6 L1778.9,1720.6" fill="none" stroke="#1414d6" stroke-width="3.4"/>
<path d="M1819.2,1710.6 L1823.8,1715.6 L1819.2,1720.6" fill="none" stroke="#1414d6" stroke-width="3.4"/>
<path d="M1859.5,1710.6 L1864.1,1715.6 L1859.5,1720.6" fill="none" stroke="#1414d6" stroke-width="3.4"/>
<path d="M1899.8,1710.6 L1904.4,1715.6 L1899.8,1720.6" fill="none" stroke="#1414d6" stroke-width="3.4"/>
<path d="M1940.1,1710.6 L1944.7,1715.6 L1940.1,1720.6" fill="none" stroke="#1414d6" stroke-width="3.4"/>
<path d="M1980.4,1710.6 L1985.0,1715.6 L1980.4,1720.6" fill="none" stroke="#1414d6" stroke-width="3.4"/>
<path d="M2020.7,1710.6 L2025.3,1715.6 L2020.7,1720.6" fill="none" stroke="#1414d6" stroke-width="3.4"/>
<text x="1745.0" y="1759.0" font-size="28" text-anchor="middle" font-weight="bold">PTEN</text>
<line x1="1026.5" y1="1826.0" x2="2043.4" y2="1826.0" stroke="#111" stroke-width="3.8" stroke-linecap="butt"/>
<line x1="1096.5" y1="1811.0" x2="1096.5" y2="1826.0" stroke="#111" stroke-width="3.2" stroke-linecap="butt"/>
<line x1="1266.9" y1="1811.0" x2="1266.9" y2="1826.0" stroke="#111" stroke-width="3.2" stroke-linecap="butt"/>
<line x1="1438.0" y1="1811.0" x2="1438.0" y2="1826.0" stroke="#111" stroke-width="3.2" stroke-linecap="butt"/>
<line x1="1607.5" y1="1811.0" x2="1607.5" y2="1826.0" stroke="#111" stroke-width="3.2" stroke-linecap="butt"/>
<line x1="1778.5" y1="1811.0" x2="1778.5" y2="1826.0" stroke="#111" stroke-width="3.2" stroke-linecap="butt"/>
<line x1="1949.8" y1="1811.0" x2="1949.8" y2="1826.0" stroke="#111" stroke-width="3.2" stroke-linecap="butt"/>
<text x="1099.6" y="1805.3" font-size="17" text-anchor="middle">3,780 kb</text>
<text x="1441.0" y="1805.3" font-size="17" text-anchor="middle">3,782 kb</text>
<text x="1781.7" y="1805.3" font-size="17" text-anchor="middle">3,784 kb</text>
<text x="924.6" y="1867.4" font-size="20.5">shStau2<tspan dy="-2">_</tspan></text>
<text x="924.6" y="1886.3" font-size="20.5">H3K4me2</text>
<text x="1023.5" y="1846.1" font-size="16.8">[0 - 100]</text>
<text x="924.6" y="1923.7" font-size="20.5">shCtrl<tspan dy="-2">_</tspan></text>
<text x="924.6" y="1942.9" font-size="20.5">H3K4me2</text>
<text x="1023.5" y="1902.4" font-size="16.8">[0 - 100]</text>
<text x="924.6" y="1973.3" font-size="20.5">shStau2<tspan dy="-2">_</tspan></text>
<text x="924.6" y="1991.5" font-size="20.5">H3K4me3</text>
<text x="1023.5" y="1959.3" font-size="16.8">[0 - 250]</text>
<text x="924.6" y="2029.3" font-size="20.5">shCtrl<tspan dy="-2">_</tspan></text>
<text x="924.6" y="2047.5" font-size="20.5">H3K4me3</text>
<text x="1023.5" y="2011.3" font-size="16.8">[0 - 250]</text>
<text x="929.1" y="2091.7" font-size="20.5">shStau2<tspan dy="-2">_</tspan></text>
<text x="929.1" y="2110.2" font-size="20.5">Input</text>
<text x="1023.5" y="2067.6" font-size="16.8">[0 - 100]</text>
<text x="952.0" y="2143.7" font-size="20.5">shCtrl<tspan dy="-2">_</tspan></text>
<text x="952.0" y="2162.6" font-size="20.5">Input</text>
<text x="1023.5" y="2127.6" font-size="16.8">[0 - 100]</text>
<line x1="1026.0" y1="1883.4" x2="2044.0" y2="1883.4" stroke="#b8b8b8" stroke-width="3" stroke-linecap="butt"/>
<path d="M1087.7,1882.2h18.3v-1.5h-18.3ZM1181.3,1882.2h25.9v-2.6h-25.9ZM1207.2,1882.2h9.1v-1.5h-9.1ZM1223.9,1882.2h16.7v-1.5h-16.7ZM1240.7,1882.2h27.4v-2.6h-27.4ZM1299.6,1882.2h18.3v-1.1h-18.3ZM1317.8,1882.2h25.9v-2.1h-25.9ZM1359.7,1882.2h27.4v-1.1h-27.4ZM1427.4,1882.2h10.7v-1.1h-10.7ZM1470.8,1882.2h8.4v-3.7h-8.4ZM1479.1,1882.2h10.7v-4.9h-10.7ZM1489.8,1882.2h9.1v-3.7h-9.1ZM1498.9,1882.2h5.3v-1.5h-5.3ZM1504.3,1882.2h9.1v-4.9h-9.1ZM1513.4,1882.2h8.4v-7.6h-8.4ZM1521.8,1882.2h9.1v-10.2h-9.1ZM1530.9,1882.2h8.4v-13.2h-8.4ZM1539.3,1882.2h16.0v-19.8h-16.0ZM1555.2,1882.2h10.7v-21.6h-10.7ZM1565.9,1882.2h9.1v-23.1h-9.1ZM1570.0,1882.2h12.2v-22.8h-12.2ZM1582.2,1882.2h9.1v-21.6h-9.1ZM1591.3,1882.2h9.1v-16.3h-9.1ZM1600.4,1882.2h9.1v-13.2h-9.1ZM1609.6,1882.2h9.1v-9.0h-9.1ZM1618.7,1882.2h4.6v-6.1h-4.6ZM1623.3,1882.2h9.1v-10.2h-9.1ZM1632.4,1882.2h9.1v-12.8h-9.1ZM1641.5,1882.2h18.3v-15.8h-18.3ZM1659.8,1882.2h9.1v-14.8h-9.1ZM1668.9,1882.2h14.5v-10.2h-14.5ZM1683.4,1882.2h8.4v-15.8h-8.4ZM1691.7,1882.2h10.7v-17.3h-10.7ZM1702.4,1882.2h9.1v-16.3h-9.1ZM1711.5,1882.2h7.6v-13.7h-7.6ZM1719.1,1882.2h9.1v-12.2h-9.1ZM1728.3,1882.2h6.1v-9.4h-6.1ZM1734.4,1882.2h18.3v-10.2h-18.3ZM1752.6,1882.2h9.1v-9.1h-9.1ZM1761.8,1882.2h10.7v-6.4h-10.7ZM1772.4,1882.2h4.6v-4.9h-4.6ZM1777.0,1882.2h9.1v-7.6h-9.1ZM1786.1,1882.2h18.3v-9.1h-18.3ZM1804.4,1882.2h27.4v-7.6h-27.4ZM1831.8,1882.2h9.1v-6.4h-9.1ZM1840.9,1882.2h9.1v-9.1h-9.1ZM1846.0,1882.2h9.8v-8.9h-9.8ZM1855.8,1882.2h8.7v-6.3h-8.7ZM1864.5,1882.2h8.7v-3.5h-8.7ZM1873.3,1882.2h5.5v-0.9h-5.5ZM1878.7,1882.2h9.8v-2.0h-9.8ZM1888.6,1882.2h7.6v-3.3h-7.6ZM1896.2,1882.2h19.6v-4.6h-19.6ZM1915.8,1882.2h6.5v-1.6h-6.5ZM1922.4,1882.2h42.6v-3.5h-42.6ZM1964.9,1882.2h10.4v-4.6h-10.4ZM1975.3,1882.2h16.9v-2.0h-16.9Z" fill="#f01818"/>
<line x1="1026.0" y1="1939.1" x2="2044.0" y2="1939.1" stroke="#0a0ab4" stroke-width="3.8" stroke-linecap="butt"/>
<path d="M1418.3,1937.5h12.2v-1.2h-12.2ZM1470.0,1937.5h9.1v-1.2h-9.1ZM1479.1,1937.5h10.7v-2.3h-10.7ZM1489.8,1937.5h6.1v-1.2h-6.1ZM1495.9,1937.5h8.4v-2.3h-8.4ZM1504.3,1937.5h26.6v-3.8h-26.6ZM1530.9,1937.5h7.6v-5.3h-7.6ZM1538.5,1937.5h25.9v-6.4h-25.9ZM1564.4,1937.5h10.7v-8.4h-10.7ZM1570.0,1937.5h6.1v-7.6h-6.1ZM1576.1,1937.5h7.6v-9.1h-7.6ZM1583.7,1937.5h16.7v-7.6h-16.7ZM1600.4,1937.5h9.1v-5.3h-9.1ZM1609.6,1937.5h9.1v-3.8h-9.1ZM1618.7,1937.5h4.6v-2.3h-4.6ZM1623.3,1937.5h9.1v-6.4h-9.1ZM1632.4,1937.5h9.1v-10.3h-9.1ZM1641.5,1937.5h9.1v-11.4h-9.1ZM1650.7,1937.5h8.4v-10.3h-8.4ZM1659.0,1937.5h16.0v-14.9h-16.0ZM1675.0,1937.5h10.7v-16.0h-10.7ZM1685.7,1937.5h8.4v-13.7h-8.4ZM1694.0,1937.5h6.8v-9.4h-6.8ZM1700.9,1937.5h8.4v-13.7h-8.4ZM1709.2,1937.5h8.4v-18.0h-8.4ZM1717.6,1937.5h10.7v-20.5h-10.7ZM1728.3,1937.5h9.1v-16.4h-9.1ZM1737.4,1937.5h7.6v-11.9h-7.6ZM1745.0,1937.5h9.1v-10.3h-9.1ZM1754.1,1937.5h7.6v-7.6h-7.6ZM1761.8,1937.5h33.5v-6.4h-33.5ZM1795.2,1937.5h9.1v-7.6h-9.1ZM1804.4,1937.5h9.1v-6.4h-9.1ZM1813.5,1937.5h6.1v-4.3h-6.1ZM1819.6,1937.5h9.1v-6.4h-9.1ZM1828.7,1937.5h9.1v-10.3h-9.1ZM1837.8,1937.5h9.1v-11.0h-9.1ZM1846.0,1937.5h2.2v-9.8h-2.2ZM1847.0,1937.5h3.0v-6.4h-3.0ZM1848.2,1937.5h7.6v-6.0h-7.6ZM1855.8,1937.5h9.3v-2.2h-9.3ZM1865.1,1937.5h5.5v-1.1h-5.5ZM1870.5,1937.5h8.2v-3.8h-8.2ZM1878.7,1937.5h9.8v-6.0h-9.8ZM1888.6,1937.5h10.9v-7.4h-10.9ZM1899.5,1937.5h8.7v-4.9h-8.7ZM1908.2,1937.5h5.5v-3.5h-5.5ZM1913.6,1937.5h18.5v-4.6h-18.5ZM1932.2,1937.5h9.8v-3.3h-9.8ZM1942.0,1937.5h6.0v-1.6h-6.0ZM1948.0,1937.5h8.2v-4.6h-8.2ZM1956.2,1937.5h8.7v-6.0h-8.7ZM1964.9,1937.5h10.4v-7.4h-10.4ZM1975.3,1937.5h8.2v-3.3h-8.2ZM1983.5,1937.5h9.8v-1.1h-9.8Z" fill="#0a0ab4"/>
<line x1="1026.0" y1="1994.9" x2="2044.0" y2="1994.9" stroke="#b8b8b8" stroke-width="3.4" stroke-linecap="butt"/>
<path d="M1530.1,1993.5h16.7v-0.8h-16.7ZM1546.9,1993.5h8.4v-3.0h-8.4ZM1555.2,1993.5h10.7v-5.0h-10.7ZM1565.9,1993.5h9.1v-2.6h-9.1ZM1570.0,1993.5h30.4v-2.3h-30.4ZM1600.4,1993.5h4.6v-0.8h-4.6ZM1605.0,1993.5h12.2v-2.3h-12.2ZM1617.2,1993.5h6.1v-1.1h-6.1ZM1623.3,1993.5h18.3v-2.3h-18.3ZM1641.5,1993.5h9.1v-5.3h-9.1ZM1650.7,1993.5h9.1v-6.4h-9.1ZM1659.8,1993.5h7.6v-7.9h-7.6ZM1667.4,1993.5h9.1v-8.8h-9.1ZM1676.5,1993.5h7.6v-9.4h-7.6ZM1684.1,1993.5h16.7v-11.0h-16.7ZM1700.9,1993.5h10.7v-13.7h-10.7ZM1711.5,1993.5h22.8v-12.5h-22.8ZM1734.4,1993.5h18.3v-14.0h-18.3ZM1752.6,1993.5h9.1v-9.9h-9.1ZM1761.8,1993.5h7.6v-8.4h-7.6ZM1769.4,1993.5h7.6v-9.9h-7.6ZM1777.0,1993.5h18.3v-14.0h-18.3ZM1795.2,1993.5h25.9v-15.2h-25.9ZM1821.1,1993.5h9.9v-13.4h-9.9ZM1831.0,1993.5h19.0v-9.9h-19.0ZM1846.0,1993.5h9.8v-9.1h-9.8ZM1855.8,1993.5h8.7v-8.0h-8.7ZM1864.5,1993.5h14.2v-6.0h-14.2ZM1878.7,1993.5h9.8v-13.6h-9.8ZM1888.6,1993.5h8.2v-21.8h-8.2ZM1896.7,1993.5h18.0v-27.8h-18.0ZM1914.7,1993.5h8.7v-33.1h-8.7ZM1923.5,1993.5h17.5v-34.6h-17.5ZM1940.9,1993.5h15.3v-28.0h-15.3ZM1956.2,1993.5h10.4v-26.2h-10.4ZM1966.6,1993.5h8.7v-21.8h-8.7ZM1975.3,1993.5h8.2v-14.9h-8.2ZM1983.5,1993.5h9.3v-8.0h-9.3ZM1992.8,1993.5h8.2v-1.1h-8.2Z" fill="#f01818"/>
<line x1="1026.0" y1="2050.2" x2="2044.0" y2="2050.2" stroke="#0a0ab4" stroke-width="3.8" stroke-linecap="butt"/>
<path d="M1564.4,2048.6h10.7v-0.9h-10.7ZM1570.0,2048.6h70.0v-0.9h-70.0ZM1640.0,2048.6h18.3v-1.5h-18.3ZM1658.3,2048.6h9.1v-2.0h-9.1ZM1667.4,2048.6h12.2v-3.0h-12.2ZM1679.6,2048.6h4.6v-2.0h-4.6ZM1684.1,2048.6h25.9v-3.5h-25.9ZM1710.0,2048.6h7.6v-4.3h-7.6ZM1717.6,2048.6h9.9v-7.3h-9.9ZM1727.5,2048.6h34.2v-4.6h-34.2ZM1761.8,2048.6h10.7v-3.5h-10.7ZM1772.4,2048.6h4.6v-2.0h-4.6ZM1777.0,2048.6h18.3v-3.5h-18.3ZM1795.2,2048.6h9.1v-6.1h-9.1ZM1804.4,2048.6h9.1v-5.0h-9.1ZM1813.5,2048.6h6.1v-2.0h-6.1ZM1819.6,2048.6h21.3v-4.3h-21.3ZM1840.9,2048.6h4.6v-3.5h-4.6ZM1845.5,2048.6h4.6v-6.1h-4.6ZM1846.0,2048.6h9.8v-5.5h-9.8ZM1855.8,2048.6h9.3v-2.7h-9.3ZM1865.1,2048.6h13.6v-0.5h-13.6ZM1878.7,2048.6h9.8v-5.5h-9.8ZM1888.6,2048.6h8.2v-7.3h-8.2ZM1896.7,2048.6h8.2v-8.4h-8.2ZM1904.9,2048.6h9.3v-12.5h-9.3ZM1914.2,2048.6h8.2v-14.9h-8.2ZM1922.4,2048.6h10.9v-19.3h-10.9ZM1933.3,2048.6h15.8v-16.7h-15.8ZM1949.1,2048.6h9.3v-12.5h-9.3ZM1958.4,2048.6h8.2v-11.5h-8.2ZM1966.6,2048.6h8.7v-10.4h-8.7ZM1975.3,2048.6h8.2v-6.0h-8.2ZM1983.5,2048.6h9.8v-2.2h-9.8Z" fill="#0a0ab4"/>
<line x1="1026.0" y1="2106.0" x2="2044.0" y2="2106.0" stroke="#b8b8b8" stroke-width="3" stroke-linecap="butt"/>
<line x1="1026.0" y1="2162.0" x2="2044.0" y2="2162.0" stroke="#0a0ab4" stroke-width="3.8" stroke-linecap="butt"/>
<line x1="1025.0" y1="2178.4" x2="1996.0" y2="2178.4" stroke="#0a0ab4" stroke-width="3.8" stroke-linecap="butt"/>
<rect x="1114.80" y="2168.90" width="19.70" height="19.00" fill="#0a0ab4"/>
<rect x="1397.20" y="2168.90" width="76.10" height="19.00" fill="#0a0ab4"/>
<rect x="1933.60" y="2168.90" width="16.80" height="19.00" fill="#0a0ab4"/>
<rect x="1950.40" y="2172.90" width="45.60" height="11.00" fill="#0a0ab4"/>
<path d="M1443,2173.4 L1438,2178.4 L1443,2183.4" fill="none" stroke="#fff" stroke-width="2.2"/>
<path d="M1051.6,2173.4 L1047.0,2178.4 L1051.6,2183.4" fill="none" stroke="#1414d6" stroke-width="3.4"/>
<path d="M1092.7,2173.4 L1088.1,2178.4 L1092.7,2183.4" fill="none" stroke="#1414d6" stroke-width="3.4"/>
<path d="M1160.6,2173.4 L1156.0,2178.4 L1160.6,2183.4" fill="none" stroke="#1414d6" stroke-width="3.4"/>
<path d="M1201.3,2173.4 L1196.7,2178.4 L1201.3,2183.4" fill="none" stroke="#1414d6" stroke-width="3.4"/>
<path d="M1241.8,2173.4 L1237.2,2178.4 L1241.8,2183.4" fill="none" stroke="#1414d6" stroke-width="3.4"/>
<path d="M1282.9,2173.4 L1278.3,2178.4 L1282.9,2183.4" fill="none" stroke="#1414d6" stroke-width="3.4"/>
<path d="M1324.0,2173.4 L1319.4,2178.4 L1324.0,2183.4" fill="none" stroke="#1414d6" stroke-width="3.4"/>
<path d="M1365.1,2173.4 L1360.5,2178.4 L1365.1,2183.4" fill="none" stroke="#1414d6" stroke-width="3.4"/>
<path d="M1498.9,2173.4 L1494.3,2178.4 L1498.9,2183.4" fill="none" stroke="#1414d6" stroke-width="3.4"/>
<path d="M1539.7,2173.4 L1535.1,2178.4 L1539.7,2183.4" fill="none" stroke="#1414d6" stroke-width="3.4"/>
<path d="M1580.8,2173.4 L1576.2,2178.4 L1580.8,2183.4" fill="none" stroke="#1414d6" stroke-width="3.4"/>
<path d="M1621.5,2173.4 L1616.9,2178.4 L1621.5,2183.4" fill="none" stroke="#1414d6" stroke-width="3.4"/>
<path d="M1662.3,2173.4 L1657.7,2178.4 L1662.3,2183.4" fill="none" stroke="#1414d6" stroke-width="3.4"/>
<path d="M1703.3,2173.4 L1698.7,2178.4 L1703.3,2183.4" fill="none" stroke="#1414d6" stroke-width="3.4"/>
<path d="M1744.2,2173.4 L1739.6,2178.4 L1744.2,2183.4" fill="none" stroke="#1414d6" stroke-width="3.4"/>
<path d="M1784.9,2173.4 L1780.3,2178.4 L1784.9,2183.4" fill="none" stroke="#1414d6" stroke-width="3.4"/>
<path d="M1825.4,2173.4 L1820.8,2178.4 L1825.4,2183.4" fill="none" stroke="#1414d6" stroke-width="3.4"/>
<path d="M1866.1,2173.4 L1861.5,2178.4 L1866.1,2183.4" fill="none" stroke="#1414d6" stroke-width="3.4"/>
<path d="M1906.6,2173.4 L1902.0,2178.4 L1906.6,2183.4" fill="none" stroke="#1414d6" stroke-width="3.4"/>
<text x="1454.0" y="2229.0" font-size="28" font-weight="bold">KLF6</text>
</svg></body></html>
